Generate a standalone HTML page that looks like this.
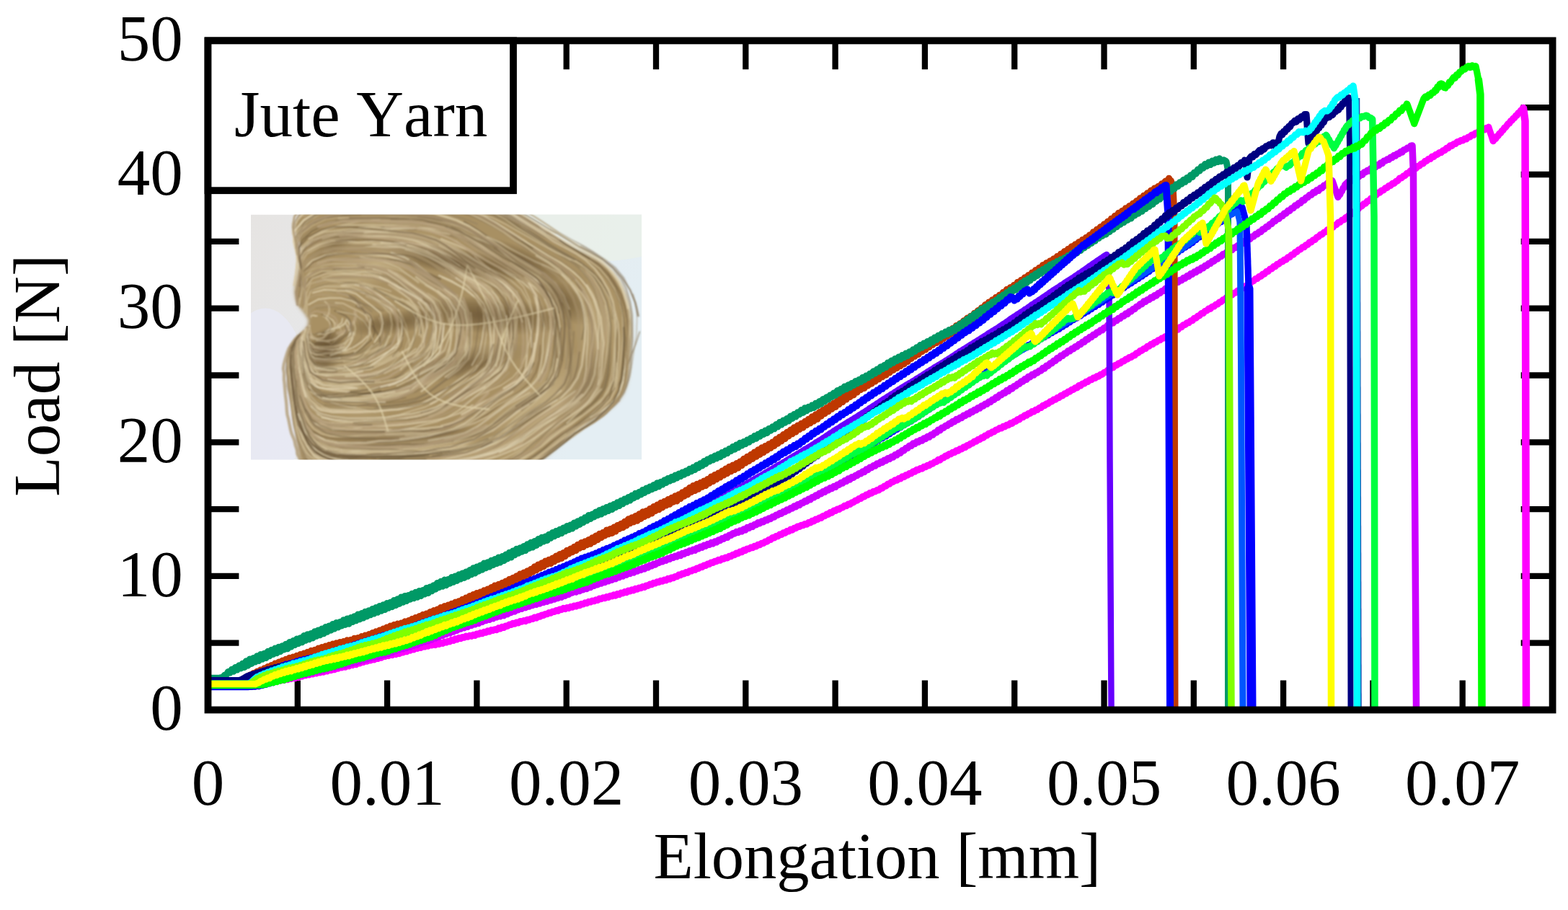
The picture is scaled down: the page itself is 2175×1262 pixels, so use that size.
<!DOCTYPE html>
<html lang="en"><head><meta charset="utf-8"><title>Jute Yarn - Load vs Elongation</title>
<style>html,body{margin:0;padding:0;background:#fff}body{width:2175px;height:1262px;overflow:hidden}svg{display:block}text{font-family:"Liberation Serif","DejaVu Serif",serif;font-size:91px;fill:#000;font-kerning:none}</style></head><body>
<svg width="2175" height="1262" viewBox="0 0 2175 1262">
<rect width="2175" height="1262" fill="#fff"/>
<defs><clipPath id="pc"><rect width="542" height="340"/></clipPath><linearGradient id="pbg" x1="0" y1="0" x2="1" y2="0.25"><stop offset="0" stop-color="#e6e4e2"/><stop offset="0.45" stop-color="#e7e9ec"/><stop offset="1" stop-color="#e4eef3"/></linearGradient><radialGradient id="psh" cx="0.5" cy="0.5" r="0.5"><stop offset="0" stop-color="#5a4528" stop-opacity="0.8"/><stop offset="0.6" stop-color="#5a4528" stop-opacity="0.35"/><stop offset="1" stop-color="#5a4528" stop-opacity="0"/></radialGradient><radialGradient id="phl" cx="0.5" cy="0.5" r="0.5"><stop offset="0" stop-color="#dccaa0" stop-opacity="0.6"/><stop offset="1" stop-color="#dccaa0" stop-opacity="0"/></radialGradient><filter id="pbf" x="-5%" y="-5%" width="110%" height="110%"><feGaussianBlur stdDeviation="0.9"/></filter><filter id="pbe" x="-5%" y="-5%" width="110%" height="110%"><feGaussianBlur stdDeviation="2"/></filter></defs>
<g transform="translate(348 297.5)" clip-path="url(#pc)">
<rect width="542" height="340" fill="url(#pbg)"/>
<ellipse cx="480" cy="10" rx="130" ry="55" fill="#eaf0e8" opacity="0.8"/>
<ellipse cx="20" cy="250" rx="60" ry="120" fill="#e8eaf5" opacity="0.8"/>
<g filter="url(#pbf)">
<path d="M60 13.5 L64.2 4 L71.1 -4.6 L78.7 -12.3 L86.9 -19.1 L95.5 -25 L104.6 -29.9 L114 -34.1 L123.8 -37.4 L134 -40 L144.4 -41.9 L155.2 -43.2 L166.2 -43.8 L177.3 -43.8 L188.7 -43.3 L200.2 -42.2 L211.8 -40.7 L223.4 -38.7 L235.1 -36.4 L246.9 -33.7 L258.5 -30.8 L270.2 -27.5 L281.7 -24 L293.1 -20.3 L304.4 -16.5 L315.5 -12.6 L326.3 -8.6 L336.9 -4.6 L347.2 -0.6 L357.2 3.4 L367 7.4 L376.6 11.6 L386 15.9 L395.4 20.5 L404.8 25.3 L414.2 30.1 L423.6 35 L433.1 39.8 L442.7 44.4 L452.5 48.9 L462.4 53.3 L472 57.9 L481.4 63 L490.1 68.7 L498.1 75.4 L505.2 83.2 L511.4 91.9 L516.6 101.4 L520.8 111.3 L524.1 121.6 L526.4 132 L527.9 142.5 L528.6 153.1 L528.7 163.6 L528.3 174.1 L527.5 184.6 L526.6 195.2 L525.7 205.9 L524.8 216.8 L523.4 227.5 L521 237.8 L517.2 247.4 L511.6 256 L504.4 263.8 L496.1 270.8 L487.3 277.3 L478.3 283.3 L469.3 289.1 L460.4 294.8 L451.8 300.7 L443.4 306.8 L435.4 313.3 L427.6 320 L419.7 327 L411.6 333.9 L403 340.8 L393.8 347.5 L383.9 353.9 L373.4 360 L362.5 365.8 L351 371.3 L339.1 376.5 L326.8 381.4 L314.3 385.9 L301.4 389.9 L288.4 393.6 L275.3 396.9 L262 399.8 L248.8 402.2 L235.6 404.1 L222.4 405.5 L209.4 406.4 L196.7 406.8 L184.1 406.7 L171.9 406 L160.1 404.7 L148.7 402.9 L137.7 400.4 L127.4 397.3 L117.6 393.5 L108.5 389.1 L100 384 L92.4 378.2 L85.6 371.7 L79.7 364.4 L74.7 356.4 L70.7 347.7 L67.8 338.1 L65.7 327.9 L64.3 317.2 L63.1 306.5 L61.8 295.9 L60.3 285.4 L58.7 275 L57.1 264.6 L55.3 254.2 L53.6 243.6 L52.1 233 L51 222.3 L50.8 211.8 L51.9 201.5 L54.4 191.5 L58.5 181.9 L64.3 172.5 L71.7 163.5 L78.7 154.7 L79.9 146 L74.5 137.3 L67.1 128.1 L62.2 118.1 L60.6 107.6 L61.4 96.8 L63.7 86 L66.5 75.3 L68.9 64.9 L69.9 54.5 L68.5 44.1 L64.6 33.7 L60.8 23.4 L60 13.5Z" fill="#a89064" filter="url(#pbe)"/>
<ellipse cx="290" cy="66" rx="110" ry="20" transform="rotate(10 290 66)" fill="url(#psh)" opacity="0.9"/>
<ellipse cx="104" cy="188" rx="26" ry="34" transform="rotate(25 104 188)" fill="url(#psh)" opacity="1.0"/>
<ellipse cx="330" cy="140" rx="120" ry="26" transform="rotate(4 330 140)" fill="url(#psh)" opacity="0.7"/>
<ellipse cx="300" cy="205" rx="90" ry="22" transform="rotate(-12 300 205)" fill="url(#psh)" opacity="0.5"/>
<ellipse cx="435" cy="118" rx="50" ry="22" transform="rotate(42 435 118)" fill="url(#psh)" opacity="0.5"/>
<ellipse cx="470" cy="235" rx="36" ry="60" transform="rotate(30 470 235)" fill="url(#psh)" opacity="0.35"/>
<ellipse cx="220" cy="310" rx="140" ry="16" transform="rotate(-4 220 310)" fill="url(#psh)" opacity="0.4"/>
<ellipse cx="120" cy="40" rx="50" ry="14" transform="rotate(-30 120 40)" fill="url(#psh)" opacity="0.4"/>
<ellipse cx="380" cy="62" rx="70" ry="14" transform="rotate(25 380 62)" fill="url(#psh)" opacity="0.5"/>
<ellipse cx="200" cy="150" rx="70" ry="16" transform="rotate(-8 200 150)" fill="url(#psh)" opacity="0.6"/>
<ellipse cx="170" cy="70" rx="110" ry="30" transform="rotate(-25 170 70)" fill="url(#phl)" opacity="0.8"/>
<ellipse cx="410" cy="255" rx="110" ry="40" transform="rotate(-35 410 255)" fill="url(#phl)" opacity="0.8"/>
<ellipse cx="260" cy="325" rx="160" ry="22" transform="rotate(0 260 325)" fill="url(#phl)" opacity="0.7"/>
<ellipse cx="140" cy="250" rx="60" ry="45" transform="rotate(40 140 250)" fill="url(#phl)" opacity="0.6"/>
<ellipse cx="480" cy="150" rx="35" ry="70" transform="rotate(0 480 150)" fill="url(#phl)" opacity="0.6"/>
<ellipse cx="330" cy="190" rx="60" ry="20" transform="rotate(0 330 190)" fill="url(#phl)" opacity="0.5"/>
<g fill="none" stroke-linecap="round" stroke-linejoin="round"><path d="M169 154.7 L174.5 163.3 L178.9 171.5 L179.5 179.8 L177.2 187.2 L172.8 196.2" stroke="#6c5a3e" stroke-width="2.5" opacity="0.6"/>
<path d="M530.1 110.2 L535.7 130.3 L535.5 148.8 L534.9 167.1 L531.8 185.6 L529.2 203.7 L526.2 222.8 L520.7 239.8 L511.2 255.5 L498.3 267.6 L482 278.2 L464.6 288.1 L448.8 296.9 L434 307.2 L416.7 319.6 L401.9 328.7 L386.4 338.1 L368.4 345.5 L350.7 351.7 L332.4 355.8 L314.5 358.2 L296.8 360.2 L279.2 361.3 L262.4 362.6 L244.8 363.6 L228.2 364.9" stroke="#988462" stroke-width="1.4" opacity="0.5"/>
<path d="M144.4 239.8 L122.5 238.1 L101.7 235.9 L85.6 228.8 L75.9 211.5 L73.2 193.2 L71.9 174.9 L77.5 157.8" stroke="#dacaa6" stroke-width="2.3" opacity="1"/>
<path d="M295.8 10.3 L310 18.6 L327.2 30 L341.4 39.1 L356.5 50.8 L374.5 60.7 L388.5 69.9 L404.4 79.9 L417.1 90.5 L429.8 105.6 L437.9 120.6 L442.7 138 L442.8 157.8" stroke="#6c5a3e" stroke-width="2.6" opacity="0.7"/>
<path d="M139.5 165.8 L137.4 170.6 L134 176.5 L130.6 182.1 L123.5 186.4 L117.3 190.3" stroke="#c9b890" stroke-width="2" opacity="0.7"/>
<path d="M329.1 247.2 L317.7 258.6 L306.1 270.6 L292.4 281.7 L279.5 289.9 L263.5 297.3 L247.4 302.7 L230.6 306.7 L213.2 309.7 L195.3 312.4 L177.1 314.8 L159.1 317.2 L138 318.3 L117.3 317.8" stroke="#baa480" stroke-width="4" opacity="0.8"/>
<path d="M265.3 328.6 L248.3 331 L232.6 334 L215.4 336.4 L196.8 338.7 L179.4 341 L161.1 342.8 L141.9 344.4 L119.8 344.1 L102.2 339.6 L87.7 332.7 L75.8 317" stroke="#756042" stroke-width="1.5" opacity="0.5"/>
<path d="M383.5 37.1 L396.5 46.1 L414.1 55.7 L429.1 63.6 L443.6 74 L456.1 84.3 L467.8 99.7 L474.6 113.3 L479.8 131.3 L481.6 148 L483.1 166.5 L482.6 183.2 L481.4 202.9 L479.2 219.8 L474.9 238 L463.2 253.4 L451.5 264.4 L435.5 276.4 L421.1 285.6 L405.6 295.4 L393.6 305.4 L377.5 317.2" stroke="#988462" stroke-width="1.9" opacity="0.5"/>
<path d="M159.9 113.3 L173.5 119.6 L187.4 126.2 L199.3 134.1 L208.1 146.3 L210.8 160.9" stroke="#d6c6a2" stroke-width="1.5" opacity="0.6"/>
<path d="M261 84.6 L278.2 92.2 L297.6 104 L313.6 116.7 L325.3 134.1 L330.1 151.1 L332.6 171.2 L334.4 191.5 L330.2 213 L318.1 226.2 L302.9 238.7 L288.4 252" stroke="#e4d8b8" stroke-width="2" opacity="0.8"/>
<path d="M278.3 17.1 L293.6 24.3 L311.3 33.5 L326.1 41.8 L340.9 51.2 L357.9 60.8 L373.9 69.1 L391.3 77.9 L405.6 86.5 L416.5 98.6 L428.4 114.4 L436.1 130.4 L440.6 147.6 L441.8 164.8 L442.9 182.9 L443.1 201.8 L439.9 219.3 L434.3 235.5 L421.8 250.4 L407.6 261.5 L391.7 272.8 L378.6 282.7 L365.7 293.4 L350.8 305.9 L336.2 314.8 L319.6 323" stroke="#7a6648" stroke-width="2.4" opacity="0.6"/>
<path d="M176.4 178.7 L166.1 185.7 L155 194.1 L141.9 199.2 L127.1 202.8 L112.9 204.3 L97.3 204.2 L84.6 198.9 L78.1 185.3" stroke="#c5b28a" stroke-width="2.1" opacity="0.9"/>
<path d="M178.2 143.3 L182.5 156.8 L184.4 170.9 L177.5 182.3 L167.2 191.4 L156.4 199.9 L143.2 205.9 L128.3 209.7 L115.2 210.8 L100.1 211.8 L84.7 207 L76.9 193.5 L74.8 176.9" stroke="#b6a07c" stroke-width="2.1" opacity="0.8"/>
<path d="M169 41.5 L187.8 42.8 L206.4 44.8 L225.3 50.3 L242.6 57.5 L257.7 65 L273.3 74.8 L290.5 85.7 L306.6 95.3 L318.4 105.8 L330.8 120 L337.4 138.3 L337.6 157.6 L337 174.6 L334.4 194 L326.2 211 L312.8 222.9 L297.5 232.8 L281.9 242.1 L265.9 253.2 L248.8 262.9" stroke="#dfd0ac" stroke-width="1.6" opacity="1"/>
<path d="M377.4 315.6 L367.2 323.2 L356.1 329.3 L346 333.5 L333.8 338.7 L320.5 343.3 L308 346.8 L298.3 348.9 L285 351.5 L271.8 354 L257.8 356.6 L246.8 357.7 L232.6 359.2 L220.2 360.8 L207.2 360.5 L195.7 360.8 L180.9 362.1 L166.4 362.7 L151.8 362.4 L139.3 361.7 L125.1 360.7 L111.9 358.8 L98.5 353.6 L89.8 347.2 L80.2 338.3 L73.6 327.3 L68 313.8 L65.2 302.4 L62.1 289.4 L59.5 275.1 L57.6 261.6 L56.6 250.6 L55.2 235.4 L53.1 221.2 L52.1 206 L52.5 194.1 L56.8 179.8 L65.6 168.5" stroke="#cdbb94" stroke-width="1.8" opacity="0.6"/>
<path d="M179.2 82.5 L195.3 92.7 L212.2 104.4 L227.7 114.2 L241.5 126.4 L247.4 144.1 L243.6 163.4 L240.1 182.6 L225.9 197 L208.7 207.1 L192.7 216.9 L174.3 223.7" stroke="#c9b890" stroke-width="1.8" opacity="0.7"/>
<path d="M180.9 17.9 L198.9 18.9 L217.6 20 L234.3 20.3 L250.5 21.9 L267.8 25.5 L284.3 31.2 L301.6 38.7 L317.5 47.9 L334.2 56.3 L350.3 65.4 L367.4 74.7 L383.7 84.2 L398.4 96.1 L410.4 110.4 L419 127.6 L425.5 145.5 L427.7 165.1 L426.6 180.3 L425.5 199.3 L425.4 218.6 L419.1 235.3 L404.8 247.5 L391.2 259.4 L375.6 271.2" stroke="#7a6648" stroke-width="2.3" opacity="0.7"/>
<path d="M149.5 98.2 L166 100.5 L181.6 106.6 L196.7 113.2 L213.9 120.6 L229.3 132.8" stroke="#cdbb94" stroke-width="2.4" opacity="0.8"/>
<path d="M292.5 286 L278 292.5 L259.7 297.7 L240.8 301.5 L224.7 303.1 L206.3 306 L190.1 306.5 L172.8 306.8 L152.5 307.4 L133.9 306.9 L114.3 305.1 L96 299.4 L83 290.8 L72.6 274.4 L68.3 257.6 L65.6 240 L63 220.7 L61 204.6 L61.2 186.2" stroke="#b6a07c" stroke-width="4.1" opacity="0.5"/>
<path d="M245.1 80.8 L262.5 94 L279.9 106.3 L292.4 123.1 L297.3 144 L295.2 165.4" stroke="#988462" stroke-width="1.1" opacity="0.7"/>
<path d="M70.6 97.5 L70.4 77.8 L65.9 61.3 L71.9 47.3 L88.7 36 L106.3 29 L123 26.4 L141.9 25.4 L161.1 25.3 L178.8 26.3 L197.1 27.6 L214.5 28.4 L230.7 30.3 L248.7 34.7 L264.9 41.5 L278.8 52.3 L293 61.2 L308.5 71.7 L322.7 79.9 L337.1 89.8 L350.4 100.1 L360.8 114.9 L366.2 131 L367.8 149.8 L368.6 169.6 L366.8 187.5" stroke="#a6906e" stroke-width="2.9" opacity="0.9"/>
<path d="M148.2 127.1 L158.5 133.9 L166.3 142.8 L165 154.7 L163.8 167.1 L154.5 176.1 L144.2 183 L132.9 188.4 L120.9 189.9" stroke="#dfd0ac" stroke-width="2.1" opacity="0.8"/>
<path d="M250.8 124.2 L262.9 142.2 L265.7 164.5 L265.8 187 L254.2 204.8 L235.8 218.7 L218.2 231.5" stroke="#b29c76" stroke-width="2.8" opacity="0.9"/>
<path d="M110 219.6 L97.3 221.3 L86.4 219 L79.3 209.3 L75.4 196.7 L72.9 183.3" stroke="#756042" stroke-width="1.5" opacity="0.5"/>
<path d="M135.3 147.6 L137 151.8 L137.7 156.5 L138.1 160.6 L137.7 166 L135.7 169.6" stroke="#e4d8b8" stroke-width="2.4" opacity="0.8"/>
<path d="M263.7 33.7 L282.5 41.1 L302 50.1 L319.5 59.9 L334.8 68.8 L353.5 78.5 L372.9 87.5 L391.4 99 L406.1 114.1 L415.4 130.4" stroke="#dfd0ac" stroke-width="1.8" opacity="0.8"/>
<path d="M124.2 -13.5 L142.1 -15.8 L159.9 -15.5 L179 -14.6 L197 -14.2 L215.5 -14.9 L234.7 -14.1 L252.8 -11.8 L271.4 -8.8 L289.9 -4.5 L306.2 0.9 L323.4 7.9 L339.4 17.2 L356 27.9 L371.9 37.7 L388 47.9 L403.6 58.3 L420 67" stroke="#92805e" stroke-width="2.2" opacity="0.4"/>
<path d="M392.9 275.3 L378.5 285.9 L366.1 295.1 L350.8 305.2 L337.5 313 L323.9 318.1 L306 322.7 L291.8 326.4 L274.7 327.9 L258.1 329.1 L240.9 330.1 L226.7 330.7 L209.1 330.6 L194.6 330.8 L177.2 332.4 L161.8 332.4 L142.9 331.9 L127.9 331.2 L113.2 328.8 L98 321.6 L85 314.8 L76.1 301.1 L69.1 286.3 L65.5 267.3 L62.9 253.5 L61 237.5 L59.5 224.9 L57.1 207.2 L57.4 194 L61.1 178.7 L69 165.5" stroke="#dacaa6" stroke-width="2.2" opacity="0.9"/>
<path d="M161.4 23.7 L178.6 24.7 L196.7 25.8 L214.4 27.3 L232 30.5 L248.5 34.9 L264.4 42.1 L279.3 52.7 L293.2 63.3 L307 73 L321.2 82.3 L335.1 90.2 L348.9 100 L358 114.4 L363.7 130.9 L365.7 148.8 L364.6 167.8 L361.2 184.8 L357.6 201.3 L350 217.2 L336.2 228.3 L321.7 238 L306.7 248.4 L292.5 257.7" stroke="#c9b890" stroke-width="2.5" opacity="0.7"/>
<path d="M350.4 201 L342.2 216.3 L328.1 228.9 L312.5 238.9 L296.7 250.3 L281.3 260.7 L265.2 270.1 L247.4 276.4 L230 280.5 L211.3 282.6 L191.9 284.5 L174.8 285.2 L155.8 286.4 L137.3 286.8 L118.2 285.5 L98.5 281.5" stroke="#dfd0ac" stroke-width="1.8" opacity="0.9"/>
<path d="M400.8 181.6 L400.2 201.6 L395.6 218.8 L387.1 232.5 L372.8 245.5 L358.4 255 L344.2 264.6 L328.7 276.5 L313.5 286.4 L295.6 295.4 L279.9 301.4 L263 305.8 L244.9 308.3 L228.6 309.2 L211.4 310.6 L191.8 311.6 L174.9 311.3 L156.9 311.3 L134.5 311.2 L115.6 310.7 L98.3 307.3 L82.9 298 L73.8 283.6 L67.6 264.8 L65.1 248.5 L62.6 230.3" stroke="#756042" stroke-width="2.1" opacity="0.5"/>
<path d="M430.3 244 L415 256 L400.3 265.4 L385.5 274.2 L368.7 285.7 L353.9 298 L339.2 307.1 L321 315.1 L302.8 320.6 L286.1 323.7 L266.4 326.3 L249.4 328.6 L232.9 330.4 L213.2 332.2 L195.9 333.1 L179.1 333.2 L157.7 334 L138.6 333.4 L119.7 332.7 L100.7 326.6 L87.4 320.1 L78 307.2 L69.6 289.5 L65.5 272.5 L61.9 256.2 L60 236.2" stroke="#dfd0ac" stroke-width="2" opacity="0.7"/>
<path d="M71.9 102.2 L70.9 84.4 L69.2 67.9 L77.7 54.4 L95.6 45.2 L113.6 40.7 L131 39.7 L148.6 40.1 L166.7 40.4 L183.3 40.6 L201.4 42 L218.4 45.2 L235.4 50.8 L250.3 58.5 L264.8 67.1 L278.1 76.8 L291.8 87.6 L306.4 96.3 L319.7 107.7 L329.5 120.8 L335.1 136.7 L336.9 154.3 L334.8 171.1 L333.8 187.7 L329.6 203.4" stroke="#d3c29c" stroke-width="1.8" opacity="0.6"/>
<path d="M227.3 -35.2 L245.7 -35.8 L264.5 -34.7 L283 -32.3 L300.4 -29.8 L314.1 -28.1 L330.9 -23.1 L346.4 -16 L362.3 -7.5 L377.2 0.4 L392.9 10.6 L407.8 20.1 L422.5 29.8 L437.3 37.9 L450.8 44.5 L466.2 53.5 L481.2 62.4 L495.4 74.8 L506.9 89.9 L514.9 103.8 L520.8 122 L524.6 139.4 L525.4 157.6 L523.4 175 L521.8 191.1 L519.7 210.4 L517.1 227.4 L512.9 243.5 L502.9 259.1 L489 270.7 L475 281.5 L459.2 290.7 L444.2 301.4 L429.5 312.6 L418.8 322.8 L405.2 334.3 L388.9 344.7 L372.9 352.4" stroke="#dacaa6" stroke-width="2" opacity="0.7"/>
<path d="M161.8 79.5 L178.9 85 L195.2 94.5 L209.5 105.9 L224.6 116.5 L237.5 127.7 L243.4 143.4 L243.6 162.4 L239.2 180.9 L228.1 195.8 L211.7 204.5 L197.8 213.9 L180.8 220.3 L162.8 223.1 L145.2 224.6" stroke="#a6906e" stroke-width="3.2" opacity="0.9"/>
<path d="M406.4 330.4 L387.8 341.7 L369.6 348.5 L351.3 354.7 L330.3 356.8 L312.6 358.5 L294.6 359.5 L273.7 361 L255.9 360.5 L239.2 360.5 L218.7 360.6 L200.4 361.1 L179.5 360.5 L161.2 358.9 L141.8 357.5 L121.5 355.1 L105.6 348.9 L92 341 L79.9 327" stroke="#b29c76" stroke-width="4.1" opacity="0.8"/>
<path d="M183.3 181.7 L171.5 187.1 L158.4 193 L146.6 197.4 L133.4 199.1 L121.2 199.4 L110.9 198.5 L99 196 L87.6 192 L81.2 183.7 L79.7 173.1 L78.4 163.6 L80.9 154.8" stroke="#cdbb94" stroke-width="1.6" opacity="0.8"/>
<path d="M111.3 154.1 L110.4 157.6 L106.6 160.3 L102.9 162.3 L99.7 164 L96.2 164.9 L92.3 164.6 L87.5 166.5 L83.8 165.4" stroke="#827050" stroke-width="1.6" opacity="0.6"/>
<path d="M128.3 210.3 L117.8 210.7 L106.5 211.8 L93.7 211.3 L84.3 207.5 L78.8 199.3 L75.9 187.8 L74.3 178.1 L73.9 166.5 L78.6 156.9" stroke="#c9b890" stroke-width="2.5" opacity="0.7"/>
<path d="M71.7 77.1 L85 63.6 L102.4 56.6 L118 54.5 L135.6 54.4 L154.9 54.8 L171.8 55.9 L190.1 57.5 L206 62.3 L223.2 69.6 L238.1 79.5 L251.2 89 L265.8 100 L280.3 110.3 L292.9 120.3 L301.1 137.4 L304.9 154 L303.9 169.6 L301.3 187.2 L296.4 203.8 L284 214.8 L269.5 225.2" stroke="#dfd0ac" stroke-width="2" opacity="0.8"/>
<path d="M106.1 210 L94.5 210.3 L84.9 204.9 L80.1 194.7 L77.6 183 L74.7 169.9" stroke="#827050" stroke-width="2.2" opacity="0.7"/>
<path d="M457.7 43.9 L474.1 52.6 L488.9 63.3 L501.5 74.1 L513.2 88.4 L520.4 101.9 L526 121.1 L528.7 138.8 L528.8 156.7 L529.2 174.8 L527.8 192.5 L526.9 210.9 L523.3 229.7 L517.5 247.1 L507.4 262.1 L493.8 274 L477.7 285.5 L462.3 295.6 L446.8 303.9 L431.1 315.2 L416 325.7 L400.1 335.6 L384.4 344.6 L368 351.6 L350.5 357.4 L333.1 361.7 L316.5 365.2 L298.8 367.2 L281.9 368.3" stroke="#756042" stroke-width="2.3" opacity="0.4"/>
<path d="M264.7 330.5 L250.1 331.7 L238.9 334.2 L225.7 335.3 L214.1 336.6 L200.5 339 L188.3 340.6 L172.9 341.7 L156.5 341.8 L143.4 341.5 L128.1 340.5 L115.5 338.7 L101.4 334.4 L92.1 330.6 L81.4 320.3 L74.9 308.7 L69.3 293.3 L65.2 279 L61.5 266.6 L59.7 250.8 L58.4 238.4 L56.2 223.7 L54.1 211.1 L54.6 194.9 L57.8 182 L67.2 167.1" stroke="#827050" stroke-width="2.5" opacity="0.7"/>
<path d="M310.7 58.4 L323.9 69.8 L339.6 81.5 L352.9 94 L362.9 108.4 L367.7 127.5 L369.6 146.3 L366.3 166.2 L362.5 183.4 L356.2 202.2 L343.1 217.9 L325.8 229.7" stroke="#d3c29c" stroke-width="1.6" opacity="1"/>
<path d="M72.7 87.4 L69.1 68 L72.1 55.6 L88.1 42.1 L104.6 35.4 L123.2 31.7 L141.2 31.8 L160.4 31.6 L177.5 32.2 L197.5 33 L215.6 34.9 L233.7 36.5 L249.1 40.9 L266.1 49.9" stroke="#aa946c" stroke-width="3.7" opacity="0.9"/>
<path d="M68.8 127.5 L72 108 L71.7 88.3 L72.1 70.1 L87.1 55.2 L105.9 47.3 L125.9 45.2 L146.5 43.7 L169.3 44.8" stroke="#aa946c" stroke-width="4.3" opacity="0.6"/>
<path d="M80.9 115.9 L89.2 111.6 L99.2 111.1 L108.4 112.7 L116.7 114.7 L124.7 115.8" stroke="#b29c76" stroke-width="2.1" opacity="0.6"/>
<path d="M254.5 186.3 L246.1 200.1 L233.8 210.6 L220.4 221.8 L206.2 232.3 L189.9 238 L171.7 242 L154.2 244.4 L137.2 246.6 L116.7 248.2 L97.7 246.1 L82.1 234.7 L74.8 217 L70.3 198.3" stroke="#7a6648" stroke-width="1.8" opacity="0.5"/>
<path d="M110.6 155.2 L109.1 158.5 L106.6 162.1 L104.4 164.6 L102 168.6 L99.5 171.7 L96.1 172.9 L91 172.5 L85.7 172.2 L82.3 166.2 L80.5 160.3" stroke="#b6a07c" stroke-width="2.9" opacity="0.7"/>
<path d="M313.5 209.1 L299.8 221 L285.1 231.6 L269.1 243.4 L255.7 253.1 L238.8 261.5 L222.5 266.8 L203.5 269.9 L186.2 271.3 L168.8 272.5 L150.7 274 L132.2 273.8 L111.4 271.7 L94.7 268.6 L82.3 257.1 L74.6 240.4 L69.9 221.2 L67.1 202.9 L65.3 184.6" stroke="#d6c6a2" stroke-width="2" opacity="0.9"/>
<path d="M124.2 98.4 L135.8 96.6 L150.2 96.5 L164.4 97.5 L179.5 101.1 L194.4 106.6" stroke="#dacaa6" stroke-width="1.5" opacity="0.7"/>
<path d="M374.5 15.8 L388.1 26 L403.4 37.1 L417.7 46.7 L433.7 55.9 L449.1 64.4 L461.3 73.4 L474.9 88 L484 103 L491.7 121.5 L495.9 137.7 L497.4 157 L496.2 174.1 L493.6 193.5 L491 210.3 L487.7 227.8 L480.6 245.5 L471 256.3 L454.6 267 L440.4 276.7 L424.4 287.2 L409.9 297.6 L394.4 308.9 L379.9 318.7 L365.4 326.9" stroke="#dacaa6" stroke-width="1.9" opacity="0.6"/>
<path d="M247.2 20.7 L264 27.1 L279.6 34.8 L296.9 45.9 L310.8 57.7 L324.7 70.5 L337.7 80.3 L351.4 91.5 L362.9 102.6" stroke="#baa480" stroke-width="2.4" opacity="0.8"/>
<path d="M113.7 187.5 L104.6 186.7 L94.4 187.6 L86.4 186.2 L81.2 180.1 L79.4 170.9 L79.1 162.6 L81.3 154.4" stroke="#a6906e" stroke-width="4" opacity="0.8"/>
<path d="M132.7 27.7 L151.3 29.4 L169.3 30.5 L188.4 30.3 L207.5 32.5 L223.8 34.8 L241.5 40.9 L257.9 50.3 L273.8 60.8 L289.6 70.9" stroke="#dacaa6" stroke-width="1.3" opacity="0.8"/>
<path d="M290.5 360.6 L276.8 362 L262.3 363.5 L247.7 364.4 L231.9 365.5 L217.2 366.3 L202.8 365.5 L189.5 366.1 L177.4 365.2 L162.2 365.8 L146.2 366 L131.6 364.9 L116.2 363.6 L102.8 359.3 L92.4 352.9 L82.2 343.8 L75.3 334.8 L68.7 321.2 L63.4 307.3 L59.9 293.3 L57.7 279.4 L55.9 265 L53.8 251.7 L50.4 237.7 L51.1 224.9 L51.3 209.3 L52.7 196.3 L58 182.1 L65.5 168.6" stroke="#92805e" stroke-width="2.2" opacity="0.5"/>
<path d="M369.4 239.5 L353 251.7 L337.9 262.2 L325 272.3 L310.7 283.8 L296.3 293.3 L279 301.7 L263.1 306 L245 310.4 L226.1 312.8 L211.1 313.7 L192.1 315.1 L174.6 314.2 L153.7 315.1" stroke="#7a6648" stroke-width="1.1" opacity="0.4"/>
<path d="M265.6 87.4 L281.7 95.2 L298.6 103.7 L312.1 115.6 L320.9 130.3 L325.6 148.9 L326.6 166.6 L324.1 183.1 L321.3 200.6 L310.8 215.8 L297.4 228.7 L285.1 237.8 L271.1 248.4 L256.8 259.6 L241.5 267 L223.4 272.2 L205.9 278 L189.9 281.1 L171.5 282.5 L154 283.4 L134 284.3 L115.5 284.3 L96.8 279.7" stroke="#dfd0ac" stroke-width="1.9" opacity="0.6"/>
<path d="M207 147.4 L213.7 159.3 L219.7 174.5 L219.5 187.4 L213.6 198.1 L206 210.6" stroke="#c9b890" stroke-width="1.4" opacity="1"/>
<path d="M128.7 -1 L148.8 -1.9 L167.9 -2 L186.9 -0.5 L203.4 -0.6 L222.3 1.8 L241.5 3.5 L260.2 7.1 L278.3 11 L295.7 18.2 L310.7 25.4 L327.4 35.5 L341.8 47.2 L357 58 L372.7 68.8 L387.5 78.3 L403 88.2 L414.1 102.3 L422.3 119.4 L427.4 136.6" stroke="#685538" stroke-width="2.1" opacity="0.6"/>
<path d="M293.6 -21.7 L311.1 -18 L325.9 -13.9 L342 -7.7 L359 0.2 L374.4 8.2 L388.7 16.9 L403.2 26 L418.5 35.2 L434.6 43.1 L453 53.3 L469.5 62.3 L483.9 72.4 L496.3 85.7 L505.5 100.4 L512.6 117.2 L516.1 134.9 L517.9 153.8 L519.2 171 L518 190.2 L517.1 211.5 L514.7 229.2 L510.1 246.1 L499.7 261.3" stroke="#6c5a3e" stroke-width="1.8" opacity="0.5"/>
<path d="M450.1 244.7 L435.5 255.3 L419.5 266.3 L403.8 276.8 L387.4 287.9 L371.2 299.2 L355.2 308.9 L339 317.5 L320 324.4 L302 328.5 L282 332 L264.7 334.6" stroke="#e4d8b8" stroke-width="1.7" opacity="0.7"/>
<path d="M72.8 99.8 L69.9 80.3 L75.4 64.3 L95.1 52.5 L112.7 47.9 L132.5 48.3 L151.4 49.4 L169.6 51.9 L187.6 54.4 L205.5 59 L220.7 67.3 L233.5 77.8 L245.8 88.2" stroke="#a6906e" stroke-width="2.7" opacity="0.8"/>
<path d="M100.2 141.4 L104.1 143.2 L110.2 145.1 L115.7 149.1 L120.2 153.5 L124.1 157.9 L125.5 162.8 L122.4 166.4 L119.5 171.8 L115.3 177.1 L110.4 180" stroke="#cdbb94" stroke-width="1.6" opacity="0.6"/>
<path d="M468.7 129.3 L471.9 147.3 L473.4 166.3 L471.4 184.3 L470.4 202.5 L468.6 221.1 L462.8 237.9 L451.4 252.4 L435.9 263.5 L420 275 L405 285.3 L390.3 295.7 L375.1 307.5 L359.7 319 L343.6 327.7 L326.1 334.2 L308.1 340.2 L294 342.5 L275.7 345.7 L256.9 347.2" stroke="#92805e" stroke-width="1.7" opacity="0.5"/>
<path d="M273.4 353 L259.6 354.7 L248.8 355.5 L234.8 355.8 L221.7 357 L208.4 357 L194.8 355.6 L181.3 355.9 L167 357 L151.9 357.8 L136.9 357.6 L122.4 356.2 L110.2 352.4 L97.9 346.9 L87.9 340.9 L79.3 329 L72.3 315.5 L67 302.1 L62.7 287.9 L58.8 274.4 L56.4 261.7 L55.5 247.6 L53.6 234 L52.6 219.1 L51.9 206.7 L53.2 193.3 L57.5 179.5 L66.4 167.8" stroke="#7a6648" stroke-width="2.5" opacity="0.4"/>
<path d="M231.4 324 L216.2 325.3 L199.9 326.2 L183.5 326.9 L162.4 326.9 L144.6 327.9 L127.7 327 L112 324.9 L97.1 319.3 L84.3 310.9 L74.8 297.3 L69.1 282.5 L63.7 265.8 L60.9 250.7 L60.1 231.8 L58.2 215.7 L58.1 198.7 L61.5 181.8 L68.6 165.9" stroke="#e4d8b8" stroke-width="1.5" opacity="0.9"/>
<path d="M64.3 73.8 L63.6 56.3 L59.2 37.8 L60 24 L73.2 7.9 L89.1 -1.9 L106.6 -6.7 L124.2 -9.6 L143.9 -9.7 L161.4 -9.2 L180 -6.5 L197.1 -5.9 L217.7 -5 L236.6 -3.3 L253.7 -1.5 L269.5 3.1 L285 7.9 L303.3 16.4 L316.7 24.8 L329.5 35.4 L341.4 45.3 L355.1 57.2 L367.2 67.1 L380.1 75.5 L392.5 85.3 L403.7 98.2 L413.8 111.3 L418.9 125.2 L420.9 140.5 L420.5 156.3 L416.8 174.9 L412.9 189.6 L408.9 204.4 L403.2 218.8" stroke="#dfd0ac" stroke-width="2.3" opacity="1"/>
<path d="M171.6 82.1 L190.3 91.7 L205 105 L219.6 117 L230.7 131.6 L232.3 151.3 L227.1 170.3 L217.6 186.5 L199.2 195.9 L181.5 205.9 L163.6 211.5" stroke="#cdbb94" stroke-width="1.9" opacity="0.9"/>
<path d="M157.4 192.8 L147.8 199.6 L135.9 203.2 L125.2 205.1 L113.3 205.5 L100.6 205.1 L87.5 202.1 L81.1 193 L78.3 179.9 L76.5 167.8 L79.3 156.2" stroke="#827050" stroke-width="1.7" opacity="0.6"/>
<path d="M182.8 -14.4 L198.9 -15.2 L217 -15.7 L235.8 -14.1 L251.7 -13.5 L269.7 -10.9 L286.1 -6.6 L304 -2.7 L319.4 2.6 L335.8 12.4 L350.6 21.1 L365.6 30.6 L379 39 L394.6 48.6 L410.8 57.5 L425 65.9 L439.3 78.4 L451 92.7 L460.2 109.3 L466.2 125.1 L470.8 143 L473.8 161.9 L472.4 179.5 L472.9 196.8 L471.1 216.3 L467.3 234.2 L458.6 247.4 L445.7 260.5 L429.8 272.1 L413.4 281.9 L401.5 291.2 L387.1 302.7 L373.1 313.9 L356.2 324.1 L339.9 329.5" stroke="#685538" stroke-width="1.9" opacity="0.6"/>
<path d="M105.7 64.5 L124.5 62.2 L144.5 60.9 L164.5 60 L184.1 61.4 L204.1 63.7 L223.6 69.7 L243.1 80 L262.8 89.6" stroke="#685538" stroke-width="2.3" opacity="0.6"/>
<path d="M505 133.8 L509.5 151.3 L511 168.9 L510.8 186.6 L509 205.3 L507.9 223.6 L505.5 240.9 L500.4 254 L488.9 267.3 L476.9 278.3 L462.6 290.4 L449.7 301.5 L436.1 312.1 L423.3 323.7 L409.8 333.9 L395.3 343.4 L381.5 352.1 L365.4 359.7 L348.7 366 L331 369.6 L314.7 372.8 L296.9 375.2 L282 377.4 L265.1 378.6 L247.8 379.7 L230.8 380.1 L212.6 381.7 L192.5 382.3 L172.8 382 L152.6 382.4" stroke="#e4d8b8" stroke-width="1.4" opacity="0.7"/>
<path d="M317 -4.7 L331.2 0.1 L346.6 6.1 L361.1 15.1 L374.4 23.3 L388.6 32.6 L404.3 42.9 L419.7 51.2 L434.9 60.3 L449.7 69.2 L462.8 80.1 L473.9 93.3 L484.2 111.2 L489.7 127.2 L493.5 144 L495.8 161 L496.6 179 L496.3 197.9 L494.4 215.6 L491.7 232.6 L485.4 248.7 L475.9 260.9 L463.5 271.9 L446.8 283.9 L433.2 293.8 L421.7 304.7 L409.4 315 L395.4 326.5 L381.4 336.2 L363.8 345.6 L349.8 351.8 L333.3 357 L316.8 360.1 L298.7 362.8 L278.9 365 L261.5 366.2" stroke="#92805e" stroke-width="2.6" opacity="0.5"/>
<path d="M272.9 239.6 L262 247.7 L249 256.4 L235.8 262.9 L221.1 266.6 L204.9 270.3 L190.2 271.4 L175.4 273.1 L160.1 273.8 L145 274.3 L129.2 274.3 L113 274.3 L96.8 271.2 L84.2 263.7 L75.5 252.5 L70.9 236.7 L69.2 222 L67.1 206.6 L65.5 191.6 L66.4 175.7 L73.4 161.6" stroke="#dacaa6" stroke-width="2.4" opacity="0.9"/>
<path d="M77.6 138.5 L77.9 119.9 L83.5 105 L102.7 99.6 L121.5 99.9 L139.4 100.9 L156.1 106.5 L170.9 116.8 L185.7 126.9 L198.1 137.7" stroke="#d3c29c" stroke-width="1.7" opacity="0.7"/>
<path d="M182.1 62.4 L200.5 66.2 L215.7 74.5 L230.9 85.3 L246.2 96.3 L261.2 104.6 L275 116.1 L283.9 131.3 L286.3 149.4 L285.9 167.3 L282.9 185.1 L275.6 200.8 L260.2 212 L244.3 219.9" stroke="#887454" stroke-width="1.3" opacity="0.6"/>
<path d="M205 97.9 L221 107.4 L237.3 115.9 L253.6 128.5 L260.6 145.9 L261.9 163.7 L261.1 181.6 L252.5 197.3 L238.1 208.6 L223.2 219.9 L208.3 230.1 L190.4 237.2 L171.8 241.5 L152.4 244.2 L133.4 245.9" stroke="#6c5a3e" stroke-width="1.7" opacity="0.5"/>
<path d="M79.7 -13.2 L97.6 -24.3 L114.5 -29.2 L135.1 -32.3 L152.4 -33.4 L173.8 -33.1 L191.9 -32.6 L212.2 -32.8 L229.3 -32.3 L247.1 -32.2 L268.2 -31.3 L286.6 -28.1" stroke="#d6c6a2" stroke-width="1.4" opacity="0.9"/>
<path d="M214.8 46.2 L233.3 52.3 L252.3 62.4 L267.3 73.2 L282 84.5 L298.2 95.9 L311.5 107.1 L321.8 123.4 L324.5 142.8 L323.4 160.2 L318.1 178.6 L313.7 198.9 L301.9 212.1 L285.4 223.3" stroke="#887454" stroke-width="1.9" opacity="0.5"/>
<path d="M134.1 154.6 L136.7 161.2 L136.6 168 L133.5 173 L129.9 179.3 L123.4 183.8" stroke="#dacaa6" stroke-width="1.8" opacity="1"/>
<path d="M229.7 142.4 L227.8 163.5 L222 184 L203.7 196.2 L185.3 206.2 L165.4 214.9 L145.3 216.9" stroke="#dfd0ac" stroke-width="1.7" opacity="0.7"/>
<path d="M199 65.5 L213.9 71.3 L229.6 79.7 L245.1 89.3 L261.1 98.4 L277.3 107.6 L290.2 118.8 L298.9 134.5 L303.7 151.2 L304.1 170.1 L303.2 187.9 L296 205 L283.4 218.1 L270.5 228.5 L256.6 239.1 L242.2 250 L226.5 258.3 L208.4 263 L191.3 265.3 L173.9 268.4" stroke="#92805e" stroke-width="2.5" opacity="0.8"/>
<path d="M243.9 50.6 L259.4 59.3 L274.7 69 L291.7 80.5 L306.2 88.1 L320.2 99 L334.2 112.8 L342.6 129.2 L345.5 147.4 L344.4 165.5 L343.2 184 L339.9 203 L331.5 218.1 L317.4 230 L300.6 240.5 L285.7 250.2 L271.5 260.9 L255.1 269.2 L239 275.1" stroke="#d3c29c" stroke-width="2.6" opacity="0.7"/>
<path d="M176.3 47.4 L193.2 48 L212.3 50.8 L228.7 55.9 L245.6 65.2 L260 74.9 L275.8 83.2 L293 93.1 L309.1 100.9 L323.3 110.8 L334.5 127.6 L340.2 142.7 L341.2 159.2 L341.5 177.9 L339.3 196.6 L332.7 214.3 L319.8 227.7 L305.9 236.6 L289.9 247.4 L276.2 259.1 L261.1 268.4 L244.8 275.9" stroke="#baa480" stroke-width="4.3" opacity="0.7"/>
<path d="M392.4 48.3 L407.4 57 L423.3 66.5 L438 76.4 L449.9 89 L458.8 102.5 L465.4 119.9 L470.3 138.2 L472.6 156.9 L472.5 174.9 L471.5 189.9 L469.4 208.3 L463.8 225.3 L455.4 241.3 L442.7 254.5 L425.3 265.6 L411.5 273.8 L395.8 283.3 L380.2 295.1 L365.6 305.5 L349.7 315.9 L333.3 323.8 L317.5 328.6 L298.7 331.8 L281.1 334.9 L262.6 336.5 L245.2 339.6 L227.8 341.4 L211.6 342.1 L193.7 343.6 L175.1 343.2 L155.9 343 L137.4 343.1 L118.9 341.2 L104.7 336.8" stroke="#baa480" stroke-width="3.2" opacity="0.6"/>
<path d="M508 206.1 L506.5 223.7 L501.4 243.4 L492.8 258.5 L478.3 272.1 L465.3 283.9 L449.7 295.6 L436.5 304.7 L420.6 318.4 L407.6 329.1 L394.3 339.5 L377.3 348.8 L361 356.2" stroke="#cdbb94" stroke-width="2.4" opacity="0.9"/>
<path d="M69.9 86.8 L68.8 68.4 L65.9 49.8 L70.6 36 L84.8 23.3 L101.2 15 L118.3 9.3 L134.8 7.2 L153.1 7.7 L173.2 8.1 L190.9 8.4 L209.8 8.9 L227.3 9.9 L245.3 11.1 L262.1 15.7 L277.6 21.7 L293.9 30.6 L310.3 39.3 L326.9 48.7 L344.1 59.6 L360.2 69.5 L376.8 78.1 L393.1 88.9 L406.9 103" stroke="#685538" stroke-width="1.4" opacity="0.8"/>
<path d="M80.3 33.5 L99.4 22.7 L118 17 L136.7 14.8 L155.9 14.5 L176.9 15.5 L196.2 15.4 L216.6 16.6 L235.8 19.2 L254.1 22.5 L275.9 27.6" stroke="#cdbb94" stroke-width="1.7" opacity="1"/>
<path d="M539.4 162.5 L533.4 180.7 L525.3 201.2 L517.8 221.7 L507.2 239.3 L492.1 255.7 L476.1 267.1 L456.2 278 L435.1 287.6 L414 296.9" stroke="#887454" stroke-width="1.3" opacity="0.8"/>
<path d="M174.5 206.5 L160.5 213.1 L146.1 215.3 L132.4 217.2 L118.3 219 L101.6 219.5 L86.4 215.1 L77.7 202.9 L75.3 187 L73.7 171.5 L78 157.4" stroke="#ae9874" stroke-width="3.3" opacity="0.7"/>
<path d="M266 294.2 L242.9 296.3 L221.8 298 L200.4 298.4 L180.1 298.6 L159.1 298.6 L137.8 298.4 L117.4 295.5 L98.3 290.3 L84.3 278 L74.6 261.2 L69.6 241" stroke="#d3c29c" stroke-width="2.3" opacity="1"/>
<path d="M73.7 2.4 L92.3 -9.6 L107.3 -16.2 L126.7 -21 L143.3 -23.8 L163 -23.9 L180.4 -24.4 L199.9 -24.1 L217.5 -24.2 L238.8 -23.8 L256.5 -23.4 L277 -21.6 L294.9 -19.6 L314.1 -15 L331.4 -10.9 L350.4 -3.4 L364.7 4.5 L383.3 14.3 L398.1 24 L415.2 33.9 L430.6 43" stroke="#baa480" stroke-width="2.4" opacity="0.7"/>
<path d="M109 177.2 L100.2 174.9 L92.2 172.7 L85.3 169.6 L82.4 163 L81.9 157.8" stroke="#d6c6a2" stroke-width="2.3" opacity="0.6"/>
<path d="M176 10.3 L193.1 11.6 L213.2 10.8 L232.7 11.4 L249.9 13.9 L266 16.8 L282.9 21.8 L300.1 28.6 L316.8 38.1 L331.3 47 L347.8 56.2 L363.9 66.1 L382 75.6 L398.5 86 L410.4 96.4 L422.1 112 L430.1 129.7 L433.7 148.2" stroke="#c9b890" stroke-width="2.2" opacity="0.8"/>
<path d="M359.6 67 L375.4 77.1 L390.2 86.3 L405 98.9 L415.2 112.4 L424.1 129.1 L427.5 147.5 L429.7 164.1 L429.1 183.3 L428.4 198.7 L425.5 216.2 L419.7 230.8 L407.8 246.4 L394.7 256.8 L379.3 265.5 L365.8 274.6 L351.4 285.8 L337.6 296.3 L321.7 305.6 L306.3 312.2 L288.9 319 L271.8 323.6 L253.2 327 L237.7 328.4" stroke="#dfd0ac" stroke-width="1.5" opacity="0.9"/>
<path d="M153.9 295.1 L141 297.5 L127.1 298.4 L112.6 298 L98.5 293.9 L87.6 288.6 L79.8 279.5 L74 267.1 L70.3 251.8 L67.8 237.8 L64.5 224.9 L62 210 L61.2 192.6 L62.4 177.7 L70.1 164.4" stroke="#dacaa6" stroke-width="2.3" opacity="1"/>
<path d="M83.4 142.3 L83.1 140.4 L85.8 140 L87.5 139.7 L89.5 140.7 L91.8 140.5" stroke="#dfd0ac" stroke-width="1.6" opacity="1"/>
<path d="M124.5 108.7 L135.6 111.5 L144.6 115.8 L153.3 122.5 L160.3 128.8 L167.7 134.7" stroke="#92805e" stroke-width="1.7" opacity="0.8"/>
<path d="M342.4 57.1 L357.7 65.5 L375.4 74.9 L392.5 84.8 L407.2 97 L418.4 109.6 L427.6 127.2 L432.9 146.6 L435.2 164.2 L436.7 183.2 L438 202.2 L437.7 219.8 L432.3 236.6 L419.6 250.9 L407.3 262.2" stroke="#b29c76" stroke-width="3.3" opacity="0.7"/>
<path d="M124 -16.9 L141.8 -18.1 L157.2 -18 L175.6 -18 L191.7 -16.2 L210.5 -15 L227 -14 L246.3 -12.2 L264.2 -10 L280.2 -7.5 L298.3 -3.4 L313.6 1.8 L330.1 10.8 L347 20.2 L360.1 29.8 L373.7 41.3 L387.8 49.4 L404.5 59.7 L418.6 66.4 L434 76.5 L447.9 88.3 L457.7 98.8 L466.3 115.1 L471.1 130.2 L473.7 149 L475.1 167.2 L475.1 183 L472.6 200.7 L471.1 216 L466.5 234 L457.3 246.6 L443.6 259.6 L428.7 270.6 L414.9 279.7 L398.7 290.7 L385.9 299.5 L370.3 310.4" stroke="#a6906e" stroke-width="3.4" opacity="0.7"/>
<path d="M450.6 90.3 L461.9 103.4 L470 120.9 L475 135.8 L477.8 154.1 L480.1 169.4 L479.9 189 L480.8 204.8 L480.7 224.7 L475.1 240.9 L463.4 256.3 L451 266 L436.9 277.6 L424.4 287.1 L409.8 298.3 L396.9 309.2 L382.3 321 L368.7 330 L350.9 338.4 L335.1 345.3 L318.7 349.7 L299.9 354.5 L284.1 357.4 L266.7 359.9 L250.9 363.6 L231.2 365.9 L215 366.1 L194.5 367.7" stroke="#c5b28a" stroke-width="2.4" opacity="0.6"/>
<path d="M242.2 192.4 L229.4 203.2 L217.8 212.4 L205.3 223.3 L190 230.2 L174.4 233.3 L157.8 236.4 L142.5 237 L126 237.8 L108.2 237.5 L91.9 234.8 L81 224.2 L75.4 206.7 L72.7 191.3 L70.8 173.7 L76.6 158.7" stroke="#887454" stroke-width="1.7" opacity="0.7"/>
<path d="M393.2 178.4 L391.8 198 L388.4 217.3 L376.9 235 L361.3 247.1 L344 257.8 L329.5 268.9 L316.3 280.1 L300.4 290.2 L282.9 298 L263.6 303.1 L244 307.2 L225.9 309 L207.1 311.3" stroke="#d3c29c" stroke-width="2.5" opacity="0.8"/>
<path d="M180.9 220.1 L169 224.9 L158.3 226.9 L147.1 228.8 L134.1 230.5 L121.8 231.4 L106.1 231.7 L93.3 229.9 L83 223.4 L78.3 212.4 L75.2 199.4 L73.7 186.8 L72.8 171.1 L76.7 158.5" stroke="#a6906e" stroke-width="2" opacity="0.7"/>
<path d="M338.2 106.6 L344.8 122 L347.5 141.6 L346.4 160.9 L342.6 178.6 L337.9 198.8 L327.2 215.5 L311.9 226 L293.7 235.8 L277.1 246.5 L263 254.6 L245 261 L225.6 264.3 L208.6 266.7 L188.9 267.8 L171.1 268.9" stroke="#988462" stroke-width="2" opacity="0.7"/>
<path d="M249.3 -32.1 L267 -30.3 L284.7 -27.6 L301.4 -24.1 L317.5 -21 L333.4 -15.2 L349 -8.8 L365.5 -0.9 L380.7 8.7 L395.5 18.7 L410.9 28.3 L426.7 37.5 L441.3 46.8 L456.3 56.1 L471.5 65.3 L483.7 74.8 L494 87.5 L504 102.9 L510.8 118.7 L515.4 136.5 L516 153.2 L515.9 169.1 L514.5 187.3 L512.5 205.4 L510.1 223.7 L506.4 241.8 L497.9 257.6 L485.8 270.1 L472.8 280.9 L458.4 292.6 L444.6 301.9 L433.1 310.1 L419.1 319.9 L405.2 329.6 L390.9 339.8 L376 349.6 L358.5 355.4 L340.8 360.2 L324.1 364.1 L306.2 366.4 L288.4 368.4" stroke="#c5b28a" stroke-width="2.4" opacity="0.8"/>
<path d="M314.7 128.3 L316.5 145.6 L314.5 163.6 L311.9 183.1 L306.4 202 L293.1 214.7 L277.3 225 L261.4 236.1 L245.8 247.5 L228.8 254.9 L210 259.3 L190.3 261.6 L172.1 262.2 L154.2 260.9 L136.6 260 L118.8 259 L100.9 255.5 L85.9 247.6 L77.2 234.2" stroke="#7a6648" stroke-width="1.9" opacity="0.5"/>
<path d="M136.4 245.7 L114.2 243.6 L93.7 239.8 L80.4 226.7 L74.2 206.2 L71.7 184.9 L72.8 164.6" stroke="#dacaa6" stroke-width="2.3" opacity="0.9"/>
<path d="M457.7 74.9 L470 89.5 L478.3 103.6 L485.1 122 L488.9 140.6 L489.2 161 L487.2 178.4 L484.2 196.9 L480.1 215.4 L474.6 230.7 L465.8 246.9 L451.2 259.5 L434.4 269.6 L419.2 279.4 L403 288.5 L387.6 300 L373.6 309 L356.7 317.7 L340.7 328 L322.3 332.7 L307.4 337 L289 341.1 L270.1 343.2 L252.4 344.2 L237.2 344.4 L219.6 344.7 L200.1 344.7 L183.3 343.7 L163.3 343.8 L143.8 342.8 L125.7 341.5 L110.4 336.5 L95.3 329.2 L82.6 318.2 L74.3 304.8 L68.4 287.7" stroke="#b29c76" stroke-width="3.1" opacity="0.8"/>
<path d="M59.5 98.5 L62.4 80.2 L64.3 62.1 L63.5 44.2 L58 26.4 L57.9 13.1 L61.6 -0.4 L75.2 -13.5 L91.7 -23.7 L108.8 -31.3 L126.8 -36.2 L144.2 -37.1 L162.5 -37.6 L177.3 -37.7 L194.8 -37.2 L213.7 -37 L232 -36.2 L250.2 -35.6 L268.5 -34.3 L286.2 -32.6 L301.9 -29.1 L319.3 -25.2 L332.8 -20.3 L348.1 -12.7 L364 -3.5 L379.7 4.5 L394.9 14 L410.3 24.6 L425.6 34.2 L442.5 43.5 L457.1 53.2" stroke="#d6c6a2" stroke-width="2" opacity="1"/>
<path d="M202.3 198.4 L187 210.4 L168.7 219.6 L150.4 223.8 L129.9 224.8 L110 225.2 L88.8 221.5 L78.4 205.7 L74.8 185.6 L73.4 165.1" stroke="#b29c76" stroke-width="2" opacity="0.8"/>
<path d="M62 90.7 L64 74.1 L65 54.8 L61.8 37.9 L59.2 19.2 L64.9 7.6 L79.9 -7 L96 -16.4 L114.4 -22.7 L133.5 -25 L150.5 -25.4 L169.5 -24.9 L185.8 -22.8 L205.4 -22.3 L221.3 -20.6 L239.7 -19.1 L258.6 -16.5 L273.6 -13.8" stroke="#d3c29c" stroke-width="1.3" opacity="0.9"/>
<path d="M111.7 163 L109.5 166.6 L107.2 171.1 L102.7 174.7 L97.3 176.6 L89.4 179" stroke="#7a6648" stroke-width="2" opacity="0.8"/>
<path d="M386.7 247.2 L367.3 257.6 L349.1 267.4 L329.7 279.9 L310.7 288.8 L290.6 296 L269.4 301.1 L249.6 304 L228.2 303.6 L207.1 305 L187.5 304.9" stroke="#d3c29c" stroke-width="2.5" opacity="0.7"/>
<path d="M379.8 86.9 L394.1 98.9 L405.3 113.2 L414.6 129.2 L421.1 143.8 L424.3 161.7 L426.2 177.9 L426.9 196.8 L425.8 212.2 L423.6 228.2 L412.8 243.2 L401.9 253.5 L389.1 264.7 L376.3 275.5 L362.3 287.1 L350.5 298.4 L336 309 L320.7 317.5 L302.5 323.1 L285.8 328.4 L266.3 333.4" stroke="#c9b890" stroke-width="1.9" opacity="0.8"/>
<path d="M266.4 -28.2 L286.3 -25.7 L302.2 -22.3 L317.9 -17.4 L335.9 -9.6 L350.4 -0.8 L367.8 11 L382 20.1 L398.7 30.9 L412.1 40.3 L426.5 49 L443.5 58.5 L457.9 66.9 L474.1 79.7 L485.4 92.1 L495 109.8 L500.8 126.8 L502.3 144.6" stroke="#827050" stroke-width="2.4" opacity="0.8"/>
<path d="M114.4 76.9 L132.6 78.5 L151 79.2 L169.9 82 L188.9 86.4 L204.7 96.6 L219.8 107.9 L236 116.5 L250 132 L254.9 150.2 L253.9 168.3 L251.3 187.1 L239.8 201.5 L225 211.7" stroke="#988462" stroke-width="2.5" opacity="0.8"/>
<path d="M199.6 39.1 L220.7 39.4 L238.9 42.8 L255.6 48.3 L273.4 55.8 L291.2 66 L310.2 75.3 L329.8 85 L347.1 93.8 L364.1 109.1 L377 125.9 L384.6 145.3 L389 164.4 L389.7 183.9" stroke="#d6c6a2" stroke-width="2.5" opacity="1"/>
<path d="M194 77.6 L210.9 87.2 L226.4 100.4 L241.2 111.9 L254.6 123.3 L259.6 140.7 L256.7 159.3 L252.5 177.8 L242.6 194 L224.4 205.4" stroke="#d3c29c" stroke-width="1.8" opacity="0.8"/>
<path d="M337.4 47 L351.5 57.4 L366.7 67.9 L385.2 79.9 L399.1 90.6 L409.2 105 L416.9 121.2 L420.6 141 L418.6 159 L416.6 176.6 L412.9 194.5 L408.6 215.5 L400 230.9" stroke="#756042" stroke-width="2" opacity="0.7"/>
<path d="M212.7 350.7 L202.3 350.1 L189.3 350.9 L177.4 351.2 L161.8 351.5 L151.3 351.6 L138 351.7 L126.4 349.9 L113.7 348.2 L102.8 344.9 L92.6 338.5 L85.4 330.6 L77 320.5 L70.1 307.2 L65.4 296.4 L60.7 282.8 L59 273.2 L56.8 260.9 L55.9 250 L54.7 237.5 L54.4 227.1 L53.1 213.8 L53.2 202.8 L55.2 190.4 L58.2 179.8 L66 168.2" stroke="#6c5a3e" stroke-width="1.4" opacity="0.6"/>
<path d="M144.6 193.5 L136.5 197.3 L126.9 199.3 L117.2 200.8 L108.1 202.3 L98.7 202.3 L88.1 201.8 L81.8 196.7 L78.5 187 L76.7 177.9 L76 167.5 L79.3 156.2" stroke="#ae9874" stroke-width="3.8" opacity="0.9"/>
<path d="M475.7 215.8 L470.1 233.4 L460.4 248.4 L445.7 260.1 L430.4 271.7 L413.8 280.6 L398.1 291.2 L383.5 303.7 L368.1 314.4 L351.6 323.6 L333.2 330.2" stroke="#ae9874" stroke-width="3.2" opacity="0.5"/>
<path d="M129.9 194.9 L116.8 194.6 L102.4 193.5 L89.2 191.2 L81.3 182.7 L79.3 170.6" stroke="#6c5a3e" stroke-width="1.3" opacity="0.6"/>
<path d="M185.7 374.9 L178.9 374.8 L172 374.7 L161.8 375.3 L155.5 375.1 L148.4 377.2 L141.7 377.9 L131.3 376.6 L125.8 375 L118.9 373.9 L109.6 371.5 L104.1 370.3 L98.8 368.2 L92.2 365.1 L87.2 360.4 L82.2 357.4 L76.1 350.3 L72.2 346.5 L69.1 341.1 L64.4 332 L63.9 326.2 L61.7 320 L60.4 313.3 L56.5 303.9 L55.3 299.5 L53.9 292.9 L52.1 283.5 L50.5 277.7 L49.8 271.3 L49.3 262.4 L48.6 256.2 L47.9 250.5 L47.1 241 L46.6 234.6 L45.9 229.1 L46 219.8 L44.9 213.9 L45.7 207.7 L47.7 200.4 L50.1 192.5 L52.4 186.2 L55.5 181.4 L61 173.3 L64.9 169.1" stroke="#b29c76" stroke-width="4.3" opacity="0.8"/>
<path d="M360.6 124.9 L363.3 145.8 L359.3 166 L354.7 185.3 L347.5 205.6 L332.9 220.6 L314.5 232.9 L295.7 241.4 L276.5 251.3" stroke="#a6906e" stroke-width="3.8" opacity="0.8"/>
<path d="M163.8 62.5 L187.6 63.7 L208.2 67.2 L227.2 76.7 L246.7 88.1 L266.5 100.1 L286.8 112.4" stroke="#baa480" stroke-width="2.1" opacity="0.6"/>
<path d="M305 136.1 L307 156.3 L305.8 178.2 L302 200 L288.4 215.3 L273 226.5" stroke="#dacaa6" stroke-width="1.7" opacity="0.6"/>
<path d="M431.2 83.4 L443.9 96.9 L454.4 112.1 L462.1 127.5 L466.3 144.9 L467.4 162.7 L466.9 179.8 L465.7 194.8 L465.2 213.7 L462.2 232.9 L453.3 249.4 L442.2 260.8 L426.7 271.8 L412.6 282.2 L397.4 292.5 L384.4 301.5 L368.8 313.3 L354.2 323.2 L336.7 331.1 L323.2 335.5 L304.8 340 L287 342.6 L268.7 344.6" stroke="#dfd0ac" stroke-width="1.7" opacity="0.8"/>
<path d="M144.9 97 L161.8 101.8 L178.7 112 L191.9 121.6 L204.9 132.6 L210.3 148.5 L208.8 166 L203.2 182.9 L187.9 191.5 L173.1 200.3 L157 208.2" stroke="#e4d8b8" stroke-width="1.6" opacity="0.9"/>
<path d="M385.3 263.3 L373.5 271 L360.9 280.7 L349.1 289.3 L335.5 299.6 L320.3 306.1 L309.1 312.1 L293.1 318.7 L275.8 321.7 L261.3 324.3 L244.6 326.8 L230.5 328.9 L214.6 328.8 L198.1 328.6 L183.7 329 L168.1 329.2 L151.7 329.4 L133 330.3 L116.3 329.3 L102.6 324.5 L89.6 315.1 L80.2 303.9 L72.6 287.4 L66.1 271.7 L63 257.4 L61.2 241.3 L58.8 224.4 L58.3 211 L58.5 195.6 L60 181.8 L68.8 165.6" stroke="#dacaa6" stroke-width="2.6" opacity="0.7"/>
<path d="M425.3 200 L422.6 218.4 L415.5 234.3 L401.6 247.6 L385.8 257.9 L370.8 266.2 L354.1 278.1 L339.4 289.4 L323.7 299.3 L308.1 305.8 L289.4 312.2 L271.2 316.2 L252.8 318.6 L233.5 321.5 L215.7 322.3" stroke="#dfd0ac" stroke-width="2.2" opacity="0.7"/>
<path d="M124.5 181.3 L119.2 183.4 L114 182.5 L107 183.3 L100.6 184 L94.5 184.9 L88.2 183.9 L83.9 181.5 L80.2 175.6 L81.1 170.1 L80.2 163.7 L79.1 158.5 L81.4 154.4" stroke="#baa480" stroke-width="3.9" opacity="0.7"/>
<path d="M491.3 125.9 L494.1 143.5 L495.2 160.7 L494.9 177.4 L492.3 197.9 L490.5 213.5 L487.1 229.3 L481.6 245.1 L470.2 261.6 L456.3 271 L441.6 280.8 L425.5 289.4 L410 299.7 L396.4 309 L384.1 320.3 L369.2 328.7 L351.8 337.9 L336.2 344.1 L320.5 349.4 L305.2 352.9 L285.3 355.8 L270.4 358.3 L254.5 360.6 L239 363.3 L219.1 364.2 L202.8 365.2 L185.3 364.3 L167.4 364 L146.1 364.6 L128.9 362.3 L111.8 359 L97.8 352.5 L84 339.3 L74.6 324.6 L68.1 308.2 L62.7 290.5 L59.3 270.6" stroke="#c5b28a" stroke-width="1.7" opacity="0.9"/>
<path d="M134.8 -30 L150.8 -31.8 L168.8 -33.4 L190.9 -33.5 L208.2 -32.2 L226.2 -31.3 L242.5 -29.8 L261 -29.3 L282.5 -28.6 L301.2 -26 L319.2 -22.9 L335.7 -17.5 L353.3 -10.6 L369.8 -2.8 L389.2 8.9 L405.2 17.8 L423.1 26.1" stroke="#dfd0ac" stroke-width="1.9" opacity="0.8"/>
<path d="M316.3 -20.8 L333.7 -14.7 L347 -7.1 L362.8 3.4 L375.3 14.3 L387 24.7 L402.6 37.1 L416.5 45.5 L432.4 56.4 L446 65.8 L459.5 78.7 L469 90.7 L476.4 104.6 L481.5 122.8 L485 139.2 L484.6 157.9 L482.6 173 L479.5 191.9 L476.2 208.3 L471.6 224.4 L462.9 241 L450.8 253.2" stroke="#988462" stroke-width="2.6" opacity="0.5"/>
<path d="M128.3 153.4 L127.8 159.4 L123.8 163.4 L119.1 166.8 L115 171.7 L109.7 174.1 L103.8 175 L97.1 173.4 L90.7 173.8 L84.6 172.3 L82 167.7 L80.8 161.4 L80.8 155.9" stroke="#aa946c" stroke-width="2.9" opacity="0.5"/>
<path d="M273.5 17.8 L290.5 24.9 L305 34.3 L320.7 44.4 L335.7 54.3 L350 64.4 L364.6 73.7 L379.1 83.4 L393.3 95 L404.8 109.9 L411.9 126.2 L415 141.1 L416.2 158.4 L413.9 175.9 L410.5 194.3 L406.7 212.2 L399.3 226.7 L385.9 240.1 L371.4 251 L355.5 261.5 L341.2 273.5 L328 284.3 L313.8 294.5 L296.7 302.9 L280.2 307.1 L263.3 310.6 L246.4 313.6" stroke="#e4d8b8" stroke-width="2.3" opacity="0.7"/>
<path d="M152.2 284.3 L143.5 284.8 L136.5 285.4 L127.7 284.9 L119.7 283.4 L111.3 281.6 L103.9 279 L96.1 275.7 L90.7 271 L85.5 263.1 L81.8 257.7 L79.1 251.9 L76.4 243.6 L74.9 236.2 L73.7 228.3 L71.5 220.8 L69.1 211.7 L67.6 204.6 L66.5 196.8 L66.9 189.5 L66.7 181.6 L67.4 174.8 L69.2 167.6 L73.6 161.3" stroke="#827050" stroke-width="2.7" opacity="0.4"/>
<path d="M98.1 52.9 L119.5 51.5 L138.9 54.6 L157.7 57 L174.5 60.1 L192.1 64.9" stroke="#baa480" stroke-width="2.5" opacity="0.5"/>
<path d="M378.8 211.7 L371.1 228.6 L360.4 238.8 L346.9 248.1 L333.3 259.4 L322 270.4 L307.4 281.8 L293.3 291.2 L277.6 298.1 L260.1 304.5 L243.5 308.4 L224.6 312.1 L208.3 313.9 L191.4 315.1 L172 315.9 L155.4 316.2 L134.9 317.6 L116 315.3 L99.8 310.3 L84.2 300.2 L75.1 285.8" stroke="#6c5a3e" stroke-width="1.5" opacity="0.4"/>
<path d="M465.4 80 L477.2 96.4 L484.4 111.6 L489.3 127.1 L492.3 145.1 L492.9 160.6 L490.9 179.9 L488.1 196 L486 217.2 L482.2 233.3 L473.3 246.9 L459.9 261.4 L446.7 272.1 L430.9 282.1 L416 290.1 L399.9 300.9 L386.2 309.6 L372.4 319.3 L355.4 326.5 L339.9 332.3 L321.8 337.6 L305.7 340.7 L289.4 343.8 L270.1 346.1 L254.1 347.7 L235.3 348.9 L217.9 349.1 L199.6 349.8 L182.3 349.2" stroke="#baa480" stroke-width="2.1" opacity="0.6"/>
<path d="M149.6 17.7 L167.3 17.5 L183.9 18.7 L203.5 18.1 L220.7 18.9 L237.7 21.1 L253.6 24.4 L270.1 30.3 L285.8 37.2 L299.6 47 L313.7 55.9 L328.6 65.4 L343.9 73.7 L359.5 83.8 L376.1 93.5 L389 104.9 L398.4 120.6 L403.9 138.7 L407 156.6 L405.3 173.6 L405 190.9 L402.3 208.4 L398.2 225.4 L388 239.2 L375.4 248.4 L358.5 261 L345.3 271.6 L331.4 281.4 L316.9 291.8 L300.8 301.2 L285 307.4 L268.3 312" stroke="#e4d8b8" stroke-width="1.4" opacity="0.8"/>
<path d="M266.7 200.9 L252.8 210.6 L239.3 218.8 L225.4 229.5 L210.6 237.8 L194.2 243.2 L177 247.5 L160.4 249.5 L143.5 249.8 L128.7 249.6 L111.3 250.3 L95 249.1 L82.7 240 L75.3 223.8 L72.3 208.5 L71.1 191.7 L69.9 175.4 L75.8 159.4" stroke="#7a6648" stroke-width="2.5" opacity="0.5"/>
<path d="M243 287.4 L223.2 290 L203.4 292.2 L185.4 293.6 L166.3 293.8 L146.8 294.9 L125.6 294.3 L105.3 290.7 L88.8 283.8 L76.2 270 L69.4 251.7 L66.5 232.2 L65.1 213.1" stroke="#cdbb94" stroke-width="1.9" opacity="0.8"/>
<path d="M354.6 140.3 L355.5 158.2 L353.4 176.3 L350 194.6 L345.1 211.7 L332.3 224.8 L317.5 235.9 L303.3 245.3 L287.8 255.7 L271.8 265.8 L255.1 272.7 L237.5 278.4 L220 281.1 L202.3 283.2 L185.3 284 L166.8 284.8 L147.9 284.7 L128.8 285.4 L109.9 283.8 L93.7 277.7 L82.6 265.3 L75.7 248.8 L70.6 230.1 L66.3 213 L64.6 195.2" stroke="#e4d8b8" stroke-width="1.3" opacity="1"/>
<path d="M104.2 104.9 L116 107.8 L126.8 109.5 L134.8 111.3 L141.9 116.7 L147 121.7" stroke="#92805e" stroke-width="1.4" opacity="0.5"/>
<path d="M247.7 296.9 L235.4 299 L222.7 300.9 L210.3 302 L199 303.2 L187.2 304.4 L173.6 306.1 L160.4 305.6 L147.8 306.7 L135.5 307.7 L123.4 307.9 L110.1 307.3 L97.6 303.6 L87.7 297.7 L80.2 288.8 L75.2 277.2 L71.1 264.8 L68.8 252 L66.8 235.4 L64.6 224.3 L62.9 211.8 L62.1 200.9 L61.3 188.3 L63.8 176.5 L70.4 164.2" stroke="#cdbb94" stroke-width="2.5" opacity="0.7"/>
<path d="M307.5 -36.9 L324.5 -32.8 L341.3 -26.7 L359.1 -19.5 L371.7 -10.7 L387.7 -0.8 L403.1 9.3 L418.1 19.6 L432 29 L447 38.8 L462.5 48.3 L476.6 57 L488.1 65.6 L500.9 78.9 L511.2 93 L518.1 110.3 L523.3 127.3 L525.2 145 L525.2 163.6 L523.5 177.8 L521.1 195.8 L519.1 214.2 L516.3 232.2 L510 248.9 L499.4 263 L484.3 274.3 L471.3 281.4" stroke="#e4d8b8" stroke-width="2.4" opacity="0.8"/>
<path d="M294.8 336.4 L282.7 339.7 L270.9 342.7 L260.8 344.1 L248.1 346.1 L235.6 346.6 L224 347.1 L211.2 347.8 L197.9 349.3 L184.3 349.2 L170.4 349.4 L155.4 350.9 L142 350.4 L129.2 351.4 L117.5 350.7 L104.7 348.3 L91.4 343.6 L81.6 336.2 L74.6 324.2 L68.5 312.2 L64.3 300 L61.5 286.2 L59.6 272.5 L58.4 259.2 L56.7 246.1 L54.3 235.2 L51.9 222.2 L52.2 207.5 L52 194.1 L55.9 180.4 L66.1 168.1" stroke="#ae9874" stroke-width="3.9" opacity="0.7"/>
<path d="M61.3 105.5 L65.5 87.7 L67.4 67.1 L64.4 50 L62.6 34 L70.6 20.5 L88 8.6 L104.6 3 L124.8 -0.4 L143.5 -1.2 L158.3 -0.7 L177.8 0.1 L194.7 1.7 L215 3.1 L230.2 3.1" stroke="#d3c29c" stroke-width="1.5" opacity="0.8"/>
<path d="M253.3 165.5 L249 181.1 L240.6 193.4 L227.5 202.2 L213.9 206.8 L199.7 213.8" stroke="#d6c6a2" stroke-width="1.8" opacity="0.7"/>
<path d="M157.8 25.3 L177.8 22.5 L199.1 19.6 L221.5 19.1 L244 18.7 L267 21.5 L293.1 26.1 L315.6 33.8 L338.5 43.1" stroke="#dacaa6" stroke-width="2.6" opacity="0.8"/>
<path d="M210.7 169.8 L200.7 187.7 L183.7 198.8 L166.7 210 L147.6 215 L128.2 215.9 L107.3 216.5 L88 212.7" stroke="#dfd0ac" stroke-width="1.5" opacity="0.8"/>
<path d="M126.2 99.1 L145.6 97.9 L164.6 100.6 L182.1 109.1 L202.1 119.8 L222 131.3 L232.5 149.6 L236 170" stroke="#d6c6a2" stroke-width="1.3" opacity="0.9"/>
<path d="M283.8 52.9 L297.3 64.2 L313.3 75.1 L328.9 85.8 L342.4 96.2 L355.4 108.4 L363.2 122.9 L366.9 141.9 L366.4 162 L363.6 178.7 L361.1 198.3 L353.8 215.9 L340.6 228.2 L323.2 240.2 L307.2 248.3 L291.9 257.6 L275.3 266.2 L260.1 272.3 L242.3 277.8" stroke="#e4d8b8" stroke-width="2.4" opacity="0.7"/>
<path d="M415 230.6 L403.7 241.1 L390.9 251 L376.6 261.7 L364 270.7 L350.2 281.8 L336.5 290.3 L323.4 298.9 L305.5 306.4 L289.7 312.3 L269.9 316.6 L254.2 320 L236.3 323.9 L219.6 325.2 L204.2 327.6 L185.4 328.4 L167.5 329.7 L147.3 329.7 L128.7 329.1 L109.2 326.7 L94.5 322.5 L82 313.9 L72.1 299 L65.4 283 L62.1 264.1 L59.2 247.6 L58.6 230.5" stroke="#c5b28a" stroke-width="2" opacity="0.6"/>
<path d="M84.3 70.5 L105.4 62.8 L124.9 63.8 L145.6 66.8 L166.4 70.5 L183.9 75.4 L199.1 83.4 L213.1 95.5 L226.5 107.2" stroke="#b6a07c" stroke-width="2.9" opacity="0.6"/>
<path d="M91.5 93.5 L108.8 88.9 L127.6 86.7 L149 86.1 L169.5 87 L189.6 94.2 L209.1 105 L229 114.7 L249.4 127.2 L262.6 148.8" stroke="#a6906e" stroke-width="4" opacity="0.7"/>
<path d="M167.2 222.7 L150.1 226.2 L132.3 227.9 L113.8 227.4 L92.7 226.1 L79.2 213.3 L74.7 195.2 L71.9 176.1 L77.4 157.9" stroke="#a6906e" stroke-width="4" opacity="0.6"/>
<path d="M130 184.3 L121.9 186.1 L113.2 187.5 L104.3 186.6 L95.4 185.7 L87.9 183.4 L82 176.7 L78.9 169.8 L78.2 162.1 L81.1 154.6" stroke="#dfd0ac" stroke-width="2.4" opacity="0.8"/>
<path d="M248.4 360 L225.8 359.6 L204.7 359.6 L184.6 359.5 L164 357.9 L143.7 355.4 L122.6 352.4 L102.6 346.3 L87.9 335.6 L77.1 320 L69.1 301.9" stroke="#d3c29c" stroke-width="1.9" opacity="0.9"/>
<path d="M170.6 102.5 L186.2 111.1 L204.6 120 L221.8 130 L232.5 147.3 L235.9 164.7" stroke="#6c5a3e" stroke-width="2.2" opacity="0.5"/>
<path d="M78.9 50.5 L95.7 42.1 L112.8 37.1 L130.4 36.3 L148.2 38.2 L167.3 37.1 L187.7 38.3 L204.9 40 L222.5 43.1 L239.1 49.2 L254.5 57.5 L268.7 67.7 L283 78.3 L299.5 88.9 L314.4 98.3 L327.7 109.7 L336.9 123.6" stroke="#dacaa6" stroke-width="1.4" opacity="0.9"/>
<path d="M132.6 151.5 L133.1 157.9 L130.1 163.6 L125 166.9 L118.9 171.2 L113.2 174.2 L105.8 175.1 L98.8 175.3 L90.8 174.7" stroke="#dacaa6" stroke-width="1.6" opacity="0.9"/>
<path d="M250.3 61.1 L266.9 69.9 L281.2 80.3 L297.2 89.8 L313.6 99.9 L328 111 L338.5 126.5 L344.9 145.4 L346.5 162.1 L345.4 180.2 L344.5 200 L338.3 215.7 L324.5 228.2 L308.8 238.6 L293.8 248.9 L279.3 260.1" stroke="#baa480" stroke-width="2.1" opacity="0.8"/>
<path d="M121.7 5.6 L140.8 4.3 L158.5 4.3 L178.4 5.2 L197.9 4 L213.7 5.4 L233.5 6.8 L252.5 8.6 L271.2 11.5 L289.3 16.5 L304.6 24.1 L321.9 32.9 L340.1 43.8 L357.1 52.5 L375.4 63.1 L390.7 72.2 L407.5 82.3 L422.3 95.3 L434 112.5 L441.6 131.1" stroke="#d3c29c" stroke-width="2.3" opacity="0.6"/>
<path d="M461.2 106.4 L470 123.2 L475 142 L478.9 158.4 L480.2 177.5 L480.2 197.6 L482 215.6 L480 234.8 L474 249.2 L461.1 263.7 L446.9 276.2 L432.4 287.5 L419.7 298.6 L407.7 308.9 L393.3 323.1" stroke="#b6a07c" stroke-width="2.2" opacity="0.8"/>
<path d="M252.8 160.4 L253.1 179.6 L245.4 196.1 L231.8 208.8 L218 220.5 L201.2 231.8 L183.6 237.5 L163.5 243.3" stroke="#d6c6a2" stroke-width="1.5" opacity="0.9"/>
<path d="M128.2 -15.1 L147.1 -18.1 L163.7 -19.4 L183.3 -20.8 L198.9 -20.4 L219 -21 L241.1 -20.6 L258.9 -20.9 L279.4 -19.3 L299.2 -15.6 L316.8 -11.5 L335.5 -5.5 L355.2 3.2 L370.9 11.5 L389.4 21.5 L405.3 30.8 L424.4 40.4" stroke="#ae9874" stroke-width="3.2" opacity="0.6"/>
<path d="M179.1 123.4 L190.4 133.1 L193.9 148.3 L190 164.3 L182 176.7 L166.6 185.3 L152.4 191.3 L138.3 195.5 L123 196" stroke="#92805e" stroke-width="2.1" opacity="0.6"/>
<path d="M118.4 76.6 L139.3 78.5 L158.7 80 L176.6 85.1 L192.1 93.4 L206.3 103.7" stroke="#c9b890" stroke-width="1.9" opacity="0.9"/>
<path d="M286.3 -15.7 L303.2 -10.3 L316.6 -3.9 L331.2 5.2 L347.9 16.1 L363.2 26.7 L377.3 38.4 L389.1 47.9 L402.8 58.3 L417.6 66.6 L431.2 77.6 L443.3 90.5 L451.8 103.4 L457.4 120.9 L461.6 138.3 L462.5 156.2 L459.3 173.3" stroke="#827050" stroke-width="1.8" opacity="0.8"/>
<path d="M157.9 20.8 L176.6 21.7 L194.4 22.3 L213.3 23.5 L231.1 26.9 L251.1 31 L267.2 37 L281.2 43.4 L297.4 53.3 L313 64.4 L329.1 73.8 L346.1 82.6 L360.3 91 L374.6 103.6 L384.5 119.9 L390.9 138.2" stroke="#d6c6a2" stroke-width="1.9" opacity="0.6"/>
<path d="M194.5 52.8 L213.4 59.4 L230.2 69.3 L244.3 80.5 L258.4 93.6 L271.9 104.3 L285.1 115.7 L291.9 130.3 L293.8 147.8 L290.6 166.2 L284.8 184.3 L273.7 199.6 L256.6 210.3 L238.7 219.4 L223.2 227.7" stroke="#e4d8b8" stroke-width="2.2" opacity="0.8"/>
<path d="M459.8 249.5 L448.1 260.1 L431.2 270.8 L415.4 279.7 L402.1 288.8 L387.3 300.1 L373.5 308.6 L357.5 318.3 L341.6 326.2 L326.5 331.6 L306.9 336.9 L287.8 339.3 L272.1 342.3 L253.6 344 L237.5 344.8 L219.9 345.8 L201.7 346.7 L183.3 347.1 L164.2 347.6 L145.9 347 L126.6 346.2 L108.4 341.7 L94.6 336.7 L81.4 326.1 L72.3 310.9 L66 294.9 L60.9 277.2 L59.2 260.9 L56.1 242.8 L54.7 224.6 L53.8 209.2 L55.4 190.9" stroke="#d6c6a2" stroke-width="2.5" opacity="0.8"/>
<path d="M71.1 90.7 L70 72.1 L66.3 53.7 L76.1 39.3 L92.7 29 L111.3 24.6 L129.7 22.4 L148.9 23 L167.1 23.8" stroke="#887454" stroke-width="1.4" opacity="0.4"/>
<path d="M155.5 29.1 L175.9 29.6 L192.7 30.5 L210.7 33.2 L228.5 37.1 L245.6 43.1 L261 51 L275.6 60.4 L289.8 71.3 L304.4 81.9 L317.4 91.1 L331.7 101 L342.6 115.3 L348.7 133" stroke="#dfd0ac" stroke-width="1.7" opacity="0.6"/>
<path d="M232.1 121.3 L242.8 136.2 L244.2 155.8 L239.6 174.6 L229.6 190.1 L212.1 199.9 L195.6 210.7 L177.6 217.8 L157.8 222.1 L139.2 222.4 L120.2 222.2 L101.1 221.5 L85 216.4 L77.9 201.8" stroke="#d6c6a2" stroke-width="1.7" opacity="1"/>
<path d="M306.5 62.7 L321.7 75.4 L335.4 86.5 L347.7 96.2 L359.4 109.7 L364.1 126.9 L366.1 146.7 L364.7 163.1 L361.3 182.1 L356.8 199.7 L348.1 216.3 L332.1 229.2 L316.4 236.6 L299.7 245.2 L285.7 254.5 L269.9 263.6 L254.7 270 L236.1 274.6" stroke="#756042" stroke-width="2.3" opacity="0.7"/>
<path d="M192 168.9 L185.7 182.8 L172.6 193.4 L158.7 204.1 L142.5 209.4 L128.1 212.6 L109.7 214.4 L90.2 213.1 L79 201 L75.5 182.9" stroke="#e4d8b8" stroke-width="2.2" opacity="0.8"/>
<path d="M189.3 75.7 L208 85.1 L222 96.9 L238.2 107.6 L252.7 119.1 L261.9 136.2 L263.8 153.8 L260.3 173.2 L255.3 191.4" stroke="#d6c6a2" stroke-width="1.8" opacity="0.9"/>
<path d="M358.7 202.8 L349.4 218.8 L334.5 230.2 L317.4 240 L298.9 250.6 L284.1 261.3 L266.8 268.9 L249.3 275.7 L230.1 278.4 L211.5 280.6 L191.9 283.2 L174 282.9 L154.8 283.4 L136.3 283.6 L117.1 282.5 L100.5 278.6 L86.2 269.8 L76.3 255.5" stroke="#b29c76" stroke-width="4.1" opacity="0.8"/>
<path d="M66.4 85.5 L67.3 67.7 L64.5 49.8 L62.3 31.2 L69.2 19 L86.2 3.3 L105.2 -7.4 L121.7 -13 L141.5 -15.8 L161.4 -16.8 L180.5 -17 L202.6 -18.8 L222.8 -20.5 L242.5 -21.6" stroke="#c5b28a" stroke-width="2" opacity="1"/>
<path d="M147.7 240.8 L133.8 241.5 L120.1 241.2 L104.6 241.6 L90.2 238.9 L79.9 230.2 L75.4 216.5 L72.3 202.5 L70.1 188.8 L70 172.9 L76.2 159" stroke="#e4d8b8" stroke-width="1.6" opacity="0.9"/>
<path d="M125.3 255.8 L99.3 248.9 L81.2 234.2 L73.3 210.6 L72.1 189.2 L72.4 168.5" stroke="#92805e" stroke-width="2.7" opacity="0.7"/>
<path d="M245.3 109.9 L261.5 120.3 L271.8 137.6 L276.5 155.9 L277.1 175.3 L274.2 193.7 L262.6 207.6 L248 220.3 L234.6 232.8 L219.5 244.4 L201.6 251.5 L182.9 255.1" stroke="#c9b890" stroke-width="2.5" opacity="0.7"/>
<path d="M486.1 242.1 L472.4 257.8 L458.4 268.4 L442 279.7 L424 288.9 L410.7 297.6 L394.2 309.2 L378 319.4 L361.2 327.7 L341.7 335.1 L324 340.3 L307.5 343 L289.9 345.7 L270.6 347.6 L253.6 349.5 L234.4 349.6 L215 349.8 L198.5 349.9 L178.3 349.5 L159.6 349.1 L143.1 348.2 L123.6 345.6 L104.2 340.2 L91.5 333.7 L80.1 320.3" stroke="#d6c6a2" stroke-width="2.3" opacity="0.7"/>
<path d="M127 144.2 L126 150 L121.4 153.7 L116.1 158.1 L108 160.9 L103.1 163.3" stroke="#e4d8b8" stroke-width="1.7" opacity="0.7"/>
<path d="M146 266.3 L136.1 268.2 L126.7 269.9 L113.3 270.1 L102.6 270.5 L92 266.9 L84.1 260.7 L78.8 251.7 L74.7 241.3 L72.1 231.4 L69.5 219.3 L66.9 208.1 L65.5 197.1 L65.2 185.5 L65.9 173.6 L72.8 162" stroke="#c5b28a" stroke-width="2" opacity="0.6"/>
<path d="M182.6 141.3 L183.2 156.2 L181.6 169.5 L171.6 179.5 L158.5 186.6 L145.9 193 L131.6 197.1 L116.3 196.9 L103.2 198.4" stroke="#92805e" stroke-width="2.5" opacity="0.4"/>
<path d="M361.7 299 L351.9 306.4 L339.3 315 L325.7 322 L312.7 328.3 L299.4 332.5 L283.7 336.3 L269.2 339.4 L254.3 342.1 L239 344.6 L225.6 346.3 L210.7 348.1 L195.8 349.7 L180.2 350.5 L164.9 350.6 L148.9 350.7 L132.5 349.7 L115.6 346.7 L100.6 342.9 L88.1 334 L78 322.1 L71.9 310.6 L66 294.2 L62.2 279.1 L60.2 262.8 L57.8 247.3 L55.2 230.3 L53.6 213.9 L54 198.3 L57.5 181.7 L66.3 167.9" stroke="#e4d8b8" stroke-width="1.7" opacity="0.7"/>
<path d="M80.1 131.7 L82.9 123.2 L92.9 118.9 L103.4 120.9 L114.4 121.2 L123.3 124.8 L131 131.5" stroke="#aa946c" stroke-width="2.9" opacity="0.7"/>
<path d="M260.3 113.1 L272.5 128.3 L277.3 146.8 L274.4 168.8 L270 187.7 L258.4 202.5 L240.7 212.7 L223.2 222.5 L205.8 230.7 L186.3 236.4 L167.1 238.6" stroke="#a6906e" stroke-width="3.1" opacity="0.6"/>
<path d="M144.6 121.3 L149.4 124.7 L155.2 130.1 L161.6 134.2 L165.6 138.7 L169.2 145.3" stroke="#aa946c" stroke-width="3.8" opacity="0.8"/>
<path d="M285 112.4 L297.1 128.6 L300.5 147.5 L299 166.9 L296.1 186.8 L287.1 204.6 L272.1 216.6 L254.6 227.5 L237.1 239.7" stroke="#c9b890" stroke-width="2.5" opacity="0.7"/>
<path d="M103.1 20.6 L120.5 15.7 L137.9 14.8 L155.7 13.8 L172.4 13.7 L191.2 14.1 L210.2 13.9 L228.1 14.1 L246.2 15.8 L262.9 19.1 L280 25.4 L296.7 34.7 L313 42.9 L329.2 51.6 L342.2 60.1 L357.8 69.1 L373.9 77.7 L388.2 88.4 L402.2 101.1 L412.9 117.4 L419.9 135.8 L421.8 154.4 L422 173 L421.1 192.8 L420.9 211.5 L416 228.9 L404.9 243.7 L390 254.4 L375.9 265.1" stroke="#c9b890" stroke-width="1.8" opacity="0.7"/>
<path d="M133.8 144.8 L130.1 151.5 L122.7 156.3 L114.4 158.1 L108.1 160 L104.6 162.3" stroke="#e4d8b8" stroke-width="2.4" opacity="0.7"/>
<path d="M397.8 240.6 L384.8 252.2 L371.7 262.4 L357.4 272.8 L343.2 284.7 L328.3 294.2 L314.6 301.8 L296.9 309.1 L280.5 313.7 L262.4 316.6 L245.2 319 L227.7 321.5 L209.7 324 L191.5 324.8 L171.7 325.6 L154.4 326.2 L133.8 326.2 L113.5 323.7 L95.3 319.5 L83.5 311.4 L73.1 295.9 L66.7 277.4 L63.2 258.9 L61.2 242.3" stroke="#b29c76" stroke-width="2.7" opacity="0.6"/>
<path d="M169.7 211.3 L158.3 213.6 L145.3 215 L134.3 214.7 L122.2 214.8 L110.8 213.9 L98 212.1 L87.9 208.3 L82.7 198.5 L79.5 186.7 L77.5 175.9 L75.9 165 L79 156.5" stroke="#827050" stroke-width="2.2" opacity="0.7"/>
<path d="M70.7 80.7 L66.8 63 L70.5 48.7 L85.4 35.5 L103.9 28.6 L122.8 24.9 L141.7 23.2 L159.8 23 L178.2 24.1 L196.6 24.1 L214.3 24.8 L231.6 27.8 L249.4 32.6 L267.5 39.6 L284.2 48.5 L299.8 57 L315.6 66.6 L330.8 76" stroke="#d6c6a2" stroke-width="2.5" opacity="0.8"/>
<path d="M220.2 295.4 L209.6 297.7 L197.7 299.2 L186.9 301.9 L173.8 303 L161.4 303.3 L148.7 303.4 L136 304 L122.7 303.2 L110 301.6 L98.6 297.8 L88.9 292.1 L82 283.1 L77.1 274.3 L72.4 263.7 L69.9 250.6 L66.9 237 L65.3 225.4 L63.7 214 L62 200.6 L61.5 188 L63.5 175.7 L70.4 164.2" stroke="#a6906e" stroke-width="3.4" opacity="0.9"/>
<path d="M85.5 30.8 L102.9 24.2 L121.8 22 L140 20.1 L159 21 L178 22 L197.3 23.5 L215.1 27 L232.1 28.6 L248.9 33.8 L265.1 40.8 L280 49.5 L293.9 60.1 L309.1 71.8 L323 81.5 L337 91.6 L349.8 101.9 L359.4 116.6 L365.3 132 L366.4 148.4 L366 165.6 L363.7 183.2" stroke="#c5b28a" stroke-width="2.4" opacity="1"/>
<path d="M336 180.3 L329.4 200.1 L314.1 215.7 L295 228.1 L276.4 238.3 L255.4 249.3 L236.1 258.4 L217.1 263 L197.2 265 L177.8 265.7 L159.4 265 L138.7 264.9 L119.2 262.8 L102.3 259.6 L87.3 250.4" stroke="#756042" stroke-width="1.7" opacity="0.7"/>
<path d="M82.4 105.5 L94.8 98.9 L108 95.5 L123.4 94.6 L139.1 93.6 L154.4 93.4" stroke="#887454" stroke-width="1.3" opacity="0.5"/>
<path d="M444.5 174.4 L444.5 192.6 L444.7 210.5 L443 228.1 L436.4 243.5 L425.2 256.3 L411.3 266.8 L396.6 276.7 L381.5 288.1 L368.3 300.1 L354.8 311 L341.9 320.7 L327 328.5 L311 335.1 L293.9 340.1 L276.3 343.2 L259.6 345.4 L240.6 347.3 L224.1 348.2 L206.7 349.2 L187.3 350 L166.5 351.7" stroke="#887454" stroke-width="2.6" opacity="0.4"/>
<path d="M90.4 130 L97.8 129.2 L106.1 128.1 L116.1 128.8 L125 132 L134.7 136.5 L145.4 141.2 L150.9 149.8 L152.9 160.9 L153.3 170.9 L147.7 177 L139.5 184.3" stroke="#92805e" stroke-width="1.4" opacity="0.6"/>
<path d="M112 195.3 L100.6 194.6 L90.7 191.6 L82.8 184.4 L79.6 174.5 L79.2 164.9" stroke="#6c5a3e" stroke-width="1.6" opacity="0.6"/>
<path d="M256.8 216.2 L238.4 227.9 L219.5 238.8 L198.4 243.6 L176.1 246.2 L155.1 247.7 L135.3 246.9" stroke="#685538" stroke-width="1.9" opacity="0.7"/>
<path d="M177.2 345.4 L168.9 345.5 L161.2 346 L149.2 346.5 L140.2 346.5 L132.6 345.1 L124 344.8 L116.6 342.1 L110 339.9 L100.1 336.5 L93.5 333 L88.1 330.2 L83.9 325 L79.8 319.1 L76.5 311.9 L73.7 304.2 L69.9 294 L68.7 286.8 L65.1 279.9 L63.8 272.4 L63.9 264.3 L62.3 255.4 L60.8 248.4 L59.2 237.5 L58.7 229.2 L57.5 220.9 L57.2 212.7 L56.7 204.9 L55.9 197.1 L56.3 186.3 L58.5 179.1 L62.2 172.8 L67.6 166.7" stroke="#756042" stroke-width="1.6" opacity="0.7"/>
<path d="M207 323 L186.6 322.2 L165.5 322.4 L145.9 321.2 L123.6 318.6 L104.7 314.5 L87.6 305.4 L76.8 291.7 L68.6 272.5 L66 253.6" stroke="#d3c29c" stroke-width="2.4" opacity="0.6"/>
<path d="M194.4 6.6 L213.1 8.9 L231.7 10.6 L249.6 15.1 L266.3 20.6 L282.1 26.2 L297.2 35.2 L311.9 44.7 L325.8 54.4 L339.3 64.1 L352.1 74.2 L367 83.7 L381.2 93.8 L392.3 105.2 L400.2 120.7 L404.7 138.4 L405.3 155" stroke="#7a6648" stroke-width="1.8" opacity="0.6"/>
<path d="M175.7 272.7 L156.4 272.5 L136 271.6 L113.9 271.2 L94.8 267.1 L81.8 256.8 L73.6 239.2 L69.2 219.5 L68.1 200.3 L66.1 181.6" stroke="#cdbb94" stroke-width="2.1" opacity="0.7"/>
<path d="M269.4 76.3 L284.8 88 L301.1 99.9 L314 112.9 L322.6 131.9 L323.7 151.8 L320.9 171.9 L316.9 190.7 L306.6 209.1" stroke="#d6c6a2" stroke-width="1.7" opacity="1"/>
<path d="M308.2 -2.2 L325 4 L339.8 11 L355.9 20.5 L371.4 30.2 L383.7 38.7 L400.3 49.8 L414.6 58.3 L430.8 68.8 L448 79.8 L459.5 91.1 L471.5 106 L479.1 120.3 L483.2 139 L485.3 155.8 L486.1 173.8 L484.9 193.3 L483.9 210.6" stroke="#d3c29c" stroke-width="1.3" opacity="0.8"/>
<path d="M356.1 74 L371.4 85.1 L382.9 96.3 L393 110.6 L396.8 126.4 L399.6 146 L398.3 163.3 L395.3 181.6 L392.1 200.4 L385.3 218.4 L372.5 232.2 L357.9 241 L339.8 251.5 L325.1 258.8 L307.8 268.6 L292.3 277.3" stroke="#dfd0ac" stroke-width="2.4" opacity="0.8"/>
<path d="M64.9 19.9 L79 6.4 L97.6 -3.5 L115.5 -7 L136.4 -9.3 L154.4 -8.5 L170.9 -6.6 L190.7 -5.4 L207.2 -5 L227 -2.7 L243.4 -0.5 L261.5 3.9 L277.1 7.6 L294.1 15.5 L307.6 23.6 L320.5 33.6" stroke="#887454" stroke-width="1.3" opacity="0.4"/>
<path d="M105.7 145.6 L108.2 147.7 L110.2 152.7 L111.1 155.7 L110.3 159.2 L107.1 161.6 L106.3 164.4 L104.1 167.7 L101.1 170.6 L98.2 171.3 L91.8 172.7 L86.1 172.3 L82.1 169.4" stroke="#d6c6a2" stroke-width="1.8" opacity="0.7"/>
<path d="M73.3 78.6 L86.7 65.9 L104.8 57.3 L122 54.6 L141 53.9 L161.4 54.6 L182.6 54.4 L201.4 55.2 L222 57.4 L240.4 64.5 L258.5 75.3 L276.1 85" stroke="#7a6648" stroke-width="2.1" opacity="0.6"/>
<path d="M306.3 -15 L321.3 -10.2 L338.6 -2 L352.8 5.4 L367.9 14 L383.3 23.3 L396.8 32.4 L410.7 42.3 L426.8 51.6 L443.6 60.4 L459.6 70 L473.9 81 L487.5 97.1 L495.7 110.9 L501.5 128 L505 144.1 L506 161.4 L506 179.1 L504.8 196.7 L503.1 214.4 L503.2 231.5 L498 248 L487.8 261.4 L472.4 275.2 L457.7 286.3 L443.8 295.8 L429.8 305.4 L414.7 316.6 L400.6 327.7 L386.6 337.5 L372.2 347.2 L356.4 353.7 L340.4 357.4 L320 361.5 L302.6 363.6 L286.1 365.7 L269.3 367.5 L252.1 368.4 L236.1 369.9 L219.9 370.5 L202.5 371.2 L184.1 371.5" stroke="#887454" stroke-width="2" opacity="0.4"/>
<path d="M64.7 98.9 L68.1 80.8 L69.4 62.2 L63.9 43.2 L64.2 28.6 L73 12 L88.5 -0.4 L104.2 -7.5 L121.8 -11.1 L142.1 -12.9 L159.6 -12.7 L177.6 -11.9 L196.2 -12.3 L214.7 -11.9 L232.6 -11.3 L251.5 -9.1 L269.6 -8.3 L287.7 -3.2 L304.6 1.7 L321.3 9.4 L337.9 17.9 L356.9 29.7 L371.6 40.3 L387 50.5" stroke="#7a6648" stroke-width="1" opacity="0.7"/>
<path d="M60.5 96.8 L62.4 79.8 L64.4 60.4 L62.3 43.4 L58.4 22.6 L63.2 8.6 L75.2 -4.7 L94 -16.3 L111.3 -22.9 L129.7 -27.6 L145.7 -28.5 L165 -28.2 L184.2 -26.4 L200.9 -25.4 L221.5 -24.4" stroke="#dacaa6" stroke-width="1.9" opacity="0.9"/>
<path d="M177.2 -25.2 L197.2 -24.9 L214.5 -25.3 L231.4 -24.5 L247.6 -23.6 L268.1 -22.2 L285.7 -21.3 L303.4 -17.7 L323.5 -13.6 L339.9 -7.3 L354.1 0.3 L369.7 8.4 L387.7 19.5 L402.7 28.5 L418.7 36.8 L437.4 48 L453.6 56.8 L469.3 66.8 L482.6 76.7 L495.9 92.1 L506.1 108.7 L513.2 126.4 L517 143.4 L517.9 164.9 L518.6 182.5" stroke="#827050" stroke-width="1.6" opacity="0.5"/>
<path d="M290.9 53.9 L308.2 64.7 L322.2 73.3 L336.7 81.3 L351.6 90 L364 100.8 L374.9 113.8 L383.5 129.6 L388.1 146.4 L389.8 163.1 L390.4 179.9 L389.5 197.7 L386.1 213.3 L378.6 228 L364.7 241.2 L349.8 250.9 L335.8 260.9 L322.1 273.3 L309.5 284.2 L296.6 292.3 L280.2 299.1 L263 304 L246.8 307.4 L227.6 310.2 L211 313.5 L194.5 314.8 L174.8 315.9" stroke="#887454" stroke-width="1.7" opacity="0.7"/>
<path d="M326.3 81.7 L340.9 89.2 L354.2 98.3 L368 112.2 L375.2 127.5 L381 143.8 L382.8 161.5 L383.8 178.8 L383 195.6 L381.2 213.7 L374.6 227.4 L364.4 237.8 L350.3 248.5 L337.6 257.3 L323.2 268.7 L309.4 280.6 L295.8 289.8 L280.8 296.8 L266 301.5 L247.1 306.8 L230.4 309.6 L214 312 L195.9 313.7 L178.4 314.1 L160.9 316.2 L138.8 316.8 L120.5 316 L103.4 312.7 L87.6 305" stroke="#dfd0ac" stroke-width="2.1" opacity="0.8"/>
<path d="M404.6 70.4 L421.6 82.1 L435.3 96 L446.6 115 L453.5 135.7 L455.4 156.9 L455.3 176.2 L454.1 196.8 L451.8 216.3" stroke="#aa946c" stroke-width="3.9" opacity="0.8"/>
<path d="M275.1 327.8 L255.1 327.8 L234.8 328.8 L214.7 327.4 L193.5 325.9 L174.2 325.8 L153.9 325 L134 323.6 L114 320.3 L96.4 313" stroke="#887454" stroke-width="2.3" opacity="0.7"/>
<path d="M143.5 168.4 L138.4 176 L133.4 183.4 L125.2 188.8 L115.1 191.3 L104.4 193.5 L91.1 195.3 L82.4 189.3 L78.4 175.3 L76.9 161.1" stroke="#b29c76" stroke-width="2.7" opacity="0.5"/>
<path d="M101.3 90.2 L121.1 93.5 L138.7 97.3 L155.2 101.7 L167.3 110.3 L178.8 120.3" stroke="#c5b28a" stroke-width="2.1" opacity="0.8"/>
<path d="M99.6 34.1 L117 28.4 L133.1 27.3 L151.1 27.7 L170.3 28.4 L187.9 28.5 L205.6 29.8 L222.6 32.7 L241.1 37.9 L255.9 44.9 L269.6 52 L285.2 62.8 L299.5 72.5 L314.4 80.4 L328.5 89.1 L342.5 100.9 L352.8 114.9 L359 132.4 L361.4 151.2 L361.5 169.3 L359 185.6 L357.2 203.4 L348.9 219.4 L336.2 229.8 L321.1 240.3 L304.6 250.6" stroke="#dacaa6" stroke-width="2.4" opacity="0.6"/>
<path d="M266.3 153.7 L263.2 177.3 L253.1 196.1 L234 209 L214.9 220.5 L194.4 229.7" stroke="#685538" stroke-width="1.2" opacity="0.6"/>
<path d="M76.1 79.4 L93.1 70.2 L112.2 67.9 L132.3 68.6 L150.4 68.4 L167.5 69.7 L186.4 75.1 L202.3 81.1 L216.8 91.2 L231.1 101.7 L245.7 111.1 L258.4 122.5 L265.6 140.2 L266.7 157.6 L264.4 174.6" stroke="#b6a07c" stroke-width="2" opacity="0.8"/>
<path d="M215.2 253.9 L193 259.4 L171.3 262.3 L149.3 264.7 L125 265.6 L102 263.7" stroke="#7a6648" stroke-width="1.1" opacity="0.7"/>
<path d="M186.3 260.1 L164.9 260 L145.1 258.8 L124.9 257.7 L103.8 255.1 L87.2 246.8" stroke="#e4d8b8" stroke-width="1.6" opacity="0.7"/>
<path d="M148.9 213.7 L140.5 216.8 L129.7 216.9 L120.1 218 L108.8 219.4 L97.7 219.1 L88.5 216.5 L81.5 209.2 L76.7 198.4 L75.1 188.3 L73.5 177.6 L73.4 167.1 L77.9 157.5" stroke="#c9b890" stroke-width="1.7" opacity="0.9"/>
<path d="M130 -12.6 L147.8 -14.2 L167.1 -13.8 L189.3 -13.1 L208.5 -13.4 L226.8 -12.7 L248.2 -11.9 L266 -10.1 L285.4 -7.4 L306.6 -2.2 L324.1 4.2 L339.2 12.8 L358.3 24.1 L375.7 34.5" stroke="#a6906e" stroke-width="3.5" opacity="0.8"/>
<path d="M170.9 117.4 L182.9 126.7 L193.1 137.3 L195.8 151.9 L193.6 168.1 L184.5 181.2 L172.2 189.3 L158.7 197.5 L143.9 202.6 L128.7 204.2" stroke="#c5b28a" stroke-width="2" opacity="0.9"/>
<path d="M365.7 87 L378.1 100 L386.5 117.6 L391.2 137 L390.8 156.3 L386.8 174.8 L382.1 192.2 L375.9 210.5 L363.4 225.7 L347.6 236.6 L328.8 244.9 L310.7 253.4" stroke="#dfd0ac" stroke-width="1.2" opacity="0.7"/>
<path d="M241.8 97.8 L258.1 107.3 L271.7 119.9 L280.2 138.6 L280.2 158.2 L277.1 178.1 L270.7 197.2 L254.3 209.3 L236.6 219.2 L219.6 229.4 L202.1 237.8" stroke="#d3c29c" stroke-width="1.5" opacity="0.9"/>
<path d="M73.5 133 L77.1 114.3 L74 95.6 L80.2 83 L98.6 74.4 L116.6 72.8 L134.1 73.4 L152.4 73 L169.8 74.4 L184.8 78 L202 86.3 L217.5 96 L232.4 105.3 L247.9 115.9 L258.9 131.4 L262.2 147.6 L261.6 165.5 L259 185" stroke="#d3c29c" stroke-width="1.6" opacity="0.7"/>
<path d="M196.2 -34.6 L215.2 -35.1 L233.4 -34.8 L252.1 -34.1 L267.6 -32.2 L284.8 -30.5 L302.7 -28.2 L320.3 -25.5 L336.4 -20.3 L348.9 -13.1 L366.1 -4 L382.3 5.9 L397.4 15.4 L411.2 25.8 L423.8 32.5 L438.6 42.3 L453.3 51 L467.6 59.9 L482.4 68.5 L495.1 81 L504.1 94 L513.5 110.8 L518.6 127.3 L522.1 145.4 L522.8 163.2 L521.9 177.7 L521.1 196.6 L520.1 215.5 L517.8 234 L512.9 250.1 L503.5 265 L493.3 275.7 L478.4 286.5 L463.7 294.8 L448.5 304.4 L433.9 314.3 L421.4 323.4 L406.7 335.1 L391.7 344.8 L376.4 352.8 L359.6 360.1 L345.8 364.3 L327.3 367.9 L309.8 369.9" stroke="#756042" stroke-width="1.7" opacity="0.8"/>
<path d="M385.8 259.6 L370.1 269.7 L354.6 281.4 L342.1 289.9 L326.3 300.4 L309.2 308.6 L291.6 313.7 L273.8 317.8 L258.1 320.3 L239.4 323 L221.3 325.2 L203.3 327.3 L184 327.5 L166.6 326.8 L146.8 325.7 L126.7 325.5 L108.3 321.4 L92.2 314 L82.5 302.2 L73.9 285.5 L68.2 267 L65.1 249.4 L62.3 231 L60.4 214.2 L59.1 195.6 L61.6 177.2" stroke="#c5b28a" stroke-width="1.3" opacity="0.8"/>
<path d="M127 215.7 L116 218.4 L102 220.2 L90.5 219.4 L81.7 211.3 L76.2 199.1 L73.7 185.5 L72.8 171.2 L77.3 158" stroke="#aa946c" stroke-width="2.4" opacity="0.9"/>
<path d="M131.8 104.4 L148.9 105.8 L163.4 112 L178.4 121.4 L193.8 130.5 L202.9 144.4 L205.3 160.9 L204 178 L191.6 189.7 L178.6 200.8 L164.1 210.2" stroke="#e4d8b8" stroke-width="1.3" opacity="1"/>
<path d="M328.9 311.3 L314.3 317 L297.7 323 L278.9 327.1 L261.9 330.1 L247.2 331.8 L230.4 333.5 L215.1 334.3 L195.2 334.8 L177.3 335.4 L159.2 335.7 L141 335.6 L119.5 333.2 L104 327.9 L90 319.3 L80 305.7 L72.9 288.9 L67.7 268 L64.7 251.8 L62 234.8 L58.9 218.2 L57.1 197.7 L60.1 181.3 L68.5 165.9" stroke="#827050" stroke-width="2.6" opacity="0.6"/>
<path d="M73.3 102.5 L83.1 88.6 L99.4 80.9 L117.5 76.3 L137 75.1 L157.4 73.1" stroke="#756042" stroke-width="1.1" opacity="0.8"/>
<path d="M75 105.8 L73.1 89.7 L84 77.2 L100.5 70.9 L117 68.4 L136 68.9 L154.9 69.7 L173.3 69.9 L191 72.6 L207.2 77.9 L222.6 86.8 L240.2 96.4 L257.9 105.6 L274.4 116.2 L287.3 130.1 L293.7 147.1 L296 165.8 L296.4 186.1" stroke="#c9b890" stroke-width="1.3" opacity="0.7"/>
<path d="M112.8 191.4 L106.5 192.6 L99.1 193.8 L89 194.4 L82.7 191 L77.7 183.7 L76.4 174.3 L76.9 165.6 L79.7 155.9" stroke="#dacaa6" stroke-width="2.5" opacity="0.7"/>
<path d="M289.2 78.5 L303.8 88 L321.2 98.4 L333.3 111.4 L342.7 127 L347.7 144.4 L349.2 163.9 L346.7 181.3 L344 199.3 L335.7 214.5 L319.6 227.2 L305.5 236.7 L290 246.1 L275 256.4 L257.5 266.7 L240.1 272.4 L223.5 276.1 L206.8 278.2 L188.3 281.1 L170.4 282 L152 282.2 L133.2 282.2 L111.9 279.8 L95.5 275.5 L83.4 265.8" stroke="#e4d8b8" stroke-width="1.6" opacity="0.7"/>
<path d="M295.1 228.8 L277.6 239.2 L262.4 250.5 L245.6 259.4 L225 266.2 L204.1 268.2 L184.2 269.5 L165.3 269.6 L145.5 268.9 L124.7 268.9 L104.8 266 L87.9 258 L76.6 243.1 L71.7 223.9 L68.9 205.8 L67.4 186 L69.6 168.2" stroke="#92805e" stroke-width="1.2" opacity="0.7"/>
<path d="M228.7 86.5 L243.9 97.1 L259.5 106.7 L274.4 117.4 L285.1 133 L289.3 150.3 L288.8 166.9 L287.3 185.2 L280 201.5 L266 213.5 L250.3 223.2 L236.3 234.3 L223.1 242.2 L205.3 247.7 L187.9 251.8 L169.5 253.3 L151.8 255.2 L134.5 255.1 L117.1 255 L99.3 254.5" stroke="#e4d8b8" stroke-width="1.7" opacity="0.7"/>
<path d="M291 21.1 L306.6 30.7 L321.4 41.4 L335.8 51.9 L348.9 62.9 L364.3 72.4 L377.1 80 L390.4 90.8 L401.9 104.7 L410.5 121.4 L414.8 139.1 L415.2 157.8 L413.1 172.6 L410.6 189.2 L407.1 205.8 L400.1 224.5 L386.9 238.5 L371.3 248.3 L354.6 257.8 L340.7 265.6 L327 274.4 L310.6 283.9 L296 291.9 L280.3 298.4 L263.2 301.6 L245.8 304.8 L231 305.9 L214.3 306.6" stroke="#c9b890" stroke-width="1.7" opacity="0.8"/>
<path d="M191.1 77.6 L208.1 88.1 L223.3 99.1 L237.7 109.7 L249.2 121.7 L254.7 139.2 L252.8 158.6 L247.8 177 L237.1 193.3 L219.7 203.1 L202.7 211.4 L185.4 220.2" stroke="#d6c6a2" stroke-width="1.9" opacity="0.7"/>
<path d="M400.8 271.8 L382.3 282.2 L367.2 290.8 L349 304.3 L333.3 311.3 L316.1 317.7 L296.6 322.9 L277.9 325.9 L258.5 327.8 L240.2 328.1 L221.4 329.4 L202.2 329.5 L185.1 330.1 L165 328.7 L147.8 326.5 L127 326.2 L111 323.2 L95.7 317.4 L81.4 306.2 L73.5 292.6 L67.9 274.6 L63.9 257.9 L63.1 241.4" stroke="#c5b28a" stroke-width="1.3" opacity="0.7"/>
<path d="M178.5 273.3 L166.4 273.4 L154.6 272.9 L144.4 270.7 L132.1 270.8 L121.2 270.8 L109 270.2 L100.8 267 L91.6 260.9 L84.2 253.5 L78.2 243.8 L75 232.6 L72.8 223.3 L71.3 212 L69 200.9 L67.6 190.4 L67.5 180.8 L69.1 169.8 L74.4 160.6" stroke="#d6c6a2" stroke-width="1.3" opacity="0.7"/>
<path d="M285.9 361.8 L266.4 364.8 L249.3 366.9 L232.2 368.2 L215.3 367.3 L198.6 368.4 L180.9 369.2 L162.1 370.6 L140.3 370.8 L121.2 370.1 L104.9 365.6 L90.1 356.8 L79.1 342.3 L71.4 326.5 L64.6 309.5 L61.6 292.3 L59 271.4 L56.4 255 L53.2 235.8 L50.9 218.1 L50.9 201.3 L55.4 184.2" stroke="#756042" stroke-width="2.6" opacity="0.8"/>
<path d="M205 190.5 L189.5 198.6 L172.8 208.2 L154.5 212.9 L138.9 214.5 L120.4 214.6" stroke="#c9b890" stroke-width="1.9" opacity="0.8"/>
<path d="M466.1 98 L474.3 111.5 L480.5 127.6 L485.2 142.6 L487.3 162 L489.3 178.2 L487.8 193.6 L486.9 210.9 L485.2 227.5 L479.5 242.8 L468 259.7 L455.7 270.1 L442.3 279.8 L427.7 289.2 L414.8 299.1 L401.3 309.4 L388.7 320.5 L373.2 330.9 L359.3 340.1 L343.9 344.9 L328.6 350.9 L312.3 354.9 L296.6 358.8 L280.1 361.3 L261.1 364.4 L244.8 365.2 L227.8 366.6 L211.2 367.3 L194.4 367.8 L177.2 369.8 L156.1 370.5 L138.1 368.6 L121.5 365.7 L104.7 360.4 L90.3 351.7 L79.2 338.8 L71.8 323.4 L64.6 303.1 L60.1 286.5 L56.6 269" stroke="#d3c29c" stroke-width="2.4" opacity="1"/>
<path d="M124.4 1.6 L143.3 0.1 L160 -0.6 L178.9 0.4 L195.4 1.2 L215.9 2.1 L232.8 3.7 L251.1 5.6 L266.5 8.3 L283.5 12.5 L300.7 19.9 L315 27.9 L331.1 38.5 L344.8 48 L360.7 58.1 L375 68 L390.7 77.7 L404.8 87.8 L417.1 101 L425.6 116.4 L432.1 134.7 L434.1 151.2 L434.2 166.9 L431.9 185.8 L431.7 202.9" stroke="#887454" stroke-width="2.3" opacity="0.5"/>
<path d="M256.9 214.9 L244.8 223.4 L233.3 232.3 L221.5 239.6 L208.1 244.8 L193 247.9 L178.4 250.1 L163.1 250.8 L148.4 250.8 L133.4 252.1 L116.6 252.9 L100.2 252.3 L87.3 246.6 L77.7 235.9 L72.7 220.7 L70.7 203.9 L68.5 188.6 L67.7 174.3 L75.2 159.9" stroke="#dacaa6" stroke-width="1.6" opacity="0.9"/>
<path d="M397.8 142.9 L396.8 161.8 L394.3 182.5 L391.7 201.5 L384.8 221.1 L371.1 234.4 L352.9 247 L335.1 257.1 L318.1 269.5 L302.3 279.6 L282.6 288.1 L264 292.8" stroke="#d6c6a2" stroke-width="1.9" opacity="0.8"/>
<path d="M131.7 -16 L147.9 -17.5 L167.6 -18.4 L183.2 -17.2 L203.5 -17.6 L219.6 -17.5 L239.6 -15.3 L255.9 -13.4 L274.1 -11.7 L290 -8.9 L308.2 -4 L323.8 2 L340.4 11.3 L354.4 20.6 L369.9 30.3 L383.9 39.5 L399.3 49 L412.7 57.3 L428.9 66.2 L441.9 75.4 L456.7 88.7 L466.2 100.8 L475.2 117.5 L480.5 133.7 L482.8 152.3 L482 167.3 L481.4 187.4 L478.9 202.6 L476.4 222.1 L470.6 237.4 L461.1 251.2 L448.3 262.7 L433.7 273.3 L421 282.8 L404.7 293.4 L391.6 303 L376.7 313.6 L362.1 321.6 L344.5 330" stroke="#dfd0ac" stroke-width="1.5" opacity="0.9"/>
<path d="M309 365.6 L300.8 366.9 L289.8 368.7 L281.1 368.5 L269.3 369 L261.2 369.9 L249.8 370.5 L239 369.8 L230.6 369.9 L218 369.8 L208.9 370.3 L197.4 370.1 L187.5 371 L175.6 370.5 L165.4 370.9 L152.4 371.2 L142.3 370.3 L132 369.7 L124.2 368.3 L112.5 365.8 L105.8 362.3 L96.3 356.6 L90.1 349.8 L83.6 341.2 L76.6 331.9 L72.2 322.7 L67.6 311 L65.1 301 L62.6 289.6 L60.6 279.3 L58.1 267.2 L57.5 258.3 L56.3 248.6 L55 239.8 L54.1 228.9 L54.2 220.1 L53.1 207.2 L53.3 198.3 L55.1 186 L58.4 177.6 L65.3 168.8" stroke="#dacaa6" stroke-width="1.4" opacity="0.9"/>
<path d="M161.6 339.5 L150.6 339.6 L142.6 338.8 L133.9 337.4 L122.6 335.9 L115.4 334.5 L106 332.3 L99.7 329.5 L91.1 324 L85.7 319.6 L81.1 313.6 L75.9 305.9 L72.4 298.1 L69.1 288 L68.1 281.1 L66.2 270.8 L65.1 264.2 L64.5 257.1 L61.9 246.4 L61.2 239.4 L60.7 229.6 L58.9 222.2 L57.7 213.2 L56.6 203 L57 196.2 L58.4 186.5 L60.2 179.5 L63.8 171.1 L68.9 165.6" stroke="#988462" stroke-width="2.4" opacity="0.6"/>
<path d="M172.9 274.4 L148.5 268.9 L123.3 263.9 L99.8 257.7 L84 243.4 L77.1 224.3 L72.8 203.8" stroke="#dacaa6" stroke-width="1.2" opacity="0.7"/>
<path d="M415.3 265.5 L396.8 277.4 L381 287.6 L365.5 297.6 L350.7 307.2 L335.5 315.3 L319.8 322.6 L298.8 329.6 L281.1 332.3 L263.4 334.7 L246.3 336.8 L229.7 336.8 L212.5 336.9 L193.8 336.5 L172.5 336.7 L153.7 336.8 L134.7 336.3 L116.7 333.8 L99.8 329 L85.1 319.8 L73.1 305.2 L67 288.8 L62.2 270.5 L59 254.1 L58.2 237.4 L57.2 221.4 L57 204.7 L58.1 185.5" stroke="#6c5a3e" stroke-width="1.9" opacity="0.6"/>
<path d="M144.2 135 L145.6 141.1 L142.8 149.2 L136.6 156.4 L129.8 162.4 L120 164.5" stroke="#baa480" stroke-width="4.3" opacity="0.8"/>
<path d="M142.1 163.5 L140.4 172.7 L136.4 180.4 L131.1 186.7 L121.3 191.5 L110.3 195.1" stroke="#e4d8b8" stroke-width="2.2" opacity="0.8"/>
<path d="M136 39 L153.6 38.9 L172 39.9 L189.1 41 L208.3 42.8 L225.8 46.8 L243.4 52.7 L256.8 59.5 L272.7 68.5 L288.8 79.8 L304.6 89.2 L319.7 98.4 L332.9 108.7 L345 123.1 L350.3 140.4 L351.6 157 L351.9 174.5 L349.8 193 L345.7 210.2 L335.8 222.6 L320.8 234.4 L306.7 243.5 L291.3 254.6 L279.2 264.6 L264.3 273.9 L247.2 279.7" stroke="#c9b890" stroke-width="2.1" opacity="0.7"/>
<path d="M119.5 108.2 L132.8 111.7 L144.5 119.7 L152.2 129 L158.4 137.3 L160.6 147.5" stroke="#b6a07c" stroke-width="2.3" opacity="0.7"/>
<path d="M511.3 258 L495 270.6 L476.5 280.6 L456.3 290.6 L438.9 298.2 L423.3 308.2 L403.3 318.9 L386.4 328.1 L369.7 336.3 L349.9 342.1 L331.6 345.9 L313.5 348.4 L293.8 349.6 L274.6 350.7" stroke="#a6906e" stroke-width="2.3" opacity="0.7"/>
<path d="M101.3 138.7 L106 140.8 L109.6 144.1 L113.7 146.2 L116.5 152 L116.3 156 L115.6 161.1 L111.1 162.8 L106.4 164.7 L101.6 166 L96.8 165.3 L93 166.1" stroke="#d3c29c" stroke-width="1.8" opacity="0.9"/>
<path d="M220.5 64.7 L236.3 76.2 L251 87.4 L266.6 98.3 L282 110.7 L291.6 124.8 L294.8 143.7 L292.3 161 L287 179.9 L280.8 195.9" stroke="#a6906e" stroke-width="4.5" opacity="0.9"/>
<path d="M257 167.8 L251.2 186.7 L234.1 199.6 L214.2 211.2 L194.5 222.3 L177 228.4 L156.5 231 L137.7 229.8" stroke="#92805e" stroke-width="1.2" opacity="0.7"/>
<path d="M98.9 179.4 L92.5 179.5 L87.3 178.8 L82.3 176.4 L80.5 172.4 L80.1 166.2" stroke="#685538" stroke-width="1.3" opacity="0.6"/>
<path d="M97.5 138.2 L101.2 139.9 L105.6 141.7 L106.7 143 L110.1 146.5 L111.9 150.7 L111 154 L110.8 158.2 L108.5 161.3 L105.1 162.3 L102.6 164.4 L98.1 165" stroke="#685538" stroke-width="1.2" opacity="0.5"/>
<path d="M333.2 60 L349.2 68.6 L368.9 78.2 L385.1 88.6 L398.2 100.3 L409.8 116.6 L415.7 134 L420.2 151.5 L421.4 169.9 L421 188 L418.4 206.1 L413.1 226 L403.6 242.2 L390.8 254.3 L375.7 265" stroke="#887454" stroke-width="2.1" opacity="0.6"/>
<path d="M428.4 118.6 L433.4 136.3 L435.5 152.7 L434.9 172 L433 190.1 L430.9 205.9 L425.7 223.6 L415.2 238.1 L401.7 248.7 L384.2 259 L368.1 268.5 L354.4 278.2 L339.2 289.5 L323.8 299.9 L308.4 306.7 L290.2 311.8 L271.2 314.7 L255 317.6 L236.2 318.9 L217.4 319 L200.7 319.6 L181 320.9 L164.9 320.9 L144.9 321.4 L125.1 321.6 L108.9 318.9 L92.4 312.5 L80.6 300.4 L74.3 285.3 L67.4 265.8 L63.6 247.5 L61.4 232.3 L60 213.9" stroke="#756042" stroke-width="2.6" opacity="0.6"/>
<path d="M121.8 136.9 L130.7 141.3 L137.6 148.1 L140.9 157 L139.9 166.9 L133.3 172.7 L127.4 180.7" stroke="#988462" stroke-width="2.1" opacity="0.6"/>
<path d="M68.8 26.7 L81.1 14.7 L100.1 5.9 L116.1 2.5 L135.1 0.5 L151.9 -0.3 L171.5 -0.3 L188 -1.1 L207.8 -0.1 L224.9 0.4 L244.1 2.8 L260.3 5.5 L278.9 10.2 L294.6 16.7 L311.3 26.9 L325.3 35.7 L341.6 46.1" stroke="#827050" stroke-width="2.5" opacity="0.6"/>
<path d="M68 119.7 L70.7 103.7 L69.8 85 L67.5 67.3 L73.8 53.2 L90.1 42.9 L108.9 35.8 L126.1 33.8 L145.2 32.2 L163.7 31.6 L182.7 31.4 L201.4 31 L221.1 34 L238.7 37 L256.7 42.2 L273.8 49.2 L291.1 60.2 L306.2 69.5" stroke="#cdbb94" stroke-width="1.7" opacity="0.7"/>
<path d="M296 99.4 L309.5 108.7 L322.8 123.6 L329.5 139.1 L332.7 156.3 L332.7 174.2 L331.5 192 L328.3 209.9 L318.1 223.1 L304.3 233.8 L290.9 245.5 L278 256 L262.3 267.6 L246.6 274.9 L228.4 280 L210.8 283.5 L193.4 285.5 L175.3 287.6 L156.2 287.9 L136 288.2 L117.1 288.9 L99.8 286.8 L83.4 275.6" stroke="#d3c29c" stroke-width="2.3" opacity="0.8"/>
<path d="M178.6 229.1 L164.1 230.1 L149.4 230.5 L135.2 230.4 L121 230.7 L106.7 228.4" stroke="#e4d8b8" stroke-width="1.4" opacity="0.8"/>
<path d="M292.9 -14.4 L311.5 -10.3 L328.6 -5.2 L343.3 3.3 L358.7 9.9 L375.8 21 L389.5 30 L403.4 38.4 L419.2 47.7 L436.2 56.6 L451.5 65.5 L465.1 75.7 L476.2 87.4 L485.4 102.4 L493.4 120.1 L497.1 137.3 L499.3 153.8 L499.3 171.1 L498.2 190.6 L496.7 206.2 L495.2 223.2 L490.9 241.2 L479.3 257.3 L466.4 268.3 L452.4 278.2 L438.7 288.9 L423.1 299.8 L410.6 309.7 L397.9 320.4 L383.8 330.5 L369.9 339.3 L350.4 345.7 L334 350.7 L316.4 355.2 L299.9 359.1 L280.5 363 L263.4 364.5 L247.2 366.2 L229.4 366.7" stroke="#827050" stroke-width="1.7" opacity="0.8"/>
<path d="M180.4 39.1 L200.7 40.5 L223.2 44.2 L241 49.5 L258 58.3 L274.9 69.9 L290.6 81.7 L307.6 91.4 L325.9 103.3" stroke="#dacaa6" stroke-width="1.2" opacity="1"/>
<path d="M64.8 124.8 L63.1 107.9 L67.5 88.1 L69.5 71.6 L65.8 54.4 L64.4 38 L72.4 22.5 L87.3 9.9 L107.4 1.5 L124.6 -2.9 L141.2 -5.2 L160 -5 L176.7 -4.4 L193.7 -2.7 L214 -0.6 L230.8 0.1 L247.7 2.5 L263.1 5.8 L281 11 L296.5 16.9 L310.6 24.6 L327.5 33.8 L341.3 43.2 L354.8 52.9 L370.8 63.4 L385.8 72 L401.1 79.8 L416.4 91.8 L425.4 104.5 L432.1 119.9" stroke="#a6906e" stroke-width="4.2" opacity="0.8"/>
<path d="M116.3 133.5 L123.8 137 L131.8 140.5 L136.7 145.7 L138.4 151.9 L138.3 161 L134 166.3 L127.2 171.6 L120.5 176.7 L112.7 179.5 L104.4 181.5 L95.5 184.3" stroke="#685538" stroke-width="2.2" opacity="0.5"/>
<path d="M192.3 22.9 L210.9 24.6 L228.3 27.5 L245.5 31.5 L263.2 38.6 L276.8 47.7 L290.1 59.4 L303.9 69.8 L319.8 79.4 L335.2 88.3 L349.2 99.5 L360.3 110.8 L366.8 128.3 L368.1 145.5 L368.1 163.7 L365 180 L361.9 199.8 L354.3 214.6 L342.2 228 L327.8 238.2" stroke="#b29c76" stroke-width="4.3" opacity="0.5"/>
<path d="M147.8 70.4 L169.6 73.1 L190.3 80.1 L206.1 90.2 L221.6 103.1 L238.3 114.7" stroke="#ae9874" stroke-width="2.6" opacity="0.9"/>
<path d="M259.6 371.4 L247.5 371.1 L236.2 371.6 L221.2 372.4 L207.5 371.5 L196.1 370.6 L181.2 370.7 L168.6 370.3 L154.9 368.7 L141 368.1 L125.7 366.3 L113.3 363.4 L103.4 358.8 L91.2 351.4 L84.6 344.4 L79.2 336.8 L73.5 326.4 L66.4 312.3 L62.7 300.5 L60.3 287.3 L58.6 275.5 L55.9 260.8 L55.1 249 L54.8 238 L53.1 223 L51.6 212.4 L51.8 201.3 L53.7 190.9 L59.2 177.6 L66.4 167.8" stroke="#dacaa6" stroke-width="2" opacity="0.7"/>
<path d="M279.1 112.9 L290.1 130.3 L292.7 150.7 L289.6 171.7 L284.3 192.6 L268.6 209.2 L249.7 219.9 L231 231.4 L212.9 240.1" stroke="#685538" stroke-width="2.4" opacity="0.5"/>
<path d="M123.5 199.3 L115.6 199.8 L108.5 200.2 L103.1 200.7 L94.9 199.9 L88.1 199.2 L83 195.2 L80.8 187.5 L79 180.2 L77.5 173.7 L77.1 167.5 L77.3 160.5 L80.2 155.4" stroke="#e4d8b8" stroke-width="2.3" opacity="0.7"/>
<path d="M123.4 11.7 L141 10.9 L159 10.2 L176.5 10.8 L194.3 11.1 L211.6 11.8 L229.4 12.1 L249.2 16.2 L264.5 19.6 L281.2 26.1 L298.1 34.9 L313.2 44 L327.4 52.7 L341.8 62.5 L358.3 70.3 L373.7 78.2 L390.4 88.8 L404.2 101.1 L414.4 116 L420.7 131.3 L423.1 148.9 L422.1 166 L420.6 184.6 L419.6 200.9 L416.1 218.3 L408 234.3 L393.7 246.8 L381.1 255.5 L365.6 265.9 L351.1 277.5 L336.5 289.3" stroke="#6c5a3e" stroke-width="1.8" opacity="0.5"/>
<path d="M199.8 137.5 L202 154 L199.7 169.6 L190.3 183.1 L175.1 191.2 L159.9 199.6 L145.5 204.1 L129.9 205.2 L115.4 205.6 L99.8 203.9 L85.3 199.6 L78.8 186.1 L77.4 172.5" stroke="#988462" stroke-width="1.5" opacity="0.5"/>
<path d="M261.3 42.9 L278.7 52.4 L298.7 63.2 L317 73.1 L334.5 82.5 L352.9 93.6 L368.8 107.2 L379.1 128.8" stroke="#d3c29c" stroke-width="1.9" opacity="0.8"/>
<path d="M135.3 116.6 L150 121.8 L164 127.7 L178.7 136 L186.6 150.7 L189.3 167 L184.8 181.3 L175.2 192.1 L162.6 203.3 L147 210.2 L131.6 213.6" stroke="#92805e" stroke-width="1.7" opacity="0.5"/>
<path d="M396 57.1 L413.4 67.2 L427.8 78.2 L441.2 89.4 L451.6 105.1 L458.8 121.7 L462.3 138 L463.9 156.3 L463.3 175 L461.1 192.4 L459 209.5 L453.2 226.5 L443.7 240.9 L430.3 253.8 L412.7 264.2 L396.2 272.9 L381.2 282.5 L367 294.3 L351.6 305.1 L336.1 313.8" stroke="#dfd0ac" stroke-width="2.4" opacity="0.8"/>
<path d="M239.5 198.5 L236.5 208.9 L233.3 219.9 L228.3 232.6 L219.9 245.1 L206.8 255.5" stroke="#988462" stroke-width="1.9" opacity="0.7"/>
<path d="M58.8 23.9 L61.5 9.9 L70.9 -4.7 L85.4 -15.8 L102.3 -24.9 L119.2 -30.2 L136.8 -32.8 L152.4 -34.6 L169.5 -35.4 L187.6 -35.6 L206.1 -36.2 L224.4 -35.8 L242.2 -35 L261.8 -36.5 L279.5 -35.4 L298.1 -34 L313.1 -30.4 L330.8 -26.3 L347.4 -20.1 L364.3 -12.2 L380.5 -4.8 L395.9 4.5 L411.8 14.6 L427.1 24.8 L444.2 34.7 L461.2 43.5 L474.5 51.4 L490.8 62.1 L505.2 73 L517 87.2 L525.5 104.3 L532.3 121.7 L536.3 140.9" stroke="#756042" stroke-width="1.5" opacity="0.5"/>
<path d="M131.3 154.2 L133 161.5 L129.6 167.5 L123.7 173.5 L119 178.7 L112.4 182.2 L103.2 182.6 L94.4 183.4 L85.3 182.1 L80.5 174.6" stroke="#887454" stroke-width="2.2" opacity="0.8"/>
<path d="M270.6 16.8 L286.6 23.2 L304.7 32.4 L322.4 42.1 L337.3 51 L351.4 59.3 L369.5 69.4 L388 77.4 L402.6 86.2 L418.4 99.2 L429.8 114.3 L438.7 131.8 L442.8 148.6 L445 167.6" stroke="#827050" stroke-width="2.6" opacity="0.5"/>
<path d="M152.1 240.1 L136 238.4 L119.9 235.7 L103.6 233.3 L91.1 229.1 L82.9 218.7 L77.9 205.9 L75.9 192.4 L74.5 180.1 L73.8 167.9 L77.9 157.5" stroke="#c5b28a" stroke-width="1.9" opacity="0.6"/>
<path d="M208.5 214.3 L190.7 225.3 L169.6 231.5 L146.9 232 L127.4 233 L107.3 231.6 L87.6 224.6 L77.2 207.5 L74 188.4" stroke="#baa480" stroke-width="3" opacity="0.8"/>
<path d="M151.8 58.9 L170.8 61.6 L187.8 66.8 L205 73.8 L219.7 84.6 L232.5 94.5" stroke="#d6c6a2" stroke-width="1.7" opacity="0.7"/>
<path d="M246.2 333.6 L230.1 334.1 L209.1 335.6 L193.1 335.8 L175.7 336.1 L155.1 335.9 L136.5 335.3 L118.4 333.5 L99.1 328.6 L86 319.4 L75.7 304.3 L67.9 285.3 L61.9 269 L60.3 252.1 L58.3 234.1 L56.6 215.2 L56.9 194.7" stroke="#685538" stroke-width="2.5" opacity="0.6"/>
<path d="M498.6 260.6 L484.8 272.6 L470.1 283.8 L455 292.9 L440.5 302.6 L426.5 312.1 L412.5 323 L397.2 333.4 L381.8 343.1 L366.7 350.3 L351.7 354.8 L333.6 358.6 L316.8 362.2 L298.8 363.8 L281.4 366.5 L264.4 367.9 L247.2 369.7 L230.3 370.3 L211.1 371.1 L193 371.2 L175.2 370.6 L156.3 370.5 L139.4 369.5 L121.3 367.6 L105 362.3 L91.2 352.1 L79.5 338.7 L71.2 324.1 L65.5 307.2 L61.7 290.5 L58 273.3 L55.1 255.4 L53.4 238.4 L51.2 221.4" stroke="#988462" stroke-width="1.9" opacity="0.6"/>
<path d="M279.8 59.8 L295.5 69.2 L310.4 78.3 L326.2 86.2 L342.4 95 L356.8 107 L367.5 122.3 L374.4 139.1 L376.8 157.5 L378 176 L376.9 193.6 L375 212.2 L367 228.3 L353.4 240.9 L338 250.9 L323.3 262 L309.2 273.6 L295.6 284 L280.4 291.9 L264.3 297.3" stroke="#b6a07c" stroke-width="3.3" opacity="0.7"/>
<path d="M129.2 117 L139.1 117.2 L150.2 122 L159.6 125 L171.3 128.6 L183.7 133.7" stroke="#887454" stroke-width="2.2" opacity="0.5"/>
<path d="M135.6 43.2 L153.2 43.4 L172.4 42.8 L191.6 42.2 L211.8 43.6 L229.5 48 L246.5 54.2 L264.5 62.9 L280.1 71.5 L297.9 82.1 L315.6 89.9 L331.9 98.9 L346.2 112.5 L356.2 129.7 L361.7 150.3 L364.4 169.9 L364.2 189.1" stroke="#988462" stroke-width="1" opacity="0.8"/>
<path d="M67.6 75.7 L66.8 57.3 L61.9 39.8 L64.1 25.1 L77.9 9.9 L94.2 0.4 L112 -5.7 L130.6 -9 L147.5 -8.8 L167.6 -8.5 L184.8 -7 L202.1 -6.3 L218.6 -6.2 L235.8 -5.6 L255 -2.2 L271.6 2.2 L286.9 7.8 L301.9 15.3 L315.8 24 L332.7 34.9 L346.6 44.5 L358.5 53.5 L371.7 63.4 L385.8 71.5 L401.9 82.5" stroke="#c9b890" stroke-width="2.3" opacity="0.7"/>
<path d="M455.5 259.6 L439.1 270.7 L421.3 281.1 L404.7 290.2 L389.4 300.7 L374.5 312.4 L357.7 322.4 L339.2 329.9 L321.9 333.7 L302.9 338.2 L284.4 341.7 L266.2 343.1 L247.5 343.6 L229.2 342.9 L210.3 343.9 L191.9 343.2 L176.1 343 L156.8 342.2 L136.6 341.2 L117.9 338.6 L102.1 333.1 L88.3 324.5 L78.3 309 L71.6 293.8 L65.8 276.7" stroke="#e4d8b8" stroke-width="2.5" opacity="0.7"/>
<path d="M358.1 219 L343.8 233.1 L327.4 243 L312.8 251.9 L296.1 262 L279.5 272.2 L263.1 279.4 L243.8 284.3 L225.2 286.5 L208 289.1 L190.4 289.6 L170.3 290 L150.7 290.9 L131 290.9 L112.4 289.5 L94.1 283.2 L80.9 272.4 L73.9 255.9 L68.3 237.4" stroke="#ae9874" stroke-width="2.1" opacity="0.8"/>
<path d="M73.8 123.6 L74.1 103.1 L78.1 87.6 L97.3 78.8 L115.7 78.3 L134.3 81.3 L152.2 83.7" stroke="#c9b890" stroke-width="1.9" opacity="0.8"/>
<path d="M208.9 116.8 L226.3 127.8 L236.7 146.1 L238.3 166.3 L236.5 186.6 L221.7 201.8 L207.6 213.6" stroke="#cdbb94" stroke-width="1.6" opacity="0.9"/>
<path d="M322.1 -9.3 L338.6 -2.9 L354.4 5 L371 17 L386.3 26.7 L400.7 36.1 L415 46.5 L429.7 55.3 L445.6 63.8 L461.2 73.2 L474.9 83.8 L486.9 99.6 L496.3 115 L502.8 130.6 L506.5 146.9 L507.7 163.3 L507.4 181.2 L506.8 197.9 L505 216.2 L502.1 237.1 L497.4 253.7 L486.3 265.8 L474.4 276.6 L459.5 286.6 L445.1 296.7 L430.7 306 L415.3 317.7 L403.5 327.6 L389.4 338.4 L374.3 345.9 L358.3 353.6 L341.1 358 L323.9 360.8 L306.9 364.7 L286.8 366.8" stroke="#685538" stroke-width="1.9" opacity="0.5"/>
<path d="M118 36.2 L136.3 35.7 L155 35.8 L171.5 36 L190.6 36.5 L209.4 37.9 L227.3 42.3 L242.2 47.4 L260.2 54.3 L275.5 64.4 L293.6 75.2 L309.9 84.5 L325 91.9 L340.4 103.5 L352.5 118.6 L360.9 135.7 L363.9 154.6 L363.6 171.6" stroke="#756042" stroke-width="1.2" opacity="0.7"/>
<path d="M455.9 190.8 L453.1 211 L448.4 227 L437.3 243.4 L422.1 255.8 L406.8 266.2 L390 277 L376.2 287.2 L360.1 299.4 L345.1 308.7 L326.3 317.3 L309.7 322.8 L289 328.1 L268.9 331.8 L251.5 335.1" stroke="#7a6648" stroke-width="1.7" opacity="0.7"/>
<path d="M204.4 25.9 L220.2 28.1 L237.6 31.2 L255.1 34.7 L270.1 42.4 L284.8 52.3 L300.4 61.9 L316.3 70.4 L331.9 80.4 L348.5 90.4 L363.3 102.6 L373.4 118.1 L381.5 139.1 L383.6 157.7 L383.2 174.8 L381.2 193.4" stroke="#b6a07c" stroke-width="4.1" opacity="0.6"/>
<path d="M165.7 -35.9 L182.3 -36.1 L200.1 -36 L218.4 -36.1 L237.1 -35.1 L255.2 -34.8 L272.3 -33.1 L292.6 -28.6 L310.4 -24.1 L326.5 -19.3 L342.5 -14.5 L358.4 -6.9 L373.5 2.4 L389.3 12.4 L405.3 21.6 L420.7 30.7 L435.6 40.8 L451.4 49.9 L469.5 61.1" stroke="#685538" stroke-width="2.6" opacity="0.5"/>
<path d="M326.5 293 L310.4 300.9 L292.4 307.7 L276.4 312.5 L258.3 316.1 L240.1 320.2 L225.2 322 L207.8 321.5 L189.2 322.9 L171.6 322.8 L153.4 322.1 L134 321.8 L115.7 319.8 L98.8 314.8 L86.4 305.9 L75.7 290.9 L68.9 273.9 L64.8 255.2 L61.7 239 L59.8 221 L58.7 202.7 L59.3 185.6" stroke="#b6a07c" stroke-width="4.1" opacity="0.9"/>
<path d="M74.4 103.1 L85.4 88.5 L106 81.5 L127.9 82.6 L149.2 84.1 L170.7 85.5 L189.9 92.3 L207.9 103.1" stroke="#d3c29c" stroke-width="2.5" opacity="0.6"/>
<path d="M436.3 292.7 L422.6 301.6 L406.2 313.7 L392.3 324.5 L375.3 335.1 L360.7 341.2 L345.1 347.6 L325.5 353.3 L307.9 355.8 L290.1 359.3 L270.1 361.6 L252.4 363.4 L235 363.7 L213.7 363.4 L197.4 362.7 L181.1 364.3 L159.9 363.5 L141.6 363 L122.7 360.4 L104.3 355.2" stroke="#b6a07c" stroke-width="3" opacity="0.8"/>
<path d="M98.4 87.9 L113.1 84 L130 82.4 L146 80.9 L163.3 78.9 L180.6 81.5" stroke="#d6c6a2" stroke-width="1.6" opacity="0.6"/>
<path d="M307.6 264.4 L289.8 275.2 L270.5 282 L251.5 286.1 L233.9 288.3 L215.3 291 L195.1 292.4 L176.2 293 L156.5 293.6" stroke="#d6c6a2" stroke-width="2.2" opacity="0.8"/>
<path d="M216.6 119.7 L234.7 135.8 L239.7 159.7 L239.9 183.8 L225.6 200.8 L207.4 215.7" stroke="#dacaa6" stroke-width="1.7" opacity="0.6"/>
<path d="M328 31 L345.7 38.9 L359.8 47.2 L376 55.8 L393.4 64.8 L412.1 72.7 L430 82.2 L445.5 94.4 L459 109.3 L469.2 125.7 L474.4 140.4 L478.9 159.2 L481.3 177.1 L482 196.4 L483.4 216.7 L481.5 235.5 L473.1 252.1 L464.4 264.6 L450.5 277.7 L438.4 289.3" stroke="#dfd0ac" stroke-width="2.4" opacity="0.6"/>
<path d="M249.2 128.1 L254.1 144.2 L251.8 162 L246.2 180 L235.9 195.2 L219.2 203.5" stroke="#988462" stroke-width="2.4" opacity="0.7"/>
<path d="M145.8 -13.4 L163.2 -13.7 L182.3 -12.5 L201.1 -11.5 L217.9 -11.2 L235.8 -10.3 L254.1 -9.3 L272.2 -6.5 L288 -3.9 L305.9 1.4 L321.3 9.5 L337.5 18.5 L352 28.9 L364.3 36.7 L379.4 47.3 L394.8 56.9 L409.9 66.8 L422.9 75.5 L439 86.8 L450 99.6 L458 114.9 L463.5 133.3 L465.7 148.5 L466.4 166 L465 184.7 L464.1 202.7 L461.7 218" stroke="#988462" stroke-width="1" opacity="0.4"/>
<path d="M196.3 177.5 L181.4 186.6 L166.6 194.1 L150.8 201 L133.5 201.1 L117.4 199.9 L102.7 198.6 L87.9 195.7 L80.5 185.1" stroke="#827050" stroke-width="1.9" opacity="0.5"/>
<path d="M338.7 131.5 L343.7 148.7 L344.3 166.7 L342.6 184.6 L338.9 204.3 L328.9 218.6 L314.4 231.1 L300.3 242.4 L285.1 254.4 L270.9 265.6 L254.6 275.1 L237.9 281 L217.9 284.4 L201 284.9 L180.8 286.8 L163.1 287.3 L142.5 288.9" stroke="#887454" stroke-width="2.1" opacity="0.6"/>
<path d="M62.9 47.4 L61.7 32.6 L73.6 14.3 L88.9 1.9 L109.4 -5.9 L126.4 -9.8 L146.9 -11.1 L164.6 -10.6 L182.6 -9 L202.4 -9.1 L220.8 -8.3 L240.8 -6.4 L259.1 -3.5 L278.5 0.8 L295.1 5.7 L314 13.1" stroke="#988462" stroke-width="2.3" opacity="0.7"/>
<path d="M133.7 136.3 L147 140.6 L157.1 148.1 L162.5 159.2 L163.4 172.5 L157.5 183.2 L151.7 192.7" stroke="#92805e" stroke-width="1.2" opacity="0.6"/>
<path d="M265.9 352.2 L249.8 354.2 L230.7 355.7 L213.8 356.7 L194.3 357.6 L179.1 358.6 L158.4 359.2 L140.4 359 L120.1 357 L101.6 352.6 L88.6 345.9 L76.5 332 L70.2 315.8 L63.8 296.7 L60.5 279.5" stroke="#92805e" stroke-width="1.2" opacity="0.5"/>
<path d="M239.6 -34.5 L257.3 -33.6 L275.2 -33.8 L293.4 -30.7 L310 -28 L327.9 -23.3 L345.6 -17.4 L360.4 -11 L376.6 -2 L392.4 7.3 L407.8 16.5 L423.1 25.3 L439.5 35.1 L454.5 44.1 L471.1 52.6 L487.5 62.1 L502.2 73.2 L514.8 87.5 L526.4 104.8 L533.6 122.4 L537.9 140.9" stroke="#7a6648" stroke-width="1.8" opacity="0.7"/>
<path d="M221.5 200.5 L199.3 211.3 L176 220.1 L151.5 221.6 L130.2 221.6 L108.1 220.1 L88.4 214.4 L77.8 196.7 L75.5 177.2" stroke="#baa480" stroke-width="2.6" opacity="0.7"/>
<path d="M145.7 127 L155.7 132.5 L165.8 140 L170 151.5 L171.6 164.7 L166.9 174.4 L157.4 182.3 L147.9 190.4 L135.3 194.1 L123.1 196.8 L111.4 198" stroke="#685538" stroke-width="1.5" opacity="0.7"/>
<path d="M172.9 369.9 L153.4 367.8 L132.3 366.1 L111.5 361.4 L94.2 352.6 L82.1 341.7 L71.2 324 L65 303.6 L60.3 286.1 L57.7 265.6 L55 245.4 L53.6 226.5" stroke="#b29c76" stroke-width="3" opacity="0.7"/>
<path d="M167.5 291.7 L148.4 292.2 L127.7 293.3 L107.8 291.6 L90.2 284.5 L76.8 272 L71.2 253.7 L67.2 234 L64.5 215" stroke="#756042" stroke-width="2.6" opacity="0.6"/>
<path d="M257.6 380 L248.7 380.5 L236 380.6 L223.2 379.7 L211.3 380.8 L198.4 381.8 L186.6 381.1 L173.1 380.5 L160.5 380.9 L146.9 378.9 L134.2 378.2 L122.2 375.6 L109.6 372.1 L101.4 368.2 L92.1 361.1 L83.3 352.6 L76.9 343.7 L71.2 331.6 L68 320.3 L64 307.7 L61.4 296.5 L59.3 285.4 L57.9 272.9 L56.6 259.8 L54.8 248.2 L53.1 238.9 L50.9 226.9 L49.1 214.7 L50.2 202.4 L53 191.1 L58 179.6 L65.4 168.7" stroke="#92805e" stroke-width="1.7" opacity="0.7"/>
<path d="M65.1 60.8 L62.9 40.2 L70.7 26.6 L85.8 15.2 L103.9 6.6 L122.7 3.9 L144.5 4.2 L162.8 5.9 L181.2 7.5 L200.8 8.6 L217 9.9 L235.7 11.9 L253.5 16 L268.9 21.4" stroke="#c5b28a" stroke-width="1.3" opacity="0.8"/>
<path d="M67.2 123.7 L70.2 103.7 L69.8 82.6 L66 63.3 L71.1 44.5 L88.5 28.9 L107.6 19.8 L130 13.6 L153.1 9.3 L178 6.8" stroke="#cdbb94" stroke-width="2.4" opacity="0.7"/>
<path d="M154.2 1.4 L173.8 1 L193.1 1.1 L211.4 2.4 L229.8 4.1 L248.4 7 L266.1 11.6 L282.5 16.9 L297.9 25 L312.5 34.8 L327.1 46 L340.9 57 L356 68.4 L370.4 78.1 L384.2 87.8 L396.4 100.8 L406.1 115.8" stroke="#aa946c" stroke-width="2.6" opacity="0.7"/>
<path d="M119.9 104.2 L136.8 103.8 L153.8 106.8 L170.5 113.2 L186.5 121.3 L202 129.8 L210.3 146.7 L211.4 165.1 L208.5 183 L196.8 196.5" stroke="#7a6648" stroke-width="1.8" opacity="0.5"/>
<path d="M190.2 296.2 L171.8 296.7 L150.8 297.8 L129.8 297.7 L108.1 294.5 L92.1 287.4 L79.6 274 L72.1 256.1 L68 237.2 L65.2 219.9 L62.5 201.1 L62.9 182.1" stroke="#b6a07c" stroke-width="3.4" opacity="0.7"/>
<path d="M482.6 188.4 L481.1 209.3 L480.2 226.6 L476.8 241.9 L468.2 254.5 L456.7 265.9 L440.5 277.6 L426.8 286.8 L415.7 297.5 L402.2 307.9 L387.6 321.1 L376 330.9 L361.6 339.5 L347.1 345 L328.9 350.9 L314 355.4 L297.8 359.3 L281.4 362 L262.6 363 L246.9 365.3 L230.9 367.3 L213.3 368.4 L192.9 369.2 L174.1 369.3 L155.4 369 L136.7 367.8 L119.3 366.9 L101 360.5 L86.8 350.5" stroke="#aa946c" stroke-width="3" opacity="0.8"/>
<path d="M392.2 205.8 L385 222.5 L369.8 236.1 L352.6 246.9 L338.3 256.6 L322.7 266.9 L307.2 276.8 L292.6 285.7 L275.4 293.1 L256.7 298.2 L240 300.1 L220.4 300.2 L201.6 300.8 L185.7 300.6 L166.7 300.8 L148.3 300.9 L131.4 300.1 L112.8 298.5 L96.8 292.9 L84.3 284.3 L75.9 268.7 L68.9 250.3 L66.9 234 L64.6 217.3" stroke="#685538" stroke-width="1.7" opacity="0.6"/>
<path d="M178.5 86.6 L195 94.9 L211.9 104.1 L228.3 113.7 L243.6 124.1 L254.8 141.4 L257 160.4 L255.5 179.1 L251 196.4 L237.3 208.8 L222.9 219.2 L209.2 230.2 L191.2 237.1" stroke="#e4d8b8" stroke-width="1.7" opacity="0.9"/>
<path d="M480.4 237.6 L466.6 252.6 L449.4 264.1 L429.6 276 L410.9 285.1 L393.5 295 L374.7 307.9 L357.3 316.2 L339.3 323.7 L320.5 328.9" stroke="#b29c76" stroke-width="3.1" opacity="0.6"/>
<path d="M120.4 248.6 L111.5 251 L102.8 250.5 L94.2 249.4 L86.2 245.9 L79.6 240.4 L74.9 230.1 L73.1 221.7 L72.3 211.6 L70.3 202.1 L67.6 192.3 L66.7 180.6 L68.1 169.4 L74.1 160.9" stroke="#7a6648" stroke-width="1.4" opacity="0.5"/>
<path d="M175.4 43.2 L193.6 45.7 L211.2 49.6 L229.7 55.2 L246 64.2 L262 77.2 L278 87 L292.9 96.6 L308 108.4 L319.3 123.3 L324.2 140.9 L326 159.2 L323.4 176.5 L320.4 195 L311.5 210.2 L296.1 221.5" stroke="#aa946c" stroke-width="2.5" opacity="0.8"/>
<path d="M270.6 -9.2 L286.4 -6.3 L302.9 -1.4 L319.7 6.7 L335.5 15.3 L351 24.8 L366 35.7 L381.2 44.6 L397.8 56.3 L412.3 65.2 L427.8 75.9 L440.1 88.6 L451.9 103.3 L459.7 118.3 L464.4 135.3 L466.2 153" stroke="#c9b890" stroke-width="2.1" opacity="0.8"/>
<path d="M522.4 132.7 L524.3 147.9 L523.7 166 L523.2 184 L522 202.9 L521.4 220.6 L519 234.8 L512.3 252.3 L500.7 266.8 L488.1 279.3 L476.8 287.3 L461.8 296.5 L448.1 306.3 L433.3 316.8 L422.4 325 L408.5 335.6 L393.3 345.2 L376.7 352.1 L361.7 357.5 L343.3 361.9 L325 366.3 L305.3 368.8 L287.6 371 L273 373 L255.4 373.8 L238 374.9 L220.3 375.7 L206 377 L186.6 376.7 L168.8 376.6 L147.9 376.1 L132.3 375.5 L114.8 372.2 L99.1 366 L84.9 355.1" stroke="#aa946c" stroke-width="3.2" opacity="0.8"/>
<path d="M119.5 218 L111.2 218.7 L102 218.2 L94.6 219 L88 217.8 L82.6 213.4 L78.1 206.7 L75.4 198.7 L73.7 191.5 L73 182.3 L72.3 173.6 L73 166.1 L77.4 157.9" stroke="#685538" stroke-width="1.8" opacity="0.5"/>
<path d="M466.5 112 L472.5 126.4 L476 142.9 L476.2 159 L474.1 175.9 L471.5 192.2 L469.6 211.4 L464.9 230.1 L457.1 243.2 L443.6 257.8 L430.1 266.7 L413.5 275.5 L397.2 286.8 L384.8 296.6 L370.4 307.4 L356.8 316.4 L341.4 324.7 L325.5 329.9 L308.5 335 L289.2 339 L273.9 340.9 L255.2 342.3 L238.5 343.3 L220.9 344.8 L205.2 344.5 L186.6 345.7 L168.2 345.7 L150.5 346.6 L130.8 347 L115.2 345.7 L98.1 339.4 L86 331.1 L75.4 317 L67.9 299.5 L63.3 284.5 L60.8 265.6 L58.9 250.4 L56.8 232.4 L55 216.6" stroke="#c5b28a" stroke-width="1.3" opacity="0.8"/>
<path d="M259.4 105.9 L273.2 117.2 L283.6 133.5 L285.9 152.5 L285.4 172.1 L282.9 190.5 L271.4 205.2 L254.9 215.2 L238.3 226.7 L222.6 236.9 L204.6 243.4 L186.2 247.2 L168.2 250.3" stroke="#d6c6a2" stroke-width="2.5" opacity="0.8"/>
<path d="M75.8 134.6 L75.6 113.6 L82.8 95.7 L103.8 90.1 L126 90.7 L147.2 92.3 L166.4 97.7" stroke="#c5b28a" stroke-width="2.2" opacity="0.7"/>
<path d="M159.3 110.1 L169 116.9 L180.9 123.9 L190.5 130.3 L199 138.8 L202.3 151.5" stroke="#ae9874" stroke-width="2.6" opacity="0.7"/>
<path d="M67.1 114.3 L71 94.7 L70.5 76.3 L67.4 59.8 L76.5 46.2 L94.2 36.2 L112 31.5 L131.3 30.6 L147.8 32.3 L166.5 34.9 L183.9 36.5 L200.5 39.2 L215.3 42.7" stroke="#7a6648" stroke-width="2.6" opacity="0.4"/>
<path d="M123.9 9.6 L142.2 8.7 L159.7 8.6 L177.9 9.5 L198.4 10.6 L216.5 11.3 L234.2 13.3 L249.8 16.2 L266.9 21.5 L282.3 28.2 L299.4 37.9 L312.7 46.8 L328.4 56.5 L342.5 66.3 L357.3 75.8 L373.3 86.3 L385.2 97.9 L395.4 113.6 L401.4 131.2 L403.1 147.8 L400.8 167.7 L398.9 183.9 L396.6 201 L391.5 217.9 L381.3 231.3 L365 244.1" stroke="#aa946c" stroke-width="3" opacity="0.9"/>
<path d="M67.8 99.7 L70 79 L66.9 61.4 L66.9 45.4 L78.8 31.2 L97.1 21.4 L116.2 16.8 L134.9 17.2 L150.9 18.4 L169.8 20.6 L188.8 22.2 L206.8 24.1 L223.9 25.7 L238.9 29.5 L256.7 35.3 L270.8 43.3 L284.5 53.7 L297.6 64.6 L310.5 74.6" stroke="#756042" stroke-width="2.3" opacity="0.6"/>
<path d="M163.3 111.5 L178.6 119.2 L196.6 126.3 L209 138.2 L215.6 155.1 L218.6 172.6 L213.2 188.8 L201.4 201.2 L188.9 214.3 L173.4 223.3 L155.7 229.6 L137.5 232 L117.7 233.5" stroke="#c9b890" stroke-width="1.3" opacity="0.7"/>
<path d="M101 51.7 L116.4 47.4 L133.7 47.1 L151.1 46.5 L169.3 44.2 L188.4 45.3 L207.8 45.4 L228.2 48.8 L245.7 54.5 L263.2 62.4 L280.7 71.4 L299 80 L319.1 88.1 L339.9 100.2 L357.1 113.6 L369.3 130.2 L376.6 148.8" stroke="#d6c6a2" stroke-width="2.3" opacity="0.7"/>
<path d="M142.8 148.7 L144.9 157.4 L144 166.2 L138.1 171.9 L130.7 177.6 L123.4 180.7 L115 183.4 L106.1 183.5 L96.9 183.6 L88 182.9 L81.7 176.9" stroke="#cdbb94" stroke-width="1.8" opacity="0.9"/>
<path d="M188.6 113.3 L204 117.5 L219.8 120.9 L235.3 129.5 L247.7 141.3 L255.9 153.6" stroke="#c5b28a" stroke-width="2.4" opacity="0.6"/>
<path d="M273.6 350 L265.6 352.9 L255.4 352.8 L244.5 352.4 L236 352 L226.5 352.8 L217.9 354.9 L207 356.8 L196.1 357.5 L188.3 359.2 L177.1 360.9 L165 363 L156.5 363.6 L144.5 364 L133.2 363.8 L123.7 364.5 L112.3 362 L101.3 359.4 L93.7 355.9 L86.3 350.5 L79.1 342 L74.4 335.5 L68.5 324.8 L64.7 313.6 L63.1 304.3 L60 292.3 L58.1 280.6 L57.6 273.4 L56.1 262.4 L54.4 251.8 L52.8 243.1 L51.7 230.7 L51.1 218.8 L51.2 209.7 L51.2 198.5 L54.2 187.2 L57.7 179.3 L65 169.1" stroke="#aa946c" stroke-width="2.4" opacity="0.8"/>
<path d="M156.9 234.6 L147.2 236.1 L137.3 237 L125 237.8 L113.2 238.3 L100.2 236.8 L90.8 233.1 L83.4 226.6 L79.1 214.1 L75.3 202.1 L74 190.7 L71.6 180 L72.3 168.8 L76.5 158.7" stroke="#dacaa6" stroke-width="2.5" opacity="0.9"/>
<path d="M150.1 236.2 L130.9 237.6 L110.1 237.3 L91.1 233.4 L79.1 219.8 L74.2 201.1" stroke="#c9b890" stroke-width="1.5" opacity="0.9"/>
<path d="M424.7 170.5 L422.5 190.3 L419 209.8 L412.1 229.5 L398.4 243.3 L383 253.9 L366.1 264.6 L351.1 276 L334.8 289.6 L319.9 299.6 L299.5 308.2 L282.4 314.3" stroke="#c9b890" stroke-width="2.3" opacity="0.7"/>
<path d="M268.3 103.6 L284.2 114.9 L296.1 132.5 L300 151.9 L299.8 172.5 L297.6 193 L286.5 209 L270 219.4 L253.4 231.8 L236.4 245.3" stroke="#d6c6a2" stroke-width="2.2" opacity="0.9"/>
<path d="M74.4 98.3 L70.6 79 L78.2 64.6 L96.5 52.3 L113.7 47.3 L133.5 46.3 L152.4 46.4 L172 47.9 L190.6 49.3 L211 51.9 L228.9 56.7 L246.4 65.2 L264.6 75.3 L282.3 85.6" stroke="#aa946c" stroke-width="4.4" opacity="0.8"/>
<path d="M255.1 104.9 L268.9 116.5 L278.7 132 L278.9 150.5 L275.2 169.7 L268.6 188.4 L252.6 201 L234.8 209.9 L219 219.5 L202.3 228.3 L182.6 232.2 L163.6 234 L146.4 234.5 L128.6 234.3 L110.4 232.9 L92.7 228.7 L82.4 219.9" stroke="#cdbb94" stroke-width="2.1" opacity="0.9"/>
<path d="M187.5 343.9 L176.8 343.4 L168.7 344.3 L158.1 344 L151.4 343.6 L139.9 344 L131.3 343.4 L120.3 342.2 L114.3 340.6 L104.3 336.9 L97.9 334.3 L89.4 328.4 L84.5 322.8 L78 315.1 L75.1 308 L69.5 298.4 L65.8 292.1 L63.2 282.2 L61.8 275.3 L60.5 265.3 L59.5 256.7 L58.6 246.2 L57.8 239.2 L55.8 228.2 L55.3 219.9 L54.1 209 L54.5 201 L55.7 191.5 L58 184.2 L62.7 174.3 L66.9 167.3" stroke="#6c5a3e" stroke-width="2.3" opacity="0.7"/>
<path d="M202.8 13.3 L220.6 14.4 L237.8 16.7 L254.6 19.3 L271.6 24.7 L287.9 33 L302.3 42 L316.6 51.9 L330.6 59.8 L346.8 68.4 L362.1 77.8 L377.8 87.7 L390.5 101.3 L400.3 115.9 L406.7 132.4 L409.8 149.5 L410.4 166.1 L409.3 184.4 L407.9 202.6 L405.2 219.9 L394.7 234.3 L381.9 245.8 L366.2 255.7 L350.9 265.6 L335.8 277.5 L323.4 287.5 L308.5 297.5 L292.1 304.5 L274.4 309.3 L257.5 313.8 L239.5 315.4 L222.8 316.7" stroke="#b6a07c" stroke-width="2.4" opacity="0.5"/>
<path d="M82.4 138.7 L87.3 134.9 L92.5 134 L98.1 135.7 L103.3 135.8 L107.9 137.1 L112.3 140.1 L116.6 142.7 L118.7 145.9 L120.1 150.9 L117.8 155.5" stroke="#b6a07c" stroke-width="2.7" opacity="0.7"/>
<path d="M517.2 156.5 L517.6 174.3 L516.8 191.7 L515.6 210.1 L513.8 227.7 L510.1 245.1 L502.5 260.1 L490.8 272.6 L477.8 285 L464.7 294.2 L449.7 303.1 L436.7 315 L422.7 325.9 L408.3 336.5 L393 346 L377.7 355.8" stroke="#6c5a3e" stroke-width="2.1" opacity="0.8"/>
<path d="M229 186.1 L211.3 199.3 L193 211 L174.9 221.2 L153 223.7 L131.1 224.4" stroke="#dacaa6" stroke-width="1.7" opacity="0.8"/>
<path d="M144.4 188.1 L135.2 190.8 L124.7 191.7 L114.2 190.7 L103.9 190.9 L93.9 190.5 L85 188.7 L80.2 180.8 L79.3 171.9 L78.8 163.6 L80.9 154.8" stroke="#dacaa6" stroke-width="1.4" opacity="0.7"/>
<path d="M436.8 304.1 L422.2 314.8 L409.6 326.1 L395 336.7 L379.4 345.5 L363.2 352.9 L346.3 359.2 L328.1 363.1 L311.3 366.5 L290.8 369.4 L273.2 370.8 L256.1 372.6 L238.1 374 L221.3 373.7 L204.1 374.2 L185.3 375.2 L166.8 376" stroke="#c5b28a" stroke-width="2.2" opacity="0.6"/>
<path d="M69.4 74.7 L67.5 58.3 L77.3 42.3 L92.7 31.5 L110 26.7 L127.6 24.5 L147.8 26.4 L165.5 28.3 L183.1 27.5 L202 28.7 L219.3 31.6 L235.2 34.8 L250.1 40.6 L266.3 49.8 L280.9 58.7 L295.8 68.2 L310.3 77.8 L326.2 87.3 L340 97.1 L349.7 109.3 L356.8 126.7 L359.1 143.9 L359.1 161.1 L356.4 178.6 L353.3 197.2" stroke="#685538" stroke-width="1" opacity="0.4"/>
<path d="M179.8 244.7 L164.2 247.9 L147.5 250.9 L129.4 252.7 L109.1 253.9 L90.5 250" stroke="#685538" stroke-width="2.3" opacity="0.7"/>
<path d="M105.5 191.5 L97.7 193.6 L90.6 194.4 L83.6 191.7 L80.5 185.4 L78.2 177.7" stroke="#d6c6a2" stroke-width="1.3" opacity="0.8"/>
<path d="M339.3 335 L321.3 340.6 L302.6 344.8 L286.6 348.6 L267.9 350.8 L252.5 352.3 L232.8 354 L218 354.7 L199 354.5 L179.2 354.9 L161.9 355.4 L141 356 L123.3 353.9 L105.4 349.9 L88.9 340.4 L77.3 330.6 L68.5 313.8 L63.3 298.2 L60.6 279.7 L58.3 263.6 L56.4 245.1 L53.9 224.3 L52.6 207.4 L55.4 187.3" stroke="#cdbb94" stroke-width="1.7" opacity="0.9"/>
<path d="M107.4 -24.4 L125.1 -27 L143.9 -29.2 L160.1 -30.2 L177.5 -29.2 L197.5 -27.6 L214.9 -27.2 L236.3 -25.9 L253.5 -24.1 L271 -22.4 L291.1 -20.4 L306.5 -16.3 L323.8 -9 L338.9 -1.2 L353.5 6.9 L369.8 18.2 L383.4 26.4 L400.4 37.2 L414 46.3 L427.3 53.4 L443.5 63.1" stroke="#cdbb94" stroke-width="1.6" opacity="0.8"/>
<path d="M118.6 134.4 L131.6 136.2 L145.3 139.2 L157.2 148.3 L164.7 160.2 L169.1 173.8" stroke="#dfd0ac" stroke-width="1.2" opacity="0.6"/>
<path d="M171.7 310.8 L147.5 309.7 L124.8 307.7 L104.2 303.3 L88.1 292.5 L75.3 274.3 L67.9 251.5" stroke="#827050" stroke-width="1.7" opacity="0.7"/>
<path d="M165.3 206.1 L150.4 209.8 L134.7 211.7 L119.2 210.5 L105 210.6 L90.3 207.5 L82.1 197.1 L78.2 183.4 L75.8 169 L79.3 156.2" stroke="#988462" stroke-width="2.2" opacity="0.7"/>
<path d="M80 125.1 L93.3 117.7 L108.7 115.8 L124.7 116 L139.4 119.5 L153.4 126.8" stroke="#dfd0ac" stroke-width="1.7" opacity="0.9"/>
<path d="M442.7 276.8 L427.4 288.6 L414.5 298 L401.6 310 L388.7 320 L373.8 332 L360.2 339.9 L345.4 347.5 L329.4 354.3 L313 359.2 L294.1 363 L278.5 364.9 L262.3 366.4 L246.4 367 L227.6 368.2 L211.4 369.2 L195.3 370.1 L177.2 370.7 L155.2 370.5 L136.8 369 L119 366.6 L102.7 361.1 L88.7 352.5 L76.3 338.4" stroke="#887454" stroke-width="1.8" opacity="0.6"/>
<path d="M214.4 48.4 L231.8 53.1 L246.9 58.9 L263.5 67.1 L277.7 74 L293 83.2 L309.4 91.4 L325.5 98.9 L339.2 111.7 L349 126.3 L354.2 144.5 L356.3 161.7 L357.4 179.8 L358.2 196.8 L354.2 212.6 L342.3 226.7 L329.3 238.1 L314.4 250 L302.7 259.7 L288.3 271.5 L273.9 280.2 L257.9 287.2 L240.7 291.1 L223.7 296 L204.8 299.6 L187 301.1" stroke="#dacaa6" stroke-width="1.8" opacity="0.8"/>
<path d="M267.8 151.7 L265.7 172.2 L261.7 190.6 L249.2 203.2 L231.8 213.6 L215.7 226.4 L199 234.8 L179.9 239.1" stroke="#e4d8b8" stroke-width="1.9" opacity="0.9"/>
<path d="M126.4 189.8 L117.7 189.8 L109.4 190.8 L99.7 191.3 L90.8 191.8 L84.2 189 L79.6 181.3 L76.8 172.7 L77.3 163 L80.4 155.2" stroke="#7a6648" stroke-width="1.6" opacity="0.4"/>
<path d="M69.6 33.1 L84.6 20.2 L101.2 12.9 L118.4 7.5 L134.9 5.6 L153.4 5.5 L169.6 5.1 L187.4 4.8 L205.7 5.8 L221.7 5.5 L241 7.3 L258 10.1 L274.6 13.9 L292.4 19.9 L307 28.5 L324.3 38.2 L339.6 47.2 L354.3 56 L371.4 65.7 L385.6 74 L402.7 83.9 L415.7 94.6 L426.4 106.9 L435 123.7 L438.5 140.2 L440.5 159.7 L440.1 176.5 L439.3 193.6 L437 213.7" stroke="#988462" stroke-width="2.6" opacity="0.5"/>
<path d="M294.3 115.8 L301.8 135.2 L302.1 155.1 L297.5 174.9 L291.6 195.1 L276.6 210.4 L257.3 220.3 L238.4 230.4 L220.4 240.1 L201.3 245.2" stroke="#b6a07c" stroke-width="3" opacity="0.9"/>
<path d="M243.3 237.4 L227.6 246.4 L208.1 252.5 L189.3 256.7 L169.4 258.3 L150.1 260.2 L129.5 260.5 L108.7 259.6 L92 253.7 L78.8 239.6 L72.3 221.2" stroke="#887454" stroke-width="1.8" opacity="0.6"/>
<path d="M192.3 11.9 L210.9 11.9 L228.8 12.3 L248 15.2 L264.4 18.6 L283.3 22.6 L301.9 30.2 L315.7 38.2 L333 47.3 L350.8 57.6 L369.8 66.9 L385.6 74.5 L402.4 84.9 L419.3 97.2 L430.9 113.4 L438.1 129.6 L442.9 148.5 L444.5 168.1 L446 184 L447.2 204.6 L446 225.2 L438.1 242 L426 255.3" stroke="#aa946c" stroke-width="3.5" opacity="0.6"/>
<path d="M102.5 120.6 L107.7 125.2 L108.8 130.9 L108.3 136.9 L104 143.9 L106.4 145.7" stroke="#d3c29c" stroke-width="2.1" opacity="0.7"/>
<path d="M73.5 124.6 L74.9 105.9 L75.9 88.5 L91.5 77.5 L111.1 73.5 L130.8 74.9 L151 74.5 L169 76.5 L188.1 82.4 L204.9 92 L220.4 102.2 L236.6 111.4 L249.1 121.4 L258.3 138.3 L259.7 158.4" stroke="#a6906e" stroke-width="2.4" opacity="0.9"/>
<path d="M242.6 339.9 L232.5 340.3 L221.8 340.2 L211.2 340.1 L202.2 339.4 L192 338.5 L182.3 338.7 L174 337.4 L163 336.9 L152.3 337.6 L142 337.7 L134.3 338.3 L124.2 337.4 L113.8 335.4 L104.7 331.1 L99.6 327.8 L92.3 320.9 L85.7 313.2 L81.4 306.4 L75.8 296.3 L72.8 286.3 L68.9 275.4 L66.9 269.1 L64.9 258.9 L63.3 248.9 L62.2 241.3 L62 233.4 L60.5 223.4 L59.4 214.1 L59.4 206.7 L58.9 197.4 L59.4 188.6 L61.9 180.1 L63.4 174.2 L69.3 165.2" stroke="#827050" stroke-width="2.4" opacity="0.8"/>
<path d="M154.8 217.3 L140.2 220.6 L123.7 221.9 L105 223.4 L88.2 220.3 L77.4 205.8" stroke="#d6c6a2" stroke-width="2.2" opacity="1"/>
<path d="M316.3 238.9 L303.3 247.3 L291.4 257.2 L279.2 265.5 L266.5 273.5 L250.9 280.2 L235.7 284.8 L220.7 287.7 L206.8 289 L193.7 290.3 L177.1 292.3 L162.9 294.3 L147.6 293.6 L132 292.5 L114.9 291.5 L98.8 287.9 L86.2 279.5 L76.8 267.3 L70.4 250.6 L67.8 237.5 L66 222.3 L64.1 207.7 L61.8 190.9 L64.3 175.9 L72.3 162.5" stroke="#baa480" stroke-width="3.1" opacity="0.8"/>
<path d="M136.6 222.5 L117 222.7 L94 220.6 L79.3 205.3 L74.9 185.1 L74.3 164.5" stroke="#c9b890" stroke-width="1.8" opacity="0.9"/>
<path d="M168.1 181.5 L161 189.4 L155.1 196.9 L146.3 202.4 L135.8 206.7 L124.8 209.3 L113.7 211.1 L99.9 212.5 L87.5 209.9 L79.4 199.2 L75.6 186.3 L74.5 172.2 L78.2 157.2" stroke="#c9b890" stroke-width="2.4" opacity="0.6"/>
<path d="M170.7 232 L145.6 231.5 L123.3 233.2 L99.6 229.9 L82.2 218.7 L75.7 197.2 L73.1 176.3" stroke="#7a6648" stroke-width="2.5" opacity="0.7"/>
<path d="M264.1 -28.6 L280.4 -28.2 L297.2 -24.9 L313.5 -21.4 L329.7 -16.6 L344.5 -9.7 L359.7 -1.4 L377.9 9.2 L391.3 18 L405.3 27.3 L419 36.9 L434.2 45.2 L450.1 53.9 L463.9 63 L476.6 74.8 L487.1 89 L495.9 104.2 L502.1 120.6 L505 136.8 L506.7 155.8 L505.4 173 L505 194.5 L504.4 212.1 L502.4 229.4 L495.3 245.4 L484.8 259.9 L471 270.9 L456.9 281.4 L443.6 291.2 L429 300.8 L417.1 309.8 L403.2 321.5 L389 330.8 L373.6 339.8 L356.9 346.8 L337.5 353.3" stroke="#d3c29c" stroke-width="2.3" opacity="0.9"/>
<path d="M85.7 108.5 L102.1 104.2 L117.2 105.3 L131.9 105.8 L146 110.1 L157.5 118.8 L169.4 127.8 L179.9 136.8 L183 150.9 L179.9 164.7 L171.3 177.2" stroke="#dfd0ac" stroke-width="1.6" opacity="1"/>
<path d="M156.4 83 L175.4 86.7 L192.7 94.1 L210.2 105 L226.5 114.7 L243.7 126.2 L252.9 143.7 L254.5 163.9 L253 181.8 L244.5 198.6 L228.8 209.7 L213.8 221.4" stroke="#d3c29c" stroke-width="1.4" opacity="0.7"/>
<path d="M151.6 98.9 L169.1 107.3 L184.7 119.9 L197.5 130.5 L204.5 146.7 L202.6 165 L195.4 181.4 L179.9 190.7 L164.7 200.8 L147.9 205" stroke="#b6a07c" stroke-width="2.9" opacity="0.9"/>
<path d="M169.3 75.8 L188.1 81.4 L204.7 92.4 L220.5 105.8 L236 116.5 L247.3 133.6" stroke="#d6c6a2" stroke-width="1.5" opacity="0.9"/>
<path d="M448.1 162.6 L446.7 182.1 L444.4 199.6 L441.9 218.3 L435.9 233.5 L423.1 248 L410.2 259.1 L395.3 268 L381.4 276.8 L366.5 286.9 L350 298.7 L335.7 309.1 L321.2 317.4 L304.3 323.3 L286.8 327.1 L266.9 329.6 L248.6 332.2 L231.9 333.1 L215.4 333.9 L196.7 334.3 L179.9 332.9 L163.5 333.7 L144.9 332.8 L125.2 331.4 L105.7 327.1" stroke="#827050" stroke-width="2.1" opacity="0.5"/>
<path d="M124 95.4 L141.9 95 L160.4 99.4 L176.3 105.8 L193.4 115.5 L209.3 123.6 L221.4 137.5 L227.3 155 L227.2 173.5 L220.8 190 L206.3 201.9 L190.9 213.7 L174.6 222.5 L156.5 227.6" stroke="#92805e" stroke-width="1.4" opacity="0.7"/>
<path d="M119.6 -8.7 L137.1 -10.4 L156 -12.8 L171.5 -13.6 L189.7 -13 L208.9 -12.7 L225.9 -14.1 L245.1 -14.4 L265.4 -12.8 L281.7 -9.8 L302.6 -6.6 L320 -0.5 L336.2 4.8 L353.2 13.4 L371.4 23.6 L388.1 33.1 L402.9 41.7 L422.8 52.6 L442.3 61.5 L459.1 70" stroke="#cdbb94" stroke-width="1.5" opacity="1"/>
<path d="M82.1 140.8 L81.4 133.1 L89.1 126.8 L98.5 125.5 L109.4 125.6 L120 125.3" stroke="#ae9874" stroke-width="3.5" opacity="0.6"/>
<path d="M82.2 36.7 L100.5 29.7 L118.2 26.7 L136.7 26.5 L154.3 27.2 L172.1 26.9 L189.3 27.9 L209.2 29.8 L226.6 32.5 L243.7 36.1 L259.1 44.4 L274.6 54 L288.9 63.8 L305.8 75 L320.7 85.1 L335.5 93.3 L348.2 102.7 L358 114.5 L364.1 129.9" stroke="#b29c76" stroke-width="4" opacity="0.5"/>
<path d="M173.4 338.2 L163 337.4 L152.8 336.7 L140.7 338.2 L130.4 338.5 L122.2 337.5 L111.5 335.4 L101.6 331.6 L93.9 326.9 L87 320.6 L80.6 312.9 L74.8 304.5 L69.9 295.3 L66.1 284.9 L63.9 277.6 L62.1 267.6 L59.4 257.5 L57.9 247.7 L57.1 239.1 L56.1 229.8 L55.2 219.9 L54.1 210.7 L54.2 202.3 L54.4 192.5 L56.3 184.2 L61.1 174.7 L68.3 166.1" stroke="#756042" stroke-width="2.2" opacity="0.7"/>
<path d="M276 143.8 L277.5 162.1 L277 177.4 L274.7 194.6 L263.4 208.6 L250.9 219.7 L235.7 232.7 L222.1 244 L205.6 250.9 L187.9 254.7 L170.1 256.7 L152 258.2 L133.7 257.9 L114.4 257.7 L96.5 255.1 L82.7 245.4" stroke="#d6c6a2" stroke-width="2" opacity="0.6"/>
<path d="M385.6 95.4 L395.6 112 L398.8 130.4 L398.7 152.5 L396.2 173.5 L391 195 L383.6 214.7 L370.1 230.2 L350.7 241.2" stroke="#dacaa6" stroke-width="2.6" opacity="0.9"/>
<path d="M137.3 113.5 L144 117.1 L148.3 122.7 L152.9 127.8 L156.3 133 L158.6 137" stroke="#7a6648" stroke-width="2.8" opacity="0.5"/>
<path d="M137 4.7 L153.4 4.7 L170.9 5.2 L186.8 5.2 L203.9 5 L220.1 6.9 L237.7 7.6 L255.8 12.1 L271.7 16.4 L288.8 23 L303.2 30.7 L320.4 40.1 L334.2 49.3 L349.6 59.6 L365.1 67.1 L381.3 77.3 L395.7 87.2 L405.6 100.2 L415.6 115.8 L420.4 131.1 L423.2 148.9 L423.7 165.5 L423.3 184.3 L422.2 201.1 L419.4 219.7 L411.5 233.2 L397.5 246.2 L381.7 257 L367.7 265.9" stroke="#756042" stroke-width="2.1" opacity="0.6"/>
<path d="M295.1 364.9 L274.6 368 L255.6 369.1 L238.4 369.3 L217 371.3 L196.2 373.5 L176.6 374.6 L155 376 L137.3 376 L116.4 373.4 L98.1 366.6" stroke="#d6c6a2" stroke-width="1.6" opacity="1"/>
<path d="M123.9 29.9 L142.6 29.6 L162.2 31.6 L182.4 32.7 L201.4 35.2 L219.9 38.7 L238.5 44.5 L255.2 51.7 L272.5 62.8 L286.4 73.8 L301 83.6 L317 93.6 L330.3 103.5 L340.2 119.8" stroke="#baa480" stroke-width="3.1" opacity="0.7"/>
<path d="M64.2 55.5 L61.9 38.2 L58 17.2 L60.1 3 L71.5 -11.6 L88.5 -23 L106.7 -31.1 L124.4 -35.5 L142.6 -37.6 L161.1 -38.9 L179.6 -38.4 L198.2 -36.7 L215.2 -35.9 L233.9 -34.6 L252 -33.7 L269.8 -33.6 L287.2 -30.8 L303.9 -27.7 L320.2 -23.1 L337.4 -17.4 L353.3 -10.2 L369.3 -1.9 L383.1 8.1 L398.2 17.8 L412.7 25.2 L427.5 34.6" stroke="#ae9874" stroke-width="2.3" opacity="0.9"/>
<path d="M94 16.7 L111.9 11.8 L130.5 9.4 L148.3 8.7 L166.6 9.3 L184.4 9.1 L203.2 9.8 L221.6 9.5 L238.4 11.6 L256.6 15.6 L273.9 21.2 L289.2 29.1 L305.1 36.6 L321.1 47.3 L335.8 56.4 L349.8 65 L364.3 73.8 L380 82.9 L394.9 93.7 L406.2 108.8 L413.7 125.8 L416.7 144.4 L417.4 162 L416 180.7 L414 197.7 L409.9 216.4 L401.4 231.2" stroke="#baa480" stroke-width="4.3" opacity="0.7"/>
<path d="M187.1 17 L203.6 16.8 L223.9 18 L242.6 21.3 L260.8 27 L278.6 34.3 L295.1 44.3 L310.6 53.2 L326.1 63.1 L342.9 72.2 L358.9 80.8" stroke="#baa480" stroke-width="2.8" opacity="0.9"/>
<path d="M117.2 122.3 L128.2 123.3 L138.8 128.8 L150 134.4 L159.8 140.4 L164.7 151.1 L165.7 164.1 L161.5 174.7 L153 183.5 L143.6 190.9" stroke="#dfd0ac" stroke-width="1.9" opacity="0.6"/>
<path d="M429.9 157.3 L429.8 175.5 L429.7 191.9 L426.6 211 L420.6 226.6 L411.9 239.7 L396.5 252.2 L384.1 261.8 L367.8 271.8 L355 282.1 L340.6 293.4 L324.9 302.7 L309.1 311.9 L292.3 317.2 L275.7 322.7 L257.1 325.1 L240.4 328.5 L222.3 330.5 L204.9 330.7 L187.7 331.6 L169.8 332.1 L151.1 334 L133.4 333.9 L116.4 333.5 L98.1 328.1 L85.2 319.5 L73.8 302.5 L68.5 286.7" stroke="#756042" stroke-width="1.7" opacity="0.8"/>
<path d="M191 96.9 L207 108 L221 117.5 L232.2 131.2 L235.8 149.3 L232.9 167.6" stroke="#d3c29c" stroke-width="1.6" opacity="0.8"/>
<path d="M450.3 64.5 L464.6 74.6 L477.3 85.6 L486.9 98.5 L496.6 115.3 L501.4 131 L504 147.8 L505.3 168 L504 185.7 L502.6 203.5 L500.2 222.6 L496.2 238.8 L489 253.3 L475.8 265.3 L460.9 277.6 L446.5 287.2 L432.7 296.6 L416.1 307.9 L403.3 320.6 L389.7 331.8 L375.5 340.9 L356.1 349.1 L339.8 354.5 L322.6 358.9 L302.6 362.6 L285.2 365" stroke="#c5b28a" stroke-width="2.3" opacity="0.9"/>
<path d="M252.4 219.8 L239.2 232.2 L223.2 245.9 L203.6 253.4 L185.9 256.7 L165.9 259.8" stroke="#b6a07c" stroke-width="4.1" opacity="0.7"/>
<path d="M93.5 67.1 L110.8 62.7 L130 61.7 L148.8 62.1 L166.7 62.9 L185.4 63.6 L203.8 67.7 L219.8 76 L236.1 86.7 L250.7 96.6 L267.5 105.6 L281.3 117.4 L291.1 134.3 L294.6 152.5 L293.2 170.3 L289.9 189.9 L281.1 205.3 L266.3 216.9 L250 228.3 L235.9 239" stroke="#baa480" stroke-width="4.1" opacity="0.8"/>
<path d="M300 70 L307.6 84 L315 98.1 L322.1 112.4 L328.7 126.9 L334.7 141.8 L340.5 156.8 L346.3 171.7 L352.7 186.3 L360.1 200.2 L368.8 213.4 L378.6 226 L389.1 238.1 L400 250" stroke="#e2d3ac" stroke-width="1.8" opacity="0.85"/>
<path d="M300 72 L297.9 83.6 L295.7 95.1 L293.3 106.6 L290.5 118.1 L287.3 129.4 L283.6 140.7 L279.2 151.7 L274.2 162.3 L268.5 172.5 L262 182.3 L255 191.7 L247.6 200.9 L240 210" stroke="#e2d3ac" stroke-width="1.8" opacity="0.85"/>
<path d="M370 120 L367 126.7 L364.1 133.4 L361.2 140.2 L358.4 146.9 L355.7 153.7 L353.2 160.6 L350.8 167.5 L348.7 174.5 L346.7 181.5 L344.9 188.6 L343.2 195.7 L341.6 202.8 L340 210" stroke="#e2d3ac" stroke-width="1.8" opacity="0.85"/>
<path d="M130 210 L136.7 215.5 L143.3 221.1 L149.8 226.9 L155.9 232.8 L161.6 239 L166.9 245.5 L171.5 252.4 L175.5 259.7 L179.1 267.4 L182.2 275.3 L184.9 283.4 L187.5 291.7 L190 300" stroke="#e2d3ac" stroke-width="1.8" opacity="0.85"/>
<path d="M210 190 L215.5 201.5 L221.1 212.7 L227.2 223.4 L233.8 233.3 L241.1 242.1 L249.4 249.6 L258.8 255.5 L269.2 260.1 L280.3 263.5 L292.2 265.9 L304.5 267.7 L317.2 268.9 L330 270" stroke="#e2d3ac" stroke-width="1.8" opacity="0.85"/>
<path d="M200 120 L215.3 129.6 L230.8 138.4 L246.8 145.7 L263.3 150.8 L280.6 153.2 L298.3 153.3 L316.2 151.9 L334 149.4 L351.6 146.2 L368.9 142.6 L386 138.6 L403 134.4 L420 130" stroke="#e2d3ac" stroke-width="1.8" opacity="0.85"/></g>
<ellipse cx="290" cy="66" rx="110" ry="20" transform="rotate(10 290 66)" fill="url(#psh)" opacity="0.5"/>
<ellipse cx="104" cy="188" rx="26" ry="34" transform="rotate(25 104 188)" fill="url(#psh)" opacity="0.6"/>
<ellipse cx="330" cy="140" rx="120" ry="26" transform="rotate(4 330 140)" fill="url(#psh)" opacity="0.4"/>
<ellipse cx="300" cy="205" rx="90" ry="22" transform="rotate(-12 300 205)" fill="url(#psh)" opacity="0.3"/>
<ellipse cx="435" cy="118" rx="50" ry="22" transform="rotate(42 435 118)" fill="url(#psh)" opacity="0.3"/>
<ellipse cx="470" cy="235" rx="36" ry="60" transform="rotate(30 470 235)" fill="url(#psh)" opacity="0.2"/>
<ellipse cx="220" cy="310" rx="140" ry="16" transform="rotate(-4 220 310)" fill="url(#psh)" opacity="0.2"/>
<ellipse cx="120" cy="40" rx="50" ry="14" transform="rotate(-30 120 40)" fill="url(#psh)" opacity="0.2"/>
<ellipse cx="380" cy="62" rx="70" ry="14" transform="rotate(25 380 62)" fill="url(#psh)" opacity="0.3"/>
<ellipse cx="200" cy="150" rx="70" ry="16" transform="rotate(-8 200 150)" fill="url(#psh)" opacity="0.3"/>
</g>
</g>
<path d="M412.8 984.5 V943.6 M412.8 56.4 V96.3 M537.1 984.5 V943.6 M537.1 56.4 V96.3 M661.4 984.5 V943.6 M661.4 56.4 V96.3 M785.7 984.5 V943.6 M785.7 56.4 V96.3 M910 984.5 V943.6 M910 56.4 V96.3 M1034.3 984.5 V943.6 M1034.3 56.4 V96.3 M1158.6 984.5 V943.6 M1158.6 56.4 V96.3 M1282.9 984.5 V943.6 M1282.9 56.4 V96.3 M1407.2 984.5 V943.6 M1407.2 56.4 V96.3 M1531.5 984.5 V943.6 M1531.5 56.4 V96.3 M1655.8 984.5 V943.6 M1655.8 56.4 V96.3 M1780.1 984.5 V943.6 M1780.1 56.4 V96.3 M1904.4 984.5 V943.6 M1904.4 56.4 V96.3 M2028.7 984.5 V943.6 M2028.7 56.4 V96.3 M288.5 891.7 H331.4 M2153.6 891.7 H2109.7 M288.5 798.9 H331.4 M2153.6 798.9 H2109.7 M288.5 706.1 H331.4 M2153.6 706.1 H2109.7 M288.5 613.3 H331.4 M2153.6 613.3 H2109.7 M288.5 520.5 H331.4 M2153.6 520.5 H2109.7 M288.5 427.6 H331.4 M2153.6 427.6 H2109.7 M288.5 334.8 H331.4 M2153.6 334.8 H2109.7 M288.5 242 H331.4 M2153.6 242 H2109.7 M288.5 149.2 H331.4 M2153.6 149.2 H2109.7" stroke="#000" stroke-width="8.3" fill="none"/>
<g fill="none" stroke-linejoin="round" stroke-linecap="butt">
<path d="M2113 150 L2115.5 167.8 L2116.2 500 L2117 980" stroke="#ff00ff" stroke-width="10.5" stroke-linecap="round"/><path d="M289 952 L291.5 952 L294 952 L296.5 952 L299 951.9 L301.5 951.9 L304 951.8 L306.5 951.8 L309 951.7 L311.5 951.7 L314 951.6 L316.5 951.5 L319 951.4 L321.5 951.3 L324 951.2 L326.5 951.1 L329 951 L331.5 950.9 L334 950.8 L336.5 950.7 L339 950.6 L341.5 950.5 L344 950.3 L346.5 950.2 L349 950.1 L351.5 949.8 L354 949.9 L356.5 949.3 L359 949.4 L361.5 948.7 L364 948.9 L366.5 947.7 L369 947.9 L371.5 946.4 L374 946.8 L376.5 945.4 L379 946 L381.5 944.5 L384 945.2 L386.5 943.2 L389 944 L391.5 942 L394 943.3 L396.5 941.5 L399 942.6 L401.5 940.7 L404 941.4 L406.5 939.8 L409 940.7 L411.5 938.9 L414 939.7 L416.5 937.6 L419 938.1 L421.5 936.1 L424 936.7 L426.5 934.9 L429 935.9 L431.5 934 L434 934.9 L436.5 933 L439 933.9 L441.5 931.9 L444 932.8 L446.5 931.2 L449 932 L451.5 929.9 L454 930.8 L456.5 928.9 L459 929.7 L461.5 927.6 L464 928.7 L466.5 926.6 L469 927.2 L471.5 925.1 L474 925.9 L476.5 923.8 L479 925.1 L481.5 922.7 L484 923.8 L486.5 921.6 L489 922.5 L491.5 920.7 L494 921.5 L496.5 919.2 L499 919.9 L501.5 917.4 L504 918.4 L506.5 916.3 L509 917.1 L511.5 915.5 L514 916 L516.5 913.9 L519 914.9 L521.5 912.8 L524 913.5 L526.5 911.6 L529 912.2 L531.5 909.9 L534 910.4 L536.5 908.6 L539 909.6 L541.5 907.5 L544 908.5 L546.5 906.6 L549 907.5 L551.5 905.6 L554 906.6 L556.5 904.5 L559 905 L561.5 903 L564 903.7 L566.5 901.5 L569 902.1 L571.5 900.2 L574 900.9 L576.5 898.7 L579 899.3 L581.5 897.5 L584 898.3 L586.5 896.2 L589 897 L591.5 895.2 L594 896 L596.5 893.9 L599 894.9 L601.5 893.4 L604 894.5 L606.5 892.5 L609 893.3 L611.5 891.3 L614 892.4 L616.5 890.2 L619 891 L621.5 889.2 L624 889.8 L626.5 887.3 L629 888.3 L631.5 886 L634 886.8 L636.5 884.6 L639 885.6 L641.5 883.6 L644 884.2 L646.5 882.2 L649 883.2 L651.5 881.3 L654 882.3 L656.5 880.4 L659 881.3 L661.5 879 L664 879.6 L666.5 877.6 L669 878.7 L671.5 876.4 L674 877.2 L676.5 874.9 L679 875.9 L681.5 873.6 L684 874.3 L686.5 872.8 L689 873.5 L691.5 871 L694 871.8 L696.5 869.5 L699 870.3 L701.5 868 L704 868.4 L706.5 866.2 L709 866.5 L711.5 864.3 L714 865.2 L716.5 863.1 L719 863.9 L721.5 861.5 L724 862.1 L726.5 860.6 L729 861.5 L731.5 859.3 L734 860 L736.5 858 L739 858.5 L741.5 856.1 L744 857.1 L746.5 854.8 L749 855.2 L751.5 853 L754 853.4 L756.5 851.5 L759 851.7 L761.5 849.7 L764 850.2 L766.5 848.2 L769 848.5 L771.5 846.5 L774 847.2 L776.5 845 L779 845.6 L781.5 843.5 L784 844.5 L786.5 842.6 L789 843.5 L791.5 841.4 L794 842.2 L796.5 840.1 L799 840.9 L801.5 839.1 L804 839.7 L806.5 837.5 L809 838 L811.5 835.9 L814 836.6 L816.5 834.4 L819 835 L821.5 833.1 L824 833.7 L826.5 831.9 L829 832.5 L831.5 830.1 L834 830.7 L836.5 828.8 L839 829.7 L841.5 827.7 L844 828.4 L846.5 826.3 L849 826.9 L851.5 824.9 L854 826.1 L856.5 823.6 L859 824.5 L861.5 822.2 L864 822.8 L866.5 820.7 L869 821.5 L871.5 819.2 L874 819.9 L876.5 817.9 L879 818.8 L881.5 816.4 L884 817.2 L886.5 815.2 L889 815.6 L891.5 813.6 L894 814.3 L896.5 812 L899 812.4 L901.5 810.2 L904 810.7 L906.5 808.4 L909 808.9 L911.5 806.9 L914 807.4 L916.5 805.3 L919 806.1 L921.5 804.1 L924 804.8 L926.5 802.5 L929 803.2 L931.5 801 L934 801.7 L936.5 799.6 L939 799.7 L941.5 797.1 L944 797.6 L946.5 795.3 L949 795.9 L951.5 793.7 L954 794.3 L956.5 791.8 L959 792 L961.5 790.1 L964 790.5 L966.5 788.2 L969 788.4 L971.5 786.1 L974 786.6 L976.5 784.1 L979 784.4 L981.5 782.1 L984 782.3 L986.5 780 L989 780.4 L991.5 778.3 L994 778.6 L996.5 776.4 L999 777.1 L1001.5 774.7 L1004 775.2 L1006.5 773.1 L1009 773.9 L1011.5 771.3 L1014 771.7 L1016.5 769.3 L1019 769.7 L1021.5 767 L1024 767.6 L1026.5 765 L1029 765.6 L1031.5 762.8 L1034 763.3 L1036.5 761 L1039 761.3 L1041.5 759.2 L1044 759.7 L1046.5 757.3 L1049 757.9 L1051.5 755.3 L1054 755.7 L1056.5 753.3 L1059 753.5 L1061.5 751.1 L1064 751.2 L1066.5 748.5 L1069 748.5 L1071.5 745.6 L1074 746 L1076.5 743.5 L1079 743.8 L1081.5 741.2 L1084 741.5 L1086.5 738.9 L1089 739.3 L1091.5 736.7 L1094 737 L1096.5 734.2 L1099 735 L1101.5 732.4 L1104 732.7 L1106.5 730 L1109 730.5 L1111.5 728.3 L1114 728.7 L1116.5 726.6 L1119 727.2 L1121.5 724.6 L1124 725 L1126.5 722.3 L1129 722.8 L1131.5 720.2 L1134 720.5 L1136.5 718.1 L1139 718.4 L1141.5 715.5 L1144 715.6 L1146.5 713.2 L1149 713.4 L1151.5 710.7 L1154 711.1 L1156.5 708.1 L1159 708.4 L1161.5 706 L1164 706.5 L1166.5 704 L1169 703.8 L1171.5 701.3 L1174 701.7 L1176.5 699.2 L1179 699.5 L1181.5 696.9 L1184 696.8 L1186.5 694 L1189 694.1 L1191.5 691.5 L1194 691.5 L1196.5 688.5 L1199 688.9 L1201.5 686.2 L1204 686.3 L1206.5 683.7 L1209 684.2 L1211.5 681.5 L1214 681.8 L1216.5 679.6 L1219 679.9 L1221.5 676.8 L1224 677.1 L1226.5 674.1 L1229 674.2 L1231.5 671.1 L1234 671.2 L1236.5 668.4 L1239 668.3 L1241.5 665.9 L1244 666.2 L1246.5 663.6 L1249 664 L1251.5 660.9 L1254 661.5 L1256.5 658.8 L1259 659.1 L1261.5 656.5 L1264 656.6 L1266.5 653.8 L1269 654.2 L1271.5 651.4 L1274 651.8 L1276.5 649.6 L1279 650.1 L1281.5 647.4 L1284 647.6 L1286.5 645.3 L1289 645.7 L1291.5 643 L1294 643.1 L1296.5 640.6 L1299 640.4 L1301.5 637.4 L1304 638 L1306.5 635.2 L1309 635 L1311.5 632.1 L1314 632.3 L1316.5 629.5 L1319 629.8 L1321.5 627.3 L1324 627.5 L1326.5 624.9 L1329 625.2 L1331.5 622.6 L1334 622.8 L1336.5 620.2 L1339 620.4 L1341.5 617.6 L1344 617.7 L1346.5 615 L1349 614.9 L1351.5 612.1 L1354 612.2 L1356.5 609.6 L1359 609.6 L1361.5 606.9 L1364 607.1 L1366.5 604 L1369 603.9 L1371.5 601 L1374 601.2 L1376.5 598.8 L1379 598.8 L1381.5 596 L1384 595.9 L1386.5 593.6 L1389 594 L1391.5 591.4 L1394 591.8 L1396.5 589.4 L1399 589.6 L1401.5 586.9 L1404 587.3 L1406.5 584.7 L1409 584.5 L1411.5 581.6 L1414 581.8 L1416.5 578.8 L1419 578.7 L1421.5 575.8 L1424 576.2 L1426.5 573.4 L1429 573.4 L1431.5 570.7 L1434 571 L1436.5 568.4 L1439 568.5 L1441.5 565.7 L1444 565.5 L1446.5 562.4 L1449 562.6 L1451.5 559.9 L1454 559.8 L1456.5 556.9 L1459 556.8 L1461.5 554.2 L1464 554.2 L1466.5 551.7 L1469 551.7 L1471.5 548.6 L1474 548.8 L1476.5 545.9 L1479 546 L1481.5 543.2 L1484 543.1 L1486.5 540.4 L1489 540.3 L1491.5 537.8 L1494 537.9 L1496.5 534.6 L1499 534.9 L1501.5 532.1 L1504 532 L1506.5 529.3 L1509 529.5 L1511.5 526.7 L1514 526.7 L1516.5 524.1 L1519 524.5 L1521.5 521.8 L1524 522.1 L1526.5 519.4 L1529 519.3 L1531.5 516.5 L1534 516.1 L1536.5 513.4 L1539 513.1 L1541.5 510.1 L1544 509.8 L1546.5 506.6 L1549 506.6 L1551.5 503.9 L1554 503.8 L1556.5 501.1 L1559 501 L1561.5 498.2 L1564 498.2 L1566.5 495.5 L1569 495.6 L1571.5 493 L1574 492.9 L1576.5 489.7 L1579 489.4 L1581.5 486.4 L1584 486.3 L1586.5 483.5 L1589 483.5 L1591.5 480.4 L1594 480.1 L1596.5 477.4 L1599 477.5 L1601.5 474.6 L1604 474.6 L1606.5 471.9 L1609 471.7 L1611.5 469.1 L1614 469.2 L1616.5 466.5 L1619 466.3 L1621.5 463.5 L1624 463.3 L1626.5 460.5 L1629 460.2 L1631.5 457.3 L1634 457.1 L1636.5 453.9 L1639 453.6 L1641.5 450.5 L1644 450.4 L1646.5 447.6 L1649 447.7 L1651.5 444.8 L1654 444.7 L1656.5 441.3 L1659 441.1 L1661.5 438.3 L1664 437.7 L1666.5 434.6 L1669 434.5 L1671.5 431.5 L1674 430.9 L1676.5 428.2 L1679 428.3 L1681.5 425.3 L1684 425 L1686.5 422.3 L1689 421.9 L1691.5 419 L1694 418.6 L1696.5 415.7 L1699 415.2 L1701.5 412.3 L1704 412.1 L1706.5 409.2 L1709 408.9 L1711.5 406.4 L1714 406 L1716.5 403.2 L1719 403.1 L1721.5 399.9 L1724 399.7 L1726.5 396.9 L1729 396.7 L1731.5 393.7 L1734 393.1 L1736.5 390.1 L1739 389.7 L1741.5 386.6 L1744 386.5 L1746.5 383.6 L1749 383.2 L1751.5 380.2 L1754 380.1 L1756.5 376.7 L1759 376.5 L1761.5 373.1 L1764 373 L1766.5 369.7 L1769 369.6 L1771.5 366.4 L1774 366.1 L1776.5 363.2 L1779 363 L1781.5 360.1 L1784 360.1 L1786.5 356.8 L1789 356.6 L1791.5 353.3 L1794 353.2 L1796.5 349.8 L1799 349.2 L1801.5 346.2 L1804 345.9 L1806.5 342.9 L1809 342.7 L1811.5 339.7 L1814 339.2 L1816.5 335.9 L1819 335.8 L1821.5 332.7 L1824 332.4 L1826.5 329 L1829 328.4 L1831.5 325.4 L1834 325.1 L1836.5 322.2 L1839 321.6 L1841.5 318.5 L1844 318.2 L1846.5 315.3 L1849 315.2 L1851.5 312.2 L1854 311.5 L1856.5 308.3 L1859 308.1 L1861.5 305.1 L1864 305 L1866.5 301.6 L1869 300.8 L1871.5 297.9 L1874 297.4 L1876.5 294.3 L1879 293.8 L1881.5 290.4 L1884 290 L1886.5 286.6 L1889 286 L1891.5 282.8 L1894 282.3 L1896.5 279.1 L1899 278.6 L1901.5 275.2 L1904 274.7 L1906.5 271.2 L1909 270.5 L1911.5 267.2 L1914 267.1 L1916.5 264 L1919 264 L1921.5 260.8 L1924 260.5 L1926.5 257.5 L1929 257.4 L1931.5 254.4 L1934 254.4 L1936.5 251.4 L1939 250.7 L1941.5 247.2 L1944 247 L1946.5 244.2 L1949 243.5 L1951.5 240.3 L1954 240.1 L1956.5 236.8 L1959 236.5 L1961.5 233.7 L1964 233.7 L1966.5 230.4 L1969 229.9 L1971.5 227.1 L1974 227 L1976.5 223.6 L1979 223.2 L1981.5 220.5 L1984 220.5 L1986.5 217 L1989 217.4 L1991.5 214.4 L1994 214.3 L1996.5 211.5 L1999 211.7 L2001.5 208.9 L2004 208.5 L2006.5 205.4 L2009 205.5 L2011.5 201.8 L2014 202.3 L2016.5 199.6 L2019 199.5 L2021.5 196.6 L2024 196.7 L2026.5 194.5 L2029 194.9 L2031.5 192.4 L2034 192.9 L2036.5 190 L2039 190 L2041.5 187 L2044 187.5 L2046.5 184.6 L2049 184.6 L2051.5 181.9 L2054 182.2 L2056.5 179.9 L2059 180 L2061.5 177.7 L2064 178 L2064.8 176.2 L2065.6 178.7 L2066.4 181.1 L2067.2 183.5 L2068 186 L2068.8 188.4 L2069.6 190.8 L2070.4 193.3 L2071.2 195.7 L2072.9 193.1 L2074.7 192.5 L2076.4 189 L2078.1 188.5 L2079.8 185.2 L2081.6 184.5 L2083.3 181.3 L2085 180.5 L2086.7 177.3 L2088.5 176.6 L2090.2 174 L2092 171.5 L2093.7 171.1 L2095.5 167.7 L2097.2 167.2 L2099 164.1 L2100.7 163.6 L2102.5 160.5 L2104.2 160 L2106 156.7 L2107.7 156.2 L2109.5 153.1 L2111.2 152.6 L2113 150" stroke="#ff00ff" stroke-width="9.2"/>
<path d="M1959 202 L1960.5 240 L1962 600 L1964.5 980" stroke="#cc00ff" stroke-width="9.5" stroke-linecap="round"/><path d="M289 951 L291.5 951 L294 951 L296.5 951 L299 950.9 L301.5 950.9 L304 950.9 L306.5 950.8 L309 950.7 L311.5 950.7 L314 950.6 L316.5 950.5 L319 950.4 L321.5 950.4 L324 950.3 L326.5 950.2 L329 950 L331.5 949.9 L334 949.8 L336.5 949.7 L339 949.6 L341.5 949.5 L344 949.3 L346.5 949.2 L349 949.2 L351.5 948.8 L354 949 L356.5 948.3 L359 948.8 L361.5 947.6 L364 948.2 L366.5 946.8 L369 947.3 L371.5 945.7 L374 946.4 L376.5 944.5 L379 945.6 L381.5 943.1 L384 944.8 L386.5 942.3 L389 943.6 L391.5 941.4 L394 943 L396.5 940.3 L399 941.4 L401.5 939 L404 940.1 L406.5 937.5 L409 938.5 L411.5 936.3 L414 937.4 L416.5 935 L419 936.3 L421.5 933.7 L424 935.3 L426.5 933 L429 934.1 L431.5 931.9 L434 933.1 L436.5 930.6 L439 931.6 L441.5 929.3 L444 930.7 L446.5 928.1 L449 929.4 L451.5 926.9 L454 927.8 L456.5 925.3 L459 926.4 L461.5 924.3 L464 925.7 L466.5 923.2 L469 924.4 L471.5 921.8 L474 923 L476.5 921 L479 922.3 L481.5 919.8 L484 921.1 L486.5 918.3 L489 919.7 L491.5 917.2 L494 918.5 L496.5 915.9 L499 916.9 L501.5 914.2 L504 915.6 L506.5 912.8 L509 914 L511.5 911.7 L514 912.8 L516.5 910.2 L519 911.6 L521.5 909.2 L524 910.7 L526.5 908.1 L529 909.3 L531.5 907.1 L534 908.1 L536.5 905.6 L539 906.7 L541.5 904 L544 904.9 L546.5 901.8 L549 902.8 L551.5 900.2 L554 901.1 L556.5 898.6 L559 899.9 L561.5 897.1 L564 898.5 L566.5 895.7 L569 897.1 L571.5 894.3 L574 895.4 L576.5 892.8 L579 894 L581.5 890.9 L584 891.7 L586.5 889.1 L589 890.1 L591.5 887.7 L594 888.9 L596.5 886.3 L599 887.2 L601.5 884 L604 885.1 L606.5 882.4 L609 883.3 L611.5 880.5 L614 881.3 L616.5 878.3 L619 879.5 L621.5 876.9 L624 878 L626.5 875.3 L629 876.2 L631.5 873.5 L634 874.3 L636.5 871.4 L639 872.2 L641.5 869.3 L644 870.7 L646.5 867.8 L649 869.2 L651.5 866.4 L654 867.4 L656.5 864.7 L659 865.9 L661.5 863.2 L664 864.6 L666.5 861.1 L669 862.6 L671.5 859.6 L674 860.7 L676.5 858.2 L679 859.4 L681.5 856.7 L684 857.8 L686.5 855.1 L689 856.1 L691.5 853.6 L694 854.9 L696.5 852.3 L699 853.7 L701.5 850.7 L704 851.7 L706.5 848.7 L709 849.6 L711.5 847.5 L714 848.1 L716.5 845.2 L719 845.8 L721.5 843 L724 844.3 L726.5 841.5 L729 842.7 L731.5 840.2 L734 841 L736.5 838.3 L739 839.5 L741.5 837.1 L744 838.4 L746.5 835.8 L749 837 L751.5 834.4 L754 835.4 L756.5 832.7 L759 834.2 L761.5 831.9 L764 832.7 L766.5 829.9 L769 831.1 L771.5 828.7 L774 829.6 L776.5 827.1 L779 828.2 L781.5 825.4 L784 826.3 L786.5 823.5 L789 824.3 L791.5 821.3 L794 822 L796.5 819.6 L799 821 L801.5 818.4 L804 819.6 L806.5 816.9 L809 817.9 L811.5 815.3 L814 816.6 L816.5 813.7 L819 814.7 L821.5 811.8 L824 812.4 L826.5 809.6 L829 810.8 L831.5 808.2 L834 809.2 L836.5 806.4 L839 807.6 L841.5 805 L844 805.9 L846.5 803.1 L849 804.3 L851.5 801.8 L854 802.8 L856.5 799.8 L859 800.8 L861.5 797.9 L864 799 L866.5 796.3 L869 797.3 L871.5 794.5 L874 795.5 L876.5 792.4 L879 794 L881.5 791.3 L884 792.2 L886.5 789.6 L889 790.6 L891.5 788 L894 789 L896.5 786 L899 787.1 L901.5 784 L904 784.9 L906.5 782.2 L909 783 L911.5 780.4 L914 780.6 L916.5 778 L919 778.8 L921.5 776.1 L924 777.2 L926.5 774.4 L929 775.3 L931.5 772.6 L934 773.5 L936.5 771.1 L939 772.1 L941.5 769.2 L944 770.5 L946.5 767.4 L949 768.4 L951.5 765.6 L954 766.5 L956.5 763.6 L959 764.7 L961.5 762.2 L964 763.3 L966.5 760.1 L969 761 L971.5 758.1 L974 759.2 L976.5 756.2 L979 757.3 L981.5 754.5 L984 755.4 L986.5 752.6 L989 754 L991.5 751 L994 752 L996.5 748.9 L999 749.7 L1001.5 746.6 L1004 747.3 L1006.5 744.5 L1009 745.4 L1011.5 742 L1014 742.5 L1016.5 739.6 L1019 740.1 L1021.5 737.5 L1024 738.6 L1026.5 736 L1029 737.1 L1031.5 734 L1034 735 L1036.5 731.5 L1039 732.4 L1041.5 729.5 L1044 730.5 L1046.5 727.3 L1049 727.8 L1051.5 724.6 L1054 725.8 L1056.5 723 L1059 723.9 L1061.5 720.9 L1064 721.7 L1066.5 718.8 L1069 719.6 L1071.5 716.6 L1074 717.2 L1076.5 714 L1079 714.4 L1081.5 711.7 L1084 712.3 L1086.5 709.4 L1089 709.9 L1091.5 706.8 L1094 707.6 L1096.5 704.6 L1099 705.1 L1101.5 702 L1104 702.8 L1106.5 699.6 L1109 700.5 L1111.5 697.4 L1114 697.7 L1116.5 694.6 L1119 695.3 L1121.5 692.2 L1124 692.9 L1126.5 689.5 L1129 690 L1131.5 686.9 L1134 687.5 L1136.5 684.1 L1139 684.8 L1141.5 681.7 L1144 682.4 L1146.5 679.1 L1149 679.9 L1151.5 676.7 L1154 677.5 L1156.5 674.5 L1159 675.4 L1161.5 672 L1164 672.5 L1166.5 669.3 L1169 670 L1171.5 666.6 L1174 667.4 L1176.5 664 L1179 665.1 L1181.5 661.6 L1184 662.4 L1186.5 659.4 L1189 659.6 L1191.5 656.5 L1194 657 L1196.5 654 L1199 654.6 L1201.5 651 L1204 651.6 L1206.5 648.2 L1209 648.6 L1211.5 645.6 L1214 646.2 L1216.5 642.9 L1219 643.4 L1221.5 640.5 L1224 641.3 L1226.5 638.1 L1229 638.8 L1231.5 635.6 L1234 636.5 L1236.5 633.4 L1239 634.1 L1241.5 630.7 L1244 631.1 L1246.5 627.8 L1249 628.3 L1251.5 624.7 L1254 624.9 L1256.5 621.4 L1259 621.5 L1261.5 618 L1264 618.5 L1266.5 615 L1269 615.7 L1271.5 612.5 L1274 613.2 L1276.5 610.3 L1279 611.2 L1281.5 607.9 L1284 608.6 L1286.5 605.4 L1289 606.2 L1291.5 602.8 L1294 603.2 L1296.5 599.8 L1299 600 L1301.5 596.1 L1304 596.8 L1306.5 593.2 L1309 593.5 L1311.5 590.3 L1314 590.5 L1316.5 587.4 L1319 587.6 L1321.5 584.3 L1324 584.8 L1326.5 581.5 L1329 582.1 L1331.5 579.1 L1334 579.6 L1336.5 576.2 L1339 576.6 L1341.5 573.6 L1344 574.2 L1346.5 570.9 L1349 571.5 L1351.5 568.3 L1354 568.8 L1356.5 565.6 L1359 566.2 L1361.5 562.8 L1364 563.2 L1366.5 560 L1369 560.5 L1371.5 557.1 L1374 557.7 L1376.5 554.1 L1379 554.5 L1381.5 550.9 L1384 551.3 L1386.5 547.7 L1389 547.9 L1391.5 544.8 L1394 545.1 L1396.5 541.4 L1399 542.3 L1401.5 538.4 L1404 539.2 L1406.5 535.6 L1409 535.7 L1411.5 532.4 L1414 532.5 L1416.5 528.8 L1419 529.1 L1421.5 525.6 L1424 526.3 L1426.5 522.3 L1429 522.8 L1431.5 519.5 L1434 520.2 L1436.5 516.8 L1439 517.1 L1441.5 514 L1444 514.2 L1446.5 510.4 L1449 511.1 L1451.5 507.2 L1454 507.5 L1456.5 503.9 L1459 504 L1461.5 500.3 L1464 500.5 L1466.5 496.6 L1469 497 L1471.5 493.1 L1474 493.5 L1476.5 490.2 L1479 490.2 L1481.5 486.6 L1484 487 L1486.5 483.6 L1489 483.9 L1491.5 480.7 L1494 480.9 L1496.5 477.4 L1499 477.7 L1501.5 474.2 L1504 474.4 L1506.5 470.6 L1509 470.9 L1511.5 467.4 L1514 467.6 L1516.5 464.1 L1519 464.3 L1521.5 460.8 L1524 460.9 L1526.5 457.8 L1529 457.9 L1531.5 454.5 L1534 454.5 L1536.5 450.8 L1539 451.2 L1541.5 447.3 L1544 447.9 L1546.5 444.5 L1549 444.7 L1551.5 441.3 L1554 441.6 L1556.5 438.1 L1559 438.5 L1561.5 434.9 L1564 435.7 L1566.5 431.9 L1569 432 L1571.5 428.6 L1574 428.7 L1576.5 425.2 L1579 424.8 L1581.5 421.5 L1584 421.8 L1586.5 418 L1589 418.5 L1591.5 415.6 L1594 415.7 L1596.5 412.4 L1599 412.9 L1601.5 409.7 L1604 410.1 L1606.5 406.6 L1609 406.7 L1611.5 403.5 L1614 403.5 L1616.5 400.1 L1619 400.6 L1621.5 397.1 L1624 397.5 L1626.5 393.8 L1629 394.5 L1631.5 391.1 L1634 391.5 L1636.5 388.4 L1639 388.9 L1641.5 385.4 L1644 386 L1646.5 382.7 L1649 383.4 L1651.5 379.7 L1654 380.3 L1656.5 377 L1659 377.6 L1661.5 374.1 L1664 374.8 L1666.5 371.3 L1669 371.8 L1671.5 368.4 L1674 368.7 L1676.5 365.4 L1679 365.5 L1681.5 362 L1684 362.3 L1686.5 359 L1689 359.2 L1691.5 355.9 L1694 355.7 L1696.5 352.4 L1699 352.9 L1701.5 349.6 L1704 350.2 L1706.5 346.6 L1709 346.7 L1711.5 343.3 L1714 343.6 L1716.5 340.6 L1719 341.2 L1721.5 337.4 L1724 337.7 L1726.5 334.1 L1729 334.2 L1731.5 331.3 L1734 331.6 L1736.5 328.1 L1739 328.1 L1741.5 324.6 L1744 324.9 L1746.5 321.6 L1749 321.7 L1751.5 317.9 L1754 317.9 L1756.5 314.3 L1759 314.4 L1761.5 310.7 L1764 310.4 L1766.5 306.5 L1769 306.6 L1771.5 303.2 L1774 303.5 L1776.5 299.6 L1779 299.7 L1781.5 295.8 L1784 296.1 L1786.5 292.2 L1789 292.4 L1791.5 288.8 L1794 288.6 L1796.5 284.9 L1799 285 L1801.5 281.5 L1804 281.6 L1806.5 277.5 L1809 277.9 L1811.5 274.1 L1814 273.7 L1816.5 270.3 L1819 270.5 L1821.5 266.7 L1824 267.2 L1826.5 263.6 L1829 264.4 L1831.5 260.5 L1834 260.8 L1836.5 257 L1839 257.2 L1841.5 253.7 L1844 253.8 L1846.5 249.7 L1848 250.5 L1848.9 253.1 L1849.8 255.6 L1850.7 258.2 L1851.6 260.7 L1852.4 263.3 L1853.3 265.8 L1854.2 268.4 L1855.1 270.9 L1856 273.5 L1857.4 270.3 L1858.8 269.9 L1860.1 265.7 L1861.5 265.1 L1862.9 261 L1864.2 260.6 L1865.6 256.5 L1867 255 L1869.3 252.7 L1871.6 253.2 L1873.9 250 L1876.2 250.5 L1878.5 247.2 L1880.8 247.7 L1883 244.5 L1885.3 245 L1887.6 241.6 L1889.9 242.3 L1892.2 238.9 L1894.5 238.6 L1896.8 236.3 L1899.1 237 L1901.4 233.7 L1903.7 234.4 L1906 231.1 L1908.2 231.7 L1910.5 228.6 L1912.8 229.3 L1915.1 226 L1917.4 226.6 L1919.7 223.2 L1922 223 L1924.3 220.8 L1926.6 221.4 L1928.9 218.1 L1931.2 218.7 L1933.5 215.4 L1935.8 216.2 L1938.2 213.1 L1940.5 213.4 L1942.8 210.4 L1945.1 211 L1947.4 207.7 L1949.7 207.4 L1952 205.2 L1954.3 205.7 L1956.7 202.4 L1959 202" stroke="#cc00ff" stroke-width="9.2"/>
<path d="M1538.5 400 L1539.5 640 L1541.5 980" stroke="#6600ff" stroke-width="8.5" stroke-linecap="round"/><path d="M289 948 L291.5 948 L294 948 L296.5 948 L299 947.9 L301.5 947.9 L304 947.9 L306.5 947.8 L309 947.8 L311.5 947.7 L314 947.6 L316.5 947.5 L319 947.5 L321.5 947.4 L324 947.3 L326.5 947.2 L329 947.1 L331.5 947 L334 946.8 L336.5 946.7 L339 946.6 L341.5 946.5 L344 946.3 L346.5 946.2 L349 946.1 L351.5 945.9 L354 945.7 L356.5 945.3 L359 945 L361.5 944.4 L364 943.9 L366.5 943.3 L369 942.7 L371.5 941.9 L374 941.5 L376.5 940.6 L379 940.1 L381.5 938.9 L384 938.2 L386.5 937.1 L389 936.4 L391.5 935.3 L394 934.6 L396.5 933.3 L399 932.5 L401.5 931.3 L404 930.8 L406.5 929.7 L409 929 L411.5 927.7 L414 927 L416.5 925.9 L419 925.2 L421.5 924.3 L424 923.8 L426.5 922.8 L429 922.1 L431.5 921.1 L434 920.7 L436.5 919.8 L439 919.4 L441.5 918.4 L444 917.9 L446.5 916.5 L449 915.9 L451.5 914.8 L454 914.4 L456.5 913.4 L459 912.7 L461.5 911.6 L464 911.2 L466.5 910 L469 909.6 L471.5 908.6 L474 908.1 L476.5 907 L479 906.5 L481.5 905.6 L484 905 L486.5 903.8 L489 903.4 L491.5 902.3 L494 901.8 L496.5 900.7 L499 900.4 L501.5 899.1 L504 898.5 L506.5 897.5 L509 897.1 L511.5 895.9 L514 895.5 L516.5 894.4 L519 893.9 L521.5 892.7 L524 892.2 L526.5 891 L529 890.4 L531.5 889.3 L534 888.8 L536.5 887.5 L539 887 L541.5 885.9 L544 885.2 L546.5 884.3 L549 883.8 L551.5 882.8 L554 882.3 L556.5 881.2 L559 880.8 L561.5 879.7 L564 879.1 L566.5 878.1 L569 877.5 L571.5 876.2 L574 875.7 L576.5 874.5 L579 874.1 L581.5 872.9 L584 872.2 L586.5 871.2 L589 870.6 L591.5 869.3 L594 868.9 L596.5 867.7 L599 867.2 L601.5 865.9 L604 865.5 L606.5 864.3 L609 863.8 L611.5 862.5 L614 862 L616.5 860.8 L619 860.2 L621.5 858.9 L624 858.2 L626.5 857.1 L629 856.6 L631.5 855.4 L634 854.9 L636.5 853.7 L639 853.2 L641.5 852 L644 851.4 L646.5 850.2 L649 849.5 L651.5 848 L654 847.5 L656.5 846.2 L659 845.6 L661.5 844.3 L664 843.7 L666.5 842.4 L669 841.9 L671.5 840.5 L674 840.1 L676.5 838.7 L679 838.2 L681.5 836.8 L684 836.2 L686.5 834.7 L689 834.1 L691.5 832.6 L694 832.1 L696.5 830.6 L699 829.9 L701.5 828.5 L704 827.9 L706.5 826.4 L709 825.9 L711.5 824.6 L714 823.8 L716.5 822.4 L719 822 L721.5 820.7 L724 820.2 L726.5 818.7 L729 818.1 L731.5 816.8 L734 816.1 L736.5 815.1 L739 814.4 L741.5 813 L744 812.3 L746.5 810.8 L749 810.2 L751.5 808.8 L754 808 L756.5 806.6 L759 805.7 L761.5 804.5 L764 803.5 L766.5 802.2 L769 801.6 L771.5 800 L774 799.3 L776.5 798 L779 797.4 L781.5 796 L784 795 L786.5 793.8 L789 793.1 L791.5 791.7 L794 790.8 L796.5 789.5 L799 788.7 L801.5 787.3 L804 786.5 L806.5 785.2 L809 784.3 L811.5 782.9 L814 782.3 L816.5 780.8 L819 779.9 L821.5 778.6 L824 777.6 L826.5 776.1 L829 775.3 L831.5 773.9 L834 773 L836.5 771.4 L839 770.7 L841.5 769.3 L844 768.3 L846.5 766.8 L849 766 L851.5 764.6 L854 763.8 L856.5 762.4 L859 761.6 L861.5 760.2 L864 759.4 L866.5 757.9 L869 757.2 L871.5 755.8 L874 755.1 L876.5 753.5 L879 752.5 L881.5 751.1 L884 750.2 L886.5 748.6 L889 747.6 L891.5 745.9 L894 744.9 L896.5 743.3 L899 742.5 L901.5 740.8 L904 739.9 L906.5 738.3 L909 737.4 L911.5 736 L914 735.2 L916.5 733.5 L919 732.4 L921.5 730.7 L924 729.7 L926.5 728.1 L929 727.2 L931.5 725.6 L934 724.7 L936.5 723.1 L939 722.2 L941.5 720.8 L944 719.9 L946.5 718.5 L949 717.4 L951.5 715.8 L954 714.8 L956.5 713.1 L959 712.3 L961.5 710.8 L964 709.8 L966.5 708.1 L969 706.9 L971.5 705.4 L974 704.3 L976.5 702.6 L979 701.6 L981.5 700 L984 698.7 L986.5 697.1 L989 696.1 L991.5 694.6 L994 693.5 L996.5 691.9 L999 691.2 L1001.5 689.5 L1004 688.5 L1006.5 686.8 L1009 685.8 L1011.5 684.2 L1014 683.1 L1016.5 681.4 L1019 680.4 L1021.5 678.7 L1024 677.7 L1026.5 675.8 L1029 674.7 L1031.5 673 L1034 672 L1036.5 670.3 L1039 669.4 L1041.5 667.5 L1044 666.2 L1046.5 664.5 L1049 663.5 L1051.5 661.8 L1054 660.8 L1056.5 659 L1059 657.9 L1061.5 656 L1064 654.8 L1066.5 653.1 L1069 651.9 L1071.5 650.2 L1074 649 L1076.5 647.2 L1079 646 L1081.5 644.2 L1084 643.2 L1086.5 641.5 L1089 640.3 L1091.5 638.5 L1094 637.2 L1096.5 635.4 L1099 634.2 L1101.5 632.4 L1104 631.3 L1106.5 629.5 L1109 628.4 L1111.5 626.5 L1114 625.2 L1116.5 623.3 L1119 622.3 L1121.5 620.5 L1124 619.2 L1126.5 617.3 L1129 616 L1131.5 614 L1134 612.8 L1136.5 611.1 L1139 609.8 L1141.5 607.9 L1144 606.6 L1146.5 604.5 L1149 603.2 L1151.5 601.2 L1154 600 L1156.5 597.9 L1159 596.6 L1161.5 594.8 L1164 593.5 L1166.5 591.5 L1169 590.2 L1171.5 588.5 L1174 587.2 L1176.5 585.3 L1179 584.2 L1181.5 582.3 L1184 581.1 L1186.5 579.3 L1189 578 L1191.5 576.1 L1194 574.7 L1196.5 572.9 L1199 571.7 L1201.5 569.8 L1204 568.4 L1206.5 566.3 L1209 565 L1211.5 563.1 L1214 561.8 L1216.5 559.8 L1219 558.5 L1221.5 556.5 L1224 555.1 L1226.5 553.3 L1229 552 L1231.5 550.1 L1234 548.8 L1236.5 547 L1239 545.8 L1241.5 543.8 L1244 542.5 L1246.5 540.6 L1249 539.3 L1251.5 537.5 L1254 536.2 L1256.5 534.4 L1259 533.2 L1261.5 531.4 L1264 530.4 L1266.5 528.6 L1269 527.4 L1271.5 525.4 L1274 524.2 L1276.5 522.4 L1279 521.1 L1281.5 519.3 L1284 517.8 L1286.5 515.9 L1289 514.6 L1291.5 512.9 L1294 511.7 L1296.5 509.7 L1299 508.4 L1301.5 506.7 L1304 505.5 L1306.5 503.7 L1309 502.5 L1311.5 500.6 L1314 499.2 L1316.5 497.4 L1319 496 L1321.5 494.2 L1324 492.8 L1326.5 490.8 L1329 489.4 L1331.5 487.5 L1334 486.3 L1336.5 484.6 L1339 483.2 L1341.5 481.4 L1344 480 L1346.5 478.3 L1349 477.2 L1351.5 475.2 L1354 474 L1356.5 472.1 L1359 470.8 L1361.5 469 L1364 467.6 L1366.5 465.9 L1369 464.4 L1371.5 462.4 L1374 461.2 L1376.5 459.3 L1379 458 L1381.5 456.3 L1384 455 L1386.5 453 L1389 451.6 L1391.5 449.6 L1394 448.4 L1396.5 446.4 L1399 444.8 L1401.5 442.7 L1404 441.2 L1406.5 439.4 L1409 438.2 L1411.5 436.2 L1414 434.9 L1416.5 432.9 L1419 431.5 L1421.5 429.5 L1424 428.3 L1426.5 426.4 L1429 424.7 L1431.5 422.6 L1434 421.4 L1436.5 419.3 L1439 418.1 L1441.5 416.1 L1444 414.8 L1446.5 412.7 L1449 411.3 L1451.5 409.4 L1454 407.9 L1456.5 405.9 L1459 404.4 L1461.5 402.5 L1464 401.2 L1466.5 399.3 L1469 398.1 L1471.5 396 L1474 394.8 L1476.5 392.8 L1479 391.3 L1481.5 389.5 L1484 388.2 L1486.5 386.3 L1489 385 L1491.5 382.9 L1494 381.5 L1496.5 379.5 L1499 378.3 L1501.5 376.3 L1504 374.8 L1506.5 372.8 L1509 371.2 L1511.5 369.1 L1514 367.6 L1516.5 365.7 L1519 364.2 L1521.5 362.3 L1524 360.8 L1526.5 358.9 L1529 357.4 L1531.5 355.5 L1534 354.1 L1535 353.3 L1535.2 355.8 L1535.4 358.4 L1535.6 361 L1535.8 363.6 L1536 366.2 L1536.2 368.8 L1536.4 371.4 L1536.6 374 L1536.8 376.6 L1536.9 379.2 L1537.1 381.8 L1537.3 384.4 L1537.5 387 L1537.7 389.6 L1537.9 392.2 L1538.1 394.8 L1538.3 397.4 L1538.5 400" stroke="#6600ff" stroke-width="9.2"/>
<path d="M1627 258 L1629 300 L1630 980" stroke="#be3800" stroke-width="9" stroke-linecap="round"/><path d="M289 947 L291.5 947 L294 947 L296.5 947 L299 947 L301.5 946.9 L304 946.9 L306.5 946.8 L309 946.8 L311.5 946.7 L314 946.7 L316.5 946.6 L319 946.5 L321.5 946.4 L324 946.3 L326.5 946.2 L329 946.1 L331.5 945.7 L334 945 L336.5 943 L339 942.1 L341.5 939.2 L344 939 L346.5 936.2 L349 936.8 L351.5 933.7 L354 934.9 L356.5 931.2 L359 933.3 L361.5 929 L364 931.4 L366.5 926.9 L369 929.4 L371.5 924.6 L374 927.5 L376.5 922.7 L379 925.7 L381.5 920.1 L384 923.6 L386.5 918.2 L389 921.6 L391.5 916.2 L394 919.9 L396.5 914.3 L399 917.3 L401.5 912.4 L404 916 L406.5 911.1 L409 914.5 L411.5 909.4 L414 912.7 L416.5 907.5 L419 911 L421.5 906 L424 909.7 L426.5 904.3 L429 907.6 L431.5 902.4 L434 906 L436.5 901.3 L439 904.3 L441.5 899.1 L444 902.5 L446.5 897.7 L449 901.2 L451.5 896.1 L454 900 L456.5 894.7 L459 898.4 L461.5 893 L464 897 L466.5 891.8 L469 895.9 L471.5 890.5 L474 894.8 L476.5 889.5 L479 893.3 L481.5 887.9 L484 891.9 L486.5 887.3 L489 891.3 L491.5 885.3 L494 889.5 L496.5 884.6 L499 887.8 L501.5 882.7 L504 886.3 L506.5 881.2 L509 885.1 L511.5 879.7 L514 883.6 L516.5 877.7 L519 881.6 L521.5 875.9 L524 879.4 L526.5 874.1 L529 877.3 L531.5 872.1 L534 875.5 L536.5 870 L539 873.7 L541.5 868.1 L544 872.3 L546.5 866.4 L549 870.5 L551.5 865.1 L554 869.4 L556.5 864.2 L559 867.7 L561.5 861.9 L564 866.1 L566.5 860.7 L569 864.5 L571.5 858.4 L574 862.8 L576.5 856.6 L579 860.3 L581.5 854.7 L584 858.4 L586.5 852.4 L589 856.9 L591.5 851 L594 854.5 L596.5 848.7 L599 852.3 L601.5 846.7 L604 851.3 L606.5 845.2 L609 849.1 L611.5 842.5 L614 846.7 L616.5 840.7 L619 845.4 L621.5 839.1 L624 843.1 L626.5 837.3 L629 840.9 L631.5 835.2 L634 839.9 L636.5 833.8 L639 837.5 L641.5 831.3 L644 835.4 L646.5 829 L649 833.5 L651.5 826.7 L654 830.5 L656.5 824.6 L659 829 L661.5 822.5 L664 827.1 L666.5 821 L669 824.8 L671.5 818.8 L674 822.9 L676.5 817 L679 820.9 L681.5 814.6 L684 819.3 L686.5 812 L689 816.5 L691.5 810.4 L694 814.8 L696.5 808.4 L699 812.8 L701.5 806.2 L704 810.1 L706.5 803.4 L709 808 L711.5 801.4 L714 805.7 L716.5 798.9 L719 803.2 L721.5 796 L724 800.9 L726.5 794.1 L729 799.1 L731.5 791.8 L734 796.5 L736.5 789.3 L739 793.2 L741.5 785.9 L744 790.7 L746.5 783.2 L749 788 L751.5 780.9 L754 785.7 L756.5 778.2 L759 782.6 L761.5 776.3 L764 781.5 L766.5 774 L769 778.7 L771.5 771 L774 776.2 L776.5 768.6 L779 774.3 L781.5 766.6 L784 771.4 L786.5 763.3 L789 767.9 L791.5 761.1 L794 765.6 L796.5 758.4 L799 763.4 L801.5 755.3 L804 760.2 L806.5 752.7 L809 758.5 L811.5 750.9 L814 755.7 L816.5 748.6 L819 754.2 L821.5 745.9 L824 751.3 L826.5 743.2 L829 748.6 L831.5 740.4 L834 745.7 L836.5 738.5 L839 742.8 L841.5 735.1 L844 740.7 L846.5 733.6 L849 739.4 L851.5 731.2 L854 737 L856.5 728.5 L859 733.5 L861.5 726.4 L864 731.7 L866.5 723.4 L869 728.8 L871.5 719.9 L874 725.7 L876.5 717.8 L879 723.8 L881.5 715.7 L884 722.1 L886.5 712.9 L889 719.3 L891.5 709.9 L894 716.5 L896.5 708.5 L899 714.3 L901.5 705.6 L904 712 L906.5 702.7 L909 708.6 L911.5 700.2 L914 706.6 L916.5 697.4 L919 703.8 L921.5 695.4 L924 701 L926.5 692.7 L929 699.2 L931.5 690.4 L934 696.1 L936.5 687.8 L939 694.8 L941.5 685.8 L944 691.5 L946.5 682.8 L949 688.1 L951.5 679.8 L954 685.8 L956.5 676.4 L959 682.6 L961.5 673.6 L964 680.5 L966.5 671.4 L969 678.1 L971.5 669.4 L974 675.2 L976.5 667.1 L979 673.5 L981.5 664.6 L984 670.1 L986.5 661 L989 667.5 L991.5 658.5 L994 664.7 L996.5 656.1 L999 662 L1001.5 653.2 L1004 659 L1006.5 650.2 L1009 656.4 L1011.5 647.3 L1014 653.7 L1016.5 645.1 L1019 651.4 L1021.5 642.7 L1024 649 L1026.5 640.1 L1029 645.5 L1031.5 636.4 L1034 642 L1036.5 633.4 L1039 639.3 L1041.5 630.4 L1044 636.3 L1046.5 627 L1049 633.2 L1051.5 623.9 L1054 630.3 L1056.5 620.9 L1059 627.5 L1061.5 618.6 L1064 624.3 L1066.5 615.9 L1069 621.3 L1071.5 613 L1074 618.3 L1076.5 609.2 L1079 615.1 L1081.5 606.1 L1084 611.9 L1086.5 602.7 L1089 608.5 L1091.5 599.4 L1094 604.8 L1096.5 596.2 L1099 601.7 L1101.5 592.8 L1104 598.9 L1106.5 590.1 L1109 595.5 L1111.5 587.3 L1114 593.1 L1116.5 584.4 L1119 589.4 L1121.5 581.3 L1124 586.8 L1126.5 577.8 L1129 583.9 L1131.5 574.8 L1134 581.1 L1136.5 571.6 L1139 577.1 L1141.5 568.5 L1144 573.7 L1146.5 565.6 L1149 570.7 L1151.5 562.4 L1154 567.1 L1156.5 559.2 L1159 564.4 L1161.5 555.7 L1164 560.6 L1166.5 552.4 L1169 557.3 L1171.5 548.6 L1174 554 L1176.5 545.5 L1179 550.4 L1181.5 542.1 L1184 547.9 L1186.5 539 L1189 544 L1191.5 535.7 L1194 540.4 L1196.5 533 L1199 538.3 L1201.5 529.6 L1204 534.8 L1206.5 526.4 L1209 532.1 L1211.5 523.9 L1214 528.8 L1216.5 520.5 L1219 525.8 L1221.5 517.8 L1224 522.6 L1226.5 514.7 L1229 520.1 L1231.5 511.7 L1234 516.6 L1236.5 508 L1239 513.4 L1241.5 505.4 L1244 510.7 L1246.5 502.8 L1249 507.6 L1251.5 499.3 L1254 504.9 L1256.5 496.4 L1259 501.5 L1261.5 493.4 L1264 497.4 L1266.5 489.5 L1269 494.1 L1271.5 485.8 L1274 491.5 L1276.5 482.3 L1279 487.7 L1281.5 480.3 L1284 485 L1286.5 476.6 L1289 481.5 L1291.5 473.2 L1294 478.2 L1296.5 470.2 L1299 475.5 L1301.5 467.4 L1304 473.2 L1306.5 465 L1309 469.4 L1311.5 461.7 L1314 466.6 L1316.5 458.7 L1319 463.1 L1321.5 455.3 L1324 459.5 L1326.5 451.6 L1329 456.8 L1331.5 448.7 L1334 453.6 L1336.5 444.9 L1339 449.5 L1341.5 441.2 L1344 446.4 L1346.5 438.3 L1349 442.7 L1351.5 434.3 L1354 438.7 L1356.5 430.7 L1359 434.6 L1361.5 426.9 L1364 431.3 L1366.5 422.7 L1369 427.2 L1371.5 419 L1374 423.7 L1376.5 415.9 L1379 420.4 L1381.5 412.3 L1384 416.5 L1386.5 409.1 L1389 413.4 L1391.5 405.4 L1394 409.6 L1396.5 401.4 L1399 406.1 L1401.5 398.6 L1404 402.7 L1406.5 395.4 L1409 399.3 L1411.5 391.3 L1414 396 L1416.5 388.3 L1419 392.6 L1421.5 384.8 L1424 388.7 L1426.5 381.6 L1429 385.7 L1431.5 378.1 L1434 382.2 L1436.5 374.6 L1439 378.5 L1441.5 371.4 L1444 375.2 L1446.5 367.6 L1449 371.6 L1451.5 364.6 L1454 368.8 L1456.5 361.9 L1459 365.8 L1461.5 358.9 L1464 362.3 L1466.5 355.5 L1469 359.5 L1471.5 352.1 L1474 356.2 L1476.5 348.7 L1479 352.6 L1481.5 345.4 L1484 349.3 L1486.5 341.8 L1489 345.9 L1491.5 338.9 L1494 342.3 L1496.5 335.7 L1499 339.4 L1501.5 332.5 L1504 336.4 L1506.5 329.4 L1509 333 L1511.5 325.9 L1514 328.6 L1516.5 321.8 L1519 325.1 L1521.5 318.1 L1524 321.8 L1526.5 314.6 L1529 317.7 L1531.5 310.9 L1534 313.5 L1536.5 307.2 L1539 310.1 L1541.5 303.3 L1544 306.4 L1546.5 299.3 L1549 302.7 L1551.5 295.4 L1554 298.5 L1556.5 292.4 L1559 295.6 L1561.5 288.8 L1564 292.3 L1566.5 285.7 L1569 288.5 L1571.5 282.2 L1574 284.9 L1576.5 278.7 L1579 281 L1581.5 274.8 L1584 277.5 L1586.5 271.3 L1589 273.5 L1591.5 267.8 L1594 270.5 L1596.5 264.2 L1599 267.2 L1601.5 261.1 L1604 264.3 L1606.5 258.4 L1609 260.6 L1611.5 254.9 L1614 256.8 L1616.5 251.2 L1619 253.8 L1621.5 247.3 L1623 250.7 L1624.3 250.8 L1625.7 257.4 L1627 258" stroke="#be3800" stroke-width="9.2"/>
<path d="M1701 224 L1703.5 236 L1703.5 980" stroke="#009966" stroke-width="9" stroke-linecap="round"/><path d="M289 940.3 L291.5 940.3 L294 940.3 L296.5 940.3 L299 940.3 L301.5 940.3 L304 940.4 L306.5 939.7 L309 939.4 L311.5 936.3 L314 936 L316.5 931.6 L319 933 L321.5 928.3 L324 931.1 L326.5 925.5 L329 929 L331.5 922.9 L334 926.8 L336.5 920.3 L339 925.4 L341.5 916.9 L344 923.1 L346.5 914.1 L349 920.3 L351.5 912.6 L354 918 L356.5 909.8 L359 916.4 L361.5 907.6 L364 914.1 L366.5 906.3 L369 912.5 L371.5 903.4 L374 909.7 L376.5 901.4 L379 907.3 L381.5 899.1 L384 905.6 L386.5 897.3 L389 903.4 L391.5 895.8 L394 900.8 L396.5 893.4 L399 899.7 L401.5 890.7 L404 897 L406.5 888.7 L409 894.5 L411.5 886.2 L414 892.4 L416.5 884.8 L419 890.7 L421.5 881.7 L424 888.2 L426.5 879.8 L429 886.6 L431.5 878.6 L434 884.8 L436.5 875.8 L439 882.1 L441.5 874.1 L444 880.7 L446.5 872.1 L449 878.7 L451.5 869.7 L454 876.1 L456.5 868.1 L459 874.1 L461.5 865.6 L464 872 L466.5 863.6 L469 869.9 L471.5 862.6 L474 867.9 L476.5 859.9 L479 866.3 L481.5 858 L484 865.1 L486.5 856.7 L489 862.5 L491.5 854.8 L494 860.7 L496.5 852.1 L499 858.8 L501.5 850.7 L504 857 L506.5 848.4 L509 854.8 L511.5 846.9 L514 852.7 L516.5 844.5 L519 851 L521.5 842.6 L524 849.1 L526.5 840.6 L529 847.1 L531.5 838.8 L534 845.5 L536.5 836.7 L539 843.1 L541.5 835.4 L544 841.6 L546.5 832.6 L549 839.5 L551.5 830.8 L554 837.3 L556.5 828.1 L559 835.1 L561.5 826.5 L564 833.4 L566.5 825.7 L569 831.1 L571.5 823.3 L574 829.6 L576.5 821.4 L579 828.1 L581.5 819.6 L584 826.4 L586.5 818.5 L589 824 L591.5 815.5 L594 822.5 L596.5 814 L599 819.7 L601.5 811.8 L604 817.1 L606.5 808.5 L609 814.6 L611.5 806.4 L614 813.1 L616.5 804.2 L619 811.6 L621.5 803.6 L624 809.1 L626.5 800.6 L629 807.2 L631.5 799.1 L634 805.3 L636.5 796.9 L639 802.9 L641.5 795 L644 801.3 L646.5 793 L649 799.2 L651.5 790.7 L654 796.7 L656.5 787.8 L659 794.8 L661.5 786 L664 792.1 L666.5 784.1 L669 790.1 L671.5 781.1 L674 787.7 L676.5 779.9 L679 785.9 L681.5 777.4 L684 783.6 L686.5 775.6 L689 781.6 L691.5 773.1 L694 780 L696.5 771.7 L699 777.6 L701.5 769.2 L704 774.8 L706.5 766.3 L709 772.9 L711.5 764 L714 769.7 L716.5 761.3 L719 767.2 L721.5 759.8 L724 765.2 L726.5 757.7 L729 763.5 L731.5 754.9 L734 760.4 L736.5 752.4 L739 759 L741.5 750.6 L744 756.4 L746.5 747.7 L749 753.5 L751.5 745.3 L754 751 L756.5 744.1 L759 749.3 L761.5 741.4 L764 746.1 L766.5 738.6 L769 743.6 L771.5 736.5 L774 741.5 L776.5 734.4 L779 739.5 L781.5 732 L784 736.7 L786.5 729.6 L789 734.7 L791.5 728 L794 732.9 L796.5 725 L799 729.9 L801.5 722.8 L804 727.3 L806.5 720.5 L809 724.6 L811.5 717.8 L814 722 L816.5 714.7 L819 719.5 L821.5 713.1 L824 717 L826.5 710.2 L829 714.6 L831.5 707.7 L834 713 L836.5 705.7 L839 710.5 L841.5 703.5 L844 708.3 L846.5 701.4 L849 706.4 L851.5 699.4 L854 703.6 L856.5 696.8 L859 701.4 L861.5 694.4 L864 698.7 L866.5 692 L869 696 L871.5 689.6 L874 693.9 L876.5 687.2 L879 690.8 L881.5 684.3 L884 688.5 L886.5 682.4 L889 686 L891.5 679.5 L894 683.4 L896.5 677.1 L899 680.9 L901.5 675 L904 678.7 L906.5 672.7 L909 676.7 L911.5 669.8 L914 674.6 L916.5 668.4 L919 671.9 L921.5 665.9 L924 669.5 L926.5 663.5 L929 667 L931.5 661.5 L934 665.2 L936.5 659.2 L939 662.9 L941.5 657.2 L944 660.5 L946.5 655.1 L949 658.2 L951.5 653 L954 655.9 L956.5 650.4 L959 653.7 L961.5 648.1 L964 651.4 L966.5 645.1 L969 648.6 L971.5 642.8 L974 646 L976.5 639.6 L979 643.1 L981.5 637 L984 640 L986.5 634.5 L989 637.8 L991.5 632.2 L994 635.7 L996.5 630 L999 633.7 L1001.5 627.5 L1004 630.9 L1006.5 625.1 L1009 628.5 L1011.5 622.6 L1014 625.3 L1016.5 619.5 L1019 623.2 L1021.5 617 L1024 620.6 L1026.5 614.3 L1029 617.9 L1031.5 612.7 L1034 615.7 L1036.5 610.1 L1039 613.1 L1041.5 607.5 L1044 610.2 L1046.5 604.6 L1049 608.1 L1051.5 602.3 L1054 605.2 L1056.5 599.4 L1059 602.5 L1061.5 597.1 L1064 600.4 L1066.5 594.5 L1069 597.2 L1071.5 591.9 L1074 594.7 L1076.5 588.7 L1079 591.8 L1081.5 585.6 L1084 589 L1086.5 583 L1089 586.2 L1091.5 580.5 L1094 583.8 L1096.5 577.1 L1099 580.4 L1101.5 574.6 L1104 577.8 L1106.5 571.8 L1109 574.6 L1111.5 568.6 L1114 572.3 L1116.5 565.8 L1119 569.6 L1121.5 564.3 L1124 566.9 L1126.5 562 L1129 565.4 L1131.5 559.3 L1134 562.6 L1136.5 556.7 L1139 560.1 L1141.5 553.7 L1144 556.8 L1146.5 550.9 L1149 554 L1151.5 548 L1154 550.5 L1156.5 545 L1159 548.1 L1161.5 541.7 L1164 545.1 L1166.5 539.3 L1169 541.8 L1171.5 536 L1174 539.7 L1176.5 533.9 L1179 537.3 L1181.5 531.5 L1184 534.5 L1186.5 528.7 L1189 531.9 L1191.5 526.6 L1194 529.7 L1196.5 523.5 L1199 526.9 L1201.5 521.1 L1204 524 L1206.5 518.3 L1209 520.7 L1211.5 514.9 L1214 518 L1216.5 512.2 L1219 515.2 L1221.5 508.9 L1224 511.7 L1226.5 506.5 L1229 509.3 L1231.5 503 L1234 505.9 L1236.5 500.2 L1239 503.2 L1241.5 497.5 L1244 500.5 L1246.5 495.2 L1249 498.4 L1251.5 492.6 L1254 495.8 L1256.5 490.1 L1259 493.6 L1261.5 487.9 L1264 490.5 L1266.5 484.9 L1269 487.5 L1271.5 481.8 L1274 484.3 L1276.5 478.5 L1279 482 L1281.5 476.1 L1284 479.5 L1286.5 473.6 L1289 477 L1291.5 470.9 L1294 474.1 L1296.5 468.1 L1299 471.1 L1301.5 465.3 L1304 468.4 L1306.5 462.6 L1309 465.5 L1311.5 460.1 L1314 463.3 L1316.5 457.6 L1319 461.1 L1321.5 456 L1324 458.5 L1326.5 452.8 L1329 456 L1331.5 449.5 L1334 452.5 L1336.5 446.1 L1339 449 L1341.5 442.6 L1344 445.3 L1346.5 439.1 L1349 441.8 L1351.5 435.4 L1354 438.3 L1356.5 432.2 L1359 434.9 L1361.5 428.3 L1364 430.9 L1366.5 425.8 L1369 428 L1371.5 422.5 L1374 425.1 L1376.5 418.9 L1379 422 L1381.5 416.2 L1384 418.5 L1386.5 412.3 L1389 415 L1391.5 408.9 L1394 411.5 L1396.5 405.6 L1399 407.7 L1401.5 402.1 L1404 404.5 L1406.5 399.3 L1409 402.1 L1411.5 396 L1414 398.6 L1416.5 392.4 L1419 395.4 L1421.5 389.2 L1424 392.3 L1426.5 386.6 L1429 389.1 L1431.5 382.9 L1434 385.4 L1436.5 379.7 L1439 382.3 L1441.5 376.6 L1444 379.2 L1446.5 373.6 L1449 376.1 L1451.5 370.6 L1454 372.8 L1456.5 367.2 L1459 370.6 L1461.5 365 L1464 368 L1466.5 362.3 L1469 365.1 L1471.5 359.8 L1474 362.7 L1476.5 357.5 L1479 360.3 L1481.5 354.6 L1484 357 L1486.5 351.7 L1489 354 L1491.5 348.4 L1494 350.8 L1496.5 344.8 L1499 347.4 L1501.5 341.5 L1504 343.9 L1506.5 338.4 L1509 340.6 L1511.5 335 L1514 337.3 L1516.5 331.7 L1519 334.2 L1521.5 328.1 L1524 330.5 L1526.5 324.9 L1529 327.3 L1531.5 322.2 L1534 325.1 L1536.5 318.7 L1539 321.6 L1541.5 315.7 L1544 318.2 L1546.5 312.2 L1549 314.7 L1551.5 309.4 L1554 311.3 L1556.5 305.6 L1559 308.3 L1561.5 302.4 L1564 305.3 L1566.5 299.7 L1569 302.9 L1571.5 296.5 L1574 298.8 L1576.5 293.7 L1579 296.1 L1581.5 290.8 L1584 293.2 L1586.5 287.4 L1589 289.6 L1591.5 283.8 L1594 286.4 L1596.5 280.9 L1599 283.3 L1601.5 277.1 L1604 279.3 L1606.5 274 L1609 276.1 L1611.5 270.3 L1614 272.7 L1616.5 267.1 L1619 269.1 L1621.5 263.1 L1624 265.7 L1626.5 259.6 L1629 261.9 L1631.5 255.8 L1634 258.4 L1636.5 252.9 L1639 255.2 L1641.5 249.4 L1644 252.2 L1646.5 246.5 L1649 249.1 L1651.5 242.9 L1654 245.4 L1656.5 239.3 L1659 241 L1661.5 235.1 L1664 237 L1666.5 231.1 L1669 233.1 L1671.5 227.6 L1674 230.4 L1676.5 225.2 L1679 228.5 L1681.5 223.2 L1684 226.2 L1686.5 221.2 L1689 224.5 L1691.5 219.9 L1694 223.6 L1697.5 221.8 L1701 224" stroke="#009966" stroke-width="9.2"/>
<path d="M1617.5 257 L1620.5 300 L1623 980" stroke="#0000ff" stroke-width="10" stroke-linecap="round"/><path d="M289 947 L291.5 947 L294 947 L296.5 947 L299 946.9 L301.5 946.9 L304 946.9 L306.5 946.8 L309 946.8 L311.5 946.7 L314 946.7 L316.5 946.6 L319 946.5 L321.5 946.4 L324 946.3 L326.5 946.2 L329 946.1 L331.5 945.8 L334 945 L336.5 943.7 L339 942.2 L341.5 940.7 L344 939.4 L346.5 938.4 L349 937.6 L351.5 936.3 L354 936.1 L356.5 934.5 L359 934.6 L361.5 932.6 L364 933.2 L366.5 930.9 L369 932.1 L371.5 929.5 L374 930.8 L376.5 927.6 L379 929.2 L381.5 926 L384 928.1 L386.5 924.5 L389 926.6 L391.5 922.9 L394 925.1 L396.5 921.1 L399 923.7 L401.5 920.1 L404 922.4 L406.5 918.8 L409 920.7 L411.5 917 L414 919.1 L416.5 915.6 L419 918 L421.5 914.4 L424 916.8 L426.5 913.2 L429 915.3 L431.5 912 L434 914.5 L436.5 910.8 L439 913 L441.5 909.6 L444 911.8 L446.5 907.7 L449 910 L451.5 906.4 L454 908.8 L456.5 904.7 L459 906.7 L461.5 902.9 L464 905.1 L466.5 901.4 L469 903.7 L471.5 900.2 L474 902.3 L476.5 898.5 L479 900.8 L481.5 897 L484 899.6 L486.5 895.6 L489 897.6 L491.5 893.8 L494 895.8 L496.5 892.1 L499 894.5 L501.5 890.6 L504 892.9 L506.5 889 L509 891.3 L511.5 887.4 L514 889.6 L516.5 886 L519 888 L521.5 884.5 L524 886.7 L526.5 882.5 L529 884.9 L531.5 881.1 L534 883.1 L536.5 879.7 L539 881.9 L541.5 878.5 L544 880.5 L546.5 876.8 L549 879.1 L551.5 875.1 L554 877.6 L556.5 874 L559 876.1 L561.5 872.1 L564 874.3 L566.5 870.4 L569 872.3 L571.5 868.9 L574 871.1 L576.5 866.9 L579 868.7 L581.5 864.8 L584 866.8 L586.5 863.1 L589 865.3 L591.5 861.4 L594 863.3 L596.5 859.6 L599 862.2 L601.5 858 L604 860.6 L606.5 856.8 L609 858.8 L611.5 854.6 L614 856.9 L616.5 852.9 L619 854.7 L621.5 850.8 L624 853.2 L626.5 849 L629 850.9 L631.5 847.3 L634 849.4 L636.5 845.4 L639 847.4 L641.5 843.5 L644 845.4 L646.5 841.7 L649 843.4 L651.5 839.7 L654 841.8 L656.5 837.9 L659 840 L661.5 835.7 L664 837.5 L666.5 833.7 L669 835.4 L671.5 831.4 L674 833.4 L676.5 829.2 L679 831.3 L681.5 827.2 L684 829.3 L686.5 825.3 L689 827.2 L691.5 823.3 L694 825.1 L696.5 821.3 L699 823.2 L701.5 819.3 L704 821.3 L706.5 817.3 L709 819.2 L711.5 815 L714 816.8 L716.5 812.6 L719 814.9 L721.5 810.7 L724 812.2 L726.5 808.2 L729 810.3 L731.5 806.6 L734 808.3 L736.5 804 L739 806.1 L741.5 802.1 L744 804 L746.5 799.9 L749 801.9 L751.5 797.6 L754 799.3 L756.5 795.7 L759 797.2 L761.5 793.3 L764 795.4 L766.5 791.5 L769 793.7 L771.5 789.5 L774 791.5 L776.5 787.3 L779 789.4 L781.5 785.4 L784 787.2 L786.5 783.1 L789 785.1 L791.5 781.2 L794 782.9 L796.5 778.9 L799 780.6 L801.5 776.5 L804 778.4 L806.5 774.2 L809 776.2 L811.5 772.4 L814 774.5 L816.5 770.8 L819 772.7 L821.5 768.9 L824 771 L826.5 767.1 L829 768.8 L831.5 764.8 L834 766.6 L836.5 762.6 L839 764.2 L841.5 760.4 L844 762.6 L846.5 758.7 L849 760.3 L851.5 756.2 L854 758.1 L856.5 753.9 L859 755.5 L861.5 751.7 L864 753.5 L866.5 749 L869 751 L871.5 746.9 L874 748.8 L876.5 744.6 L879 746.6 L881.5 742.5 L884 744.1 L886.5 739.7 L889 741.7 L891.5 737.8 L894 739.4 L896.5 735.1 L899 736.8 L901.5 732.1 L904 733.9 L906.5 729.6 L909 731.5 L911.5 727.3 L914 729 L916.5 724.9 L919 726.1 L921.5 721.8 L924 723.8 L926.5 719.5 L929 720.8 L931.5 716.4 L934 718.1 L936.5 713.6 L939 715 L941.5 710.7 L944 712.5 L946.5 708 L949 709.3 L951.5 705.3 L954 706.9 L956.5 702.5 L959 704.4 L961.5 700.3 L964 702 L966.5 697.5 L969 699.2 L971.5 695.2 L974 696.8 L976.5 692.8 L979 694.3 L981.5 690.1 L984 691.7 L986.5 686.8 L989 688.4 L991.5 684 L994 685.1 L996.5 680.6 L999 682.2 L1001.5 677.9 L1004 679.3 L1006.5 674.7 L1009 676.3 L1011.5 671.8 L1014 673.4 L1016.5 669.3 L1019 670.7 L1021.5 665.8 L1024 667.4 L1026.5 662.9 L1029 664.6 L1031.5 660.2 L1034 661.4 L1036.5 657 L1039 658.1 L1041.5 653.6 L1044 655.2 L1046.5 650.9 L1049 652.1 L1051.5 647.9 L1054 649.3 L1056.5 644.9 L1059 646.1 L1061.5 642.1 L1064 643.4 L1066.5 639.1 L1069 640.5 L1071.5 635.9 L1074 637.7 L1076.5 632.8 L1079 634.4 L1081.5 629.5 L1084 630.6 L1086.5 626.1 L1089 628.1 L1091.5 623.5 L1094 625.3 L1096.5 620.5 L1099 621.9 L1101.5 617.5 L1104 619.6 L1106.5 615 L1109 616.5 L1111.5 611.7 L1114 612.5 L1116.5 607.8 L1119 609 L1121.5 604.3 L1124 605.7 L1126.5 600.6 L1129 602 L1131.5 597.6 L1134 598.8 L1136.5 594.5 L1139 595.8 L1141.5 591.1 L1144 592 L1146.5 587.6 L1149 588.9 L1151.5 584.1 L1154 585.7 L1156.5 580.8 L1159 582.3 L1161.5 577.3 L1164 578.8 L1166.5 574 L1169 575.5 L1171.5 571.6 L1174 572.3 L1176.5 568 L1179 569.3 L1181.5 564.6 L1184 566.1 L1186.5 561.4 L1189 562.6 L1191.5 557.9 L1194 558.9 L1196.5 554.3 L1199 555.4 L1201.5 550.9 L1204 552.2 L1206.5 547.5 L1209 549 L1211.5 544.1 L1214 545.5 L1216.5 541.2 L1219 542.5 L1221.5 538 L1224 539.4 L1226.5 534.5 L1229 536 L1231.5 531.3 L1234 532.2 L1236.5 528 L1239 529.2 L1241.5 524.8 L1244 525.7 L1246.5 521.4 L1249 522.7 L1251.5 518 L1254 519.4 L1256.5 514.7 L1259 516 L1261.5 511.4 L1264 512.8 L1266.5 507.9 L1269 509.3 L1271.5 505.3 L1274 506 L1276.5 501.6 L1279 502.9 L1281.5 498.6 L1284 499.7 L1286.5 495.2 L1289 496.6 L1291.5 491.8 L1294 493.2 L1296.5 488.8 L1299 489.9 L1301.5 485.4 L1304 486.6 L1306.5 481.7 L1309 482.9 L1311.5 478.4 L1314 479.9 L1316.5 475.1 L1319 476.1 L1321.5 471.6 L1324 472.5 L1326.5 467.6 L1329 468.8 L1331.5 464 L1334 465.2 L1336.5 460.4 L1339 461.5 L1341.5 457.1 L1344 458.8 L1346.5 453.9 L1349 455.2 L1351.5 450.5 L1354 451.7 L1356.5 446.8 L1359 448 L1361.5 443.2 L1364 444.2 L1366.5 439.1 L1369 440.1 L1371.5 435 L1374 436 L1376.5 431.3 L1379 432.5 L1381.5 427.4 L1384 428.2 L1386.5 423.2 L1389 424.3 L1391.5 419.8 L1394 420.5 L1396.5 415.5 L1399 416.2 L1401.5 411.4 L1404 412.1 L1405.5 413.1 L1407 417 L1409 413.6 L1411 415 L1413 410.3 L1415 411.3 L1417 406.4 L1419 407.9 L1421 403.2 L1423 404.2 L1425 401 L1426.5 402.6 L1428 407 L1429.9 403.8 L1431.8 404.9 L1433.7 400.5 L1435.6 401.9 L1437.5 397.2 L1439.4 398.2 L1441.3 393.6 L1443.2 395 L1445.1 390.3 L1446.9 391.7 L1448.8 387 L1450.7 388 L1452.6 383.4 L1454.5 384.9 L1456.4 380.2 L1458.3 381.5 L1460.2 377 L1462.1 378 L1464 373.4 L1465.9 374.8 L1467.8 370.1 L1469.7 371.1 L1471.6 366.8 L1473.5 367.9 L1475.4 363.2 L1477.3 364.6 L1479.2 359.8 L1481.1 361.3 L1482.9 356.4 L1484.8 357.9 L1486.7 353.1 L1488.6 354.5 L1490.5 349.7 L1492.4 351.2 L1494.3 346.5 L1496.2 347.7 L1498.1 343.2 L1500 342.8 L1502 339.6 L1504.1 341.3 L1506.1 336.8 L1508.1 338.2 L1510.1 333.8 L1512.2 335.1 L1514.2 330.8 L1516.2 332.5 L1518.3 327.8 L1520.3 329.4 L1522.3 324.9 L1524.4 326.3 L1526.4 321.8 L1528.4 323.3 L1530.4 319 L1532.5 320.4 L1534.5 315.7 L1536.5 317.5 L1538.6 312.9 L1540.6 314.3 L1542.6 309.8 L1544.6 311.4 L1546.7 306.9 L1548.7 308.5 L1550.7 303.8 L1552.8 305.3 L1554.8 301.1 L1556.8 302.4 L1558.9 298.1 L1560.9 299.5 L1562.9 295.1 L1564.9 296.3 L1567 292 L1569 292 L1571.1 288.9 L1573.1 290.4 L1575.2 286 L1577.3 287.4 L1579.3 282.7 L1581.4 284.2 L1583.5 279.9 L1585.5 281.2 L1587.6 276.6 L1589.7 278.3 L1591.7 273.8 L1593.8 274.9 L1595.9 270.7 L1597.9 271.9 L1600 269 L1602.2 265.9 L1604.4 267.6 L1606.6 263.1 L1608.8 264.5 L1610.9 259.8 L1613.1 261.3 L1615.3 257.2 L1617.5 257" stroke="#0000ff" stroke-width="9.2"/>
<path d="M1732 400 L1736 980" stroke="#0000ff" stroke-width="13" stroke-linecap="round"/><path d="M289 952.6 L291.5 952.6 L294 952.6 L296.5 952.6 L299 952.6 L301.5 952.6 L304 952.6 L306.5 952.6 L309 952.6 L311.5 952.6 L314 952.6 L316.5 952.6 L319 952.6 L321.5 952.6 L324 952.6 L326.5 952.6 L329 952.6 L331.5 952.6 L334 952.6 L336.5 952.6 L339 952.6 L341.5 952.6 L344 952.6 L346.5 952.5 L349 952.5 L351.5 952 L354 952.1 L356.5 951.3 L359 951.6 L361.5 950.3 L364 950.7 L366.5 949.1 L369 949.4 L371.5 947.5 L374 948 L376.5 945.8 L379 946.5 L381.5 943.8 L384 944.7 L386.5 942.2 L389 942.8 L391.5 940.4 L394 941.2 L396.5 938.6 L399 939.6 L401.5 936.8 L404 938 L406.5 934.9 L409 935.8 L411.5 933.2 L414 934.4 L416.5 932 L419 932.9 L421.5 930.3 L424 931.6 L426.5 928.9 L429 930.5 L431.5 928.1 L434 929.3 L436.5 926.4 L439 927.5 L441.5 924.8 L444 925.8 L446.5 923.1 L449 924.2 L451.5 921.6 L454 922.5 L456.5 920.1 L459 921.4 L461.5 918.6 L464 919.9 L466.5 917.1 L469 918.6 L471.5 915.9 L474 917.1 L476.5 914.4 L479 915.4 L481.5 912.4 L484 914.1 L486.5 911.3 L489 912.1 L491.5 909.5 L494 910.4 L496.5 907.8 L499 909.1 L501.5 906.4 L504 907.7 L506.5 904.8 L509 905.8 L511.5 903.3 L514 904.1 L516.5 901.7 L519 902.4 L521.5 899.8 L524 900.9 L526.5 898 L529 899.1 L531.5 896.1 L534 897.2 L536.5 894.5 L539 895.7 L541.5 892.8 L544 894.1 L546.5 891.4 L549 892.2 L551.5 889.6 L554 890.5 L556.5 887.8 L559 888.9 L561.5 886.4 L564 887.4 L566.5 884.9 L569 886.1 L571.5 883.5 L574 884.3 L576.5 881.7 L579 883 L581.5 880.5 L584 881.3 L586.5 878.6 L589 879.4 L591.5 876.6 L594 877.5 L596.5 874.6 L599 875.6 L601.5 872.7 L604 873.6 L606.5 870.6 L609 871.7 L611.5 868.8 L614 870 L616.5 867.5 L619 868.6 L621.5 865.9 L624 866.7 L626.5 864 L629 865.5 L631.5 862.7 L634 863.8 L636.5 860.7 L639 862 L641.5 859.4 L644 860.1 L646.5 857.2 L649 858.6 L651.5 855.9 L654 857.1 L656.5 854.4 L659 855.5 L661.5 852.5 L664 853.7 L666.5 851 L669 852.6 L671.5 849.4 L674 850.3 L676.5 847.8 L679 848.9 L681.5 845.9 L684 847 L686.5 844.2 L689 845.2 L691.5 842.4 L694 843.6 L696.5 840.8 L699 841.5 L701.5 838.8 L704 840 L706.5 837.5 L709 838.7 L711.5 836.1 L714 837 L716.5 834.3 L719 835.4 L721.5 832.8 L724 833.6 L726.5 830.8 L729 831.9 L731.5 828.9 L734 830.1 L736.5 827.4 L739 828.4 L741.5 825.7 L744 826.9 L746.5 824.5 L749 825.6 L751.5 823 L754 824.4 L756.5 821.2 L759 822.2 L761.5 819.3 L764 820.1 L766.5 817.1 L769 818.1 L771.5 815.2 L774 816.1 L776.5 813.3 L779 814.6 L781.5 811.8 L784 812.8 L786.5 809.9 L789 811.2 L791.5 808.4 L794 809.5 L796.5 806.7 L799 807.5 L801.5 804.7 L804 805.5 L806.5 802.6 L809 803.6 L811.5 800.9 L814 802.2 L816.5 799.2 L819 800.4 L821.5 797.7 L824 798.8 L826.5 796.1 L829 796.9 L831.5 794.2 L834 795 L836.5 791.9 L839 792.8 L841.5 789.5 L844 790.4 L846.5 787.2 L849 788.4 L851.5 785.8 L854 786.5 L856.5 783.6 L859 784.9 L861.5 782 L864 783 L866.5 779.8 L869 780.7 L871.5 778 L874 779 L876.5 776.3 L879 777 L881.5 773.9 L884 775 L886.5 772.3 L889 773 L891.5 770.1 L894 770.9 L896.5 768.2 L899 769.5 L901.5 766.6 L904 767.3 L906.5 764.3 L909 765.2 L911.5 762.2 L914 763.4 L916.5 760.3 L919 761.1 L921.5 758 L924 758.9 L926.5 756.2 L929 757.2 L931.5 754.3 L934 755.4 L936.5 752.4 L939 753.2 L941.5 750 L944 751.1 L946.5 747.9 L949 748.5 L951.5 745.4 L954 745.9 L956.5 742.6 L959 743.5 L961.5 740.5 L964 741.4 L966.5 738.5 L969 739.4 L971.5 736.3 L974 737.3 L976.5 734.3 L979 735.4 L981.5 732.5 L984 733.2 L986.5 730.3 L989 731.2 L991.5 728.3 L994 728.8 L996.5 725.9 L999 726.9 L1001.5 723.6 L1004 724.5 L1006.5 721.5 L1009 722.1 L1011.5 719.4 L1014 719.9 L1016.5 716.9 L1019 717.3 L1021.5 714.4 L1024 715.2 L1026.5 712.1 L1029 712.9 L1031.5 710 L1034 710.8 L1036.5 708.2 L1039 709 L1041.5 705.6 L1044 706 L1046.5 702.8 L1049 703.6 L1051.5 700.3 L1054 700.8 L1056.5 697.3 L1059 697.6 L1061.5 694.3 L1064 694.9 L1066.5 692 L1069 692.9 L1071.5 689.8 L1074 690.3 L1076.5 687.1 L1079 688.2 L1081.5 685.1 L1084 685.8 L1086.5 683 L1089 683.4 L1091.5 680.1 L1094 680.9 L1096.5 678 L1099 678.5 L1101.5 675.1 L1104 675.3 L1106.5 671.8 L1109 672.6 L1111.5 669.2 L1114 669.8 L1116.5 666.3 L1119 667.2 L1121.5 664.1 L1124 664.8 L1126.5 661.7 L1129 662.3 L1131.5 658.6 L1134 659.1 L1136.5 656.3 L1139 657.1 L1141.5 653.4 L1144 653.8 L1146.5 650.5 L1149 651.3 L1151.5 647.9 L1154 648.3 L1156.5 645.2 L1159 645.4 L1161.5 642.3 L1164 642.7 L1166.5 639.7 L1169 639.9 L1171.5 636.6 L1174 637.6 L1176.5 634.6 L1179 634.7 L1181.5 631.6 L1184 631.6 L1186.5 628 L1189 628.4 L1191.5 625.4 L1194 625.9 L1196.5 622.1 L1199 622.6 L1201.5 619.3 L1204 619.7 L1206.5 616 L1209 616.9 L1211.5 613.5 L1214 613.8 L1216.5 610.1 L1219 610.4 L1221.5 607 L1224 607.7 L1226.5 604.3 L1229 604.9 L1231.5 601.5 L1234 601.8 L1236.5 598.2 L1239 598.6 L1241.5 595.4 L1244 595.7 L1246.5 592.4 L1249 592.9 L1251.5 589.2 L1254 589.7 L1256.5 586.2 L1259 586.8 L1261.5 583.7 L1264 584.2 L1266.5 580.4 L1269 580.8 L1271.5 577.2 L1274 577.9 L1276.5 573.8 L1279 574.3 L1281.5 570.9 L1284 570.9 L1286.5 567.5 L1289 568 L1291.5 564.4 L1294 564.6 L1296.5 560.7 L1299 561.3 L1301.5 557.7 L1304 558 L1306.5 554.9 L1309 555 L1311.5 551.5 L1314 551.5 L1316.5 547.6 L1319 548 L1321.5 544.7 L1324 545.1 L1326.5 541.3 L1329 541.6 L1331.5 538.3 L1334 538.3 L1336.5 535.1 L1339 535.5 L1341.5 532.3 L1344 532.6 L1346.5 529 L1349 529.8 L1351.5 526.1 L1354 526.1 L1356.5 522.7 L1359 523.2 L1361.5 519.8 L1364 519.9 L1366.5 516.2 L1369 516.3 L1371.5 512.5 L1374 512.8 L1376.5 509.4 L1379 509.7 L1381.5 505.7 L1384 506.1 L1386.5 502.2 L1389 502.6 L1391.5 499.1 L1394 499.5 L1396.5 496 L1399 496 L1401.5 492.8 L1404 493.2 L1406.5 489.7 L1409 490.1 L1411.5 486.8 L1414 487.1 L1416.5 483.8 L1419 484.3 L1421.5 481.4 L1424 481.9 L1426.5 478.5 L1429 478.9 L1431.5 476 L1434 476.5 L1436.5 473.2 L1439 473.7 L1441.5 470.3 L1444 470.4 L1446.5 467.2 L1449 467.6 L1451.5 464.2 L1454 464.8 L1456.5 461.3 L1459 461.7 L1461.5 458.4 L1464 459 L1466.5 455.8 L1469 456.3 L1471.5 452.6 L1474 453.2 L1476.5 449.6 L1479 450.1 L1481.5 446.5 L1484 446.8 L1486.5 443.3 L1489 443.7 L1491.5 440.2 L1494 441 L1496.5 437.4 L1499 438 L1501.5 434.4 L1504 434.7 L1506.5 431.5 L1509 431.8 L1511.5 428.2 L1514 428.6 L1516.5 425 L1519 425.4 L1521.5 422 L1524 422.5 L1526.5 419 L1529 419.2 L1531.5 415.8 L1534 416 L1536.5 412.3 L1539 412.9 L1541.5 409.2 L1544 409.4 L1546.5 405.9 L1549 406 L1551.5 402.6 L1554 402.9 L1556.5 399.4 L1559 399.4 L1561.5 395.7 L1564 395.8 L1566.5 392.6 L1569 392.9 L1571.5 389.6 L1574 389.6 L1576.5 386.1 L1579 386.4 L1581.5 383 L1584 383.2 L1586.5 379.8 L1589 380 L1591.5 376.3 L1594 376.6 L1596.5 373.1 L1599 373 L1601.5 369.7 L1604 369.8 L1606.5 366.7 L1609 366.7 L1611.5 363 L1614 363.6 L1616.5 359.7 L1619 359.9 L1621.5 356.8 L1624 356.7 L1626.5 353.4 L1629 353.2 L1631.5 349.8 L1634 349.9 L1636.5 346.2 L1639 346.5 L1641.5 343.1 L1644 343.2 L1646.5 339.9 L1649 340.2 L1651.5 336.4 L1654 336.8 L1656.5 332.9 L1659 332.7 L1661.5 329.1 L1664 329 L1666.5 324.8 L1669 324.5 L1671.5 320.9 L1674 321.2 L1676.5 317.4 L1679 317.4 L1681.5 314 L1684 314.2 L1686.5 310.5 L1689 311 L1691.5 307.6 L1694 307.7 L1696.5 303.9 L1699 303.8 L1701.5 300.1 L1704 300.2 L1706.5 296.7 L1709 296.8 L1711.5 293.3 L1714 293.2 L1716.5 289.8 L1719 289.9 L1721.5 286.6 L1723 287.5 L1723.7 290 L1724.3 292.5 L1725 295 L1725.7 297.5 L1726.3 300 L1727 302.5 L1727.7 305 L1728.3 307.5 L1729 310 L1729.1 312.5 L1729.2 315 L1729.2 317.5 L1729.3 320 L1729.4 322.5 L1729.5 325 L1729.6 327.5 L1729.7 330 L1729.8 332.5 L1729.8 335 L1729.9 337.5 L1730 340 L1730.1 342.5 L1730.2 345 L1730.2 347.5 L1730.3 350 L1730.4 352.5 L1730.5 355 L1730.6 357.5 L1730.7 360 L1730.8 362.5 L1730.8 365 L1730.9 367.5 L1731 370 L1731.1 372.5 L1731.2 375 L1731.2 377.5 L1731.3 380 L1731.4 382.5 L1731.5 385 L1731.6 387.5 L1731.7 390 L1731.8 392.5 L1731.8 395 L1731.9 397.5 L1732 400" stroke="#0000ff" stroke-width="9.2"/>
<path d="M1720 310 L1721.5 500 L1724 980" stroke="#0055ff" stroke-width="9" stroke-linecap="round"/><path d="M289 950 L291.5 950 L294 950 L296.5 950 L299 950 L301.5 950 L304 950 L306.5 950 L309 950 L311.5 950 L314 950 L316.5 950 L319 950 L321.5 950 L324 950 L326.5 950 L329 950 L331.5 950 L334 950 L336.5 950 L339 950 L341.5 950 L344 950 L346.5 950 L349 949.9 L351.5 949.7 L354 949.4 L356.5 949.1 L359 948.8 L361.5 948.3 L364 947.8 L366.5 947.2 L369 946.6 L371.5 946 L374 945.4 L376.5 944.7 L379 943.9 L381.5 943.3 L384 942.6 L386.5 941.8 L389 941 L391.5 940.2 L394 939.2 L396.5 938.3 L399 937.5 L401.5 936.7 L404 935.7 L406.5 934.9 L409 934.1 L411.5 933.2 L414 932.4 L416.5 931.7 L419 931.1 L421.5 930.5 L424 929.8 L426.5 929.2 L429 928.5 L431.5 927.9 L434 927.2 L436.5 926.5 L439 925.9 L441.5 925.1 L444 924.4 L446.5 923.6 L449 922.9 L451.5 922.1 L454 921.3 L456.5 920.5 L459 919.7 L461.5 918.9 L464 918.1 L466.5 917.2 L469 916.6 L471.5 915.8 L474 915.1 L476.5 914.4 L479 913.6 L481.5 912.8 L484 912.1 L486.5 911.2 L489 910.5 L491.5 909.5 L494 908.7 L496.5 907.8 L499 906.9 L501.5 906.2 L504 905.4 L506.5 904.5 L509 903.9 L511.5 903.2 L514 902.5 L516.5 901.7 L519 900.9 L521.5 900.1 L524 899.3 L526.5 898.6 L529 897.8 L531.5 897 L534 895.9 L536.5 895.2 L539 894.3 L541.5 893.5 L544 892.7 L546.5 891.9 L549 890.9 L551.5 890 L554 889.1 L556.5 888.2 L559 887.2 L561.5 886.4 L564 885.5 L566.5 884.7 L569 883.8 L571.5 883 L574 882.2 L576.5 881.5 L579 880.7 L581.5 879.9 L584 879.1 L586.5 878.4 L589 877.5 L591.5 876.6 L594 875.8 L596.5 875 L599 874 L601.5 873 L604 872.2 L606.5 871.2 L609 870.2 L611.5 869.3 L614 868.5 L616.5 867.5 L619 866.6 L621.5 865.8 L624 865.1 L626.5 864.2 L629 863.3 L631.5 862.4 L634 861.5 L636.5 860.7 L639 859.8 L641.5 859 L644 858.1 L646.5 857.3 L649 856.5 L651.5 855.8 L654 855 L656.5 854.2 L659 853.4 L661.5 852.6 L664 851.8 L666.5 851 L669 850.1 L671.5 849.2 L674 848.5 L676.5 847.6 L679 846.7 L681.5 845.8 L684 844.9 L686.5 844.1 L689 843.2 L691.5 842.4 L694 841.5 L696.5 840.6 L699 839.8 L701.5 839 L704 838.2 L706.5 837.5 L709 836.7 L711.5 835.8 L714 834.9 L716.5 834 L719 833.3 L721.5 832.4 L724 831.5 L726.5 830.6 L729 829.7 L731.5 828.8 L734 827.9 L736.5 827.1 L739 826.3 L741.5 825.5 L744 824.6 L746.5 823.8 L749 822.9 L751.5 822.1 L754 821.3 L756.5 820.5 L759 819.5 L761.5 818.7 L764 817.8 L766.5 816.8 L769 815.8 L771.5 815 L774 814.1 L776.5 813.2 L779 812.2 L781.5 811.4 L784 810.5 L786.5 809.6 L789 808.8 L791.5 808 L794 807.1 L796.5 806.2 L799 805.3 L801.5 804.5 L804 803.7 L806.5 802.7 L809 801.6 L811.5 800.6 L814 799.7 L816.5 798.8 L819 797.9 L821.5 797 L824 796.1 L826.5 795.1 L829 794.3 L831.5 793.5 L834 792.7 L836.5 791.8 L839 790.9 L841.5 789.9 L844 788.9 L846.5 787.9 L849 786.9 L851.5 786 L854 785 L856.5 784 L859 783 L861.5 782.1 L864 781.1 L866.5 780.2 L869 779.3 L871.5 778.4 L874 777.5 L876.5 776.5 L879 775.6 L881.5 774.6 L884 773.5 L886.5 772.7 L889 771.7 L891.5 770.7 L894 769.7 L896.5 768.5 L899 767.4 L901.5 766.4 L904 765.3 L906.5 764.3 L909 763.1 L911.5 762.2 L914 761.1 L916.5 760 L919 759.1 L921.5 758 L924 757 L926.5 756.1 L929 755 L931.5 754 L934 752.9 L936.5 751.8 L939 750.7 L941.5 749.6 L944 748.6 L946.5 747.5 L949 746.4 L951.5 745.4 L954 744.3 L956.5 743.3 L959 742.3 L961.5 741.2 L964 740.2 L966.5 739.2 L969 738.1 L971.5 736.9 L974 735.8 L976.5 734.7 L979 733.5 L981.5 732.3 L984 731.2 L986.5 730.1 L989 729 L991.5 727.7 L994 726.5 L996.5 725.4 L999 724.4 L1001.5 723.3 L1004 722.2 L1006.5 721.2 L1009 720 L1011.5 718.9 L1014 718 L1016.5 716.9 L1019 715.7 L1021.5 714.5 L1024 713.2 L1026.5 712.1 L1029 711 L1031.5 709.8 L1034 708.5 L1036.5 707.3 L1039 706 L1041.5 704.9 L1044 703.8 L1046.5 702.7 L1049 701.3 L1051.5 700 L1054 698.8 L1056.5 697.6 L1059 696.4 L1061.5 695.2 L1064 693.9 L1066.5 692.5 L1069 691.2 L1071.5 690.1 L1074 688.9 L1076.5 687.7 L1079 686.4 L1081.5 685.1 L1084 683.9 L1086.5 682.7 L1089 681.5 L1091.5 680.3 L1094 678.9 L1096.5 677.5 L1099 676.2 L1101.5 674.9 L1104 673.5 L1106.5 672.2 L1109 670.8 L1111.5 669.4 L1114 668.1 L1116.5 666.7 L1119 665.3 L1121.5 664.1 L1124 662.8 L1126.5 661.4 L1129 660 L1131.5 658.6 L1134 657.2 L1136.5 655.9 L1139 654.5 L1141.5 653.1 L1144 651.6 L1146.5 650.2 L1149 648.8 L1151.5 647.3 L1154 645.7 L1156.5 644.4 L1159 643 L1161.5 641.7 L1164 640.3 L1166.5 638.9 L1169 637.5 L1171.5 636.1 L1174 634.7 L1176.5 633.3 L1179 631.8 L1181.5 630.4 L1184 629 L1186.5 627.5 L1189 626.1 L1191.5 624.6 L1194 623.2 L1196.5 621.7 L1199 620.3 L1201.5 618.8 L1204 617.3 L1206.5 615.7 L1209 614.3 L1211.5 612.8 L1214 611.3 L1216.5 609.9 L1219 608.5 L1221.5 607 L1224 605.6 L1226.5 604.2 L1229 602.7 L1231.5 601.1 L1234 599.7 L1236.5 598.1 L1239 596.7 L1241.5 595.3 L1244 593.9 L1246.5 592.4 L1249 590.9 L1251.5 589.5 L1254 588 L1256.5 586.5 L1259 585 L1261.5 583.5 L1264 581.9 L1266.5 580.4 L1269 578.9 L1271.5 577.2 L1274 575.6 L1276.5 574.2 L1279 572.6 L1281.5 571.1 L1284 569.4 L1286.5 567.9 L1289 566.3 L1291.5 564.9 L1294 563.4 L1296.5 561.9 L1299 560.3 L1301.5 558.9 L1304 557.2 L1306.5 555.7 L1309 554.2 L1311.5 552.6 L1314 551 L1316.5 549.4 L1319 547.9 L1321.5 546.2 L1324 544.6 L1326.5 543.1 L1329 541.6 L1331.5 540 L1334 538.5 L1336.5 536.9 L1339 535.4 L1341.5 533.9 L1344 532.3 L1346.5 530.8 L1349 529.3 L1351.5 527.6 L1354 526.1 L1356.5 524.5 L1359 523 L1361.5 521.4 L1364 519.7 L1366.5 518.1 L1369 516.5 L1371.5 515 L1374 513.4 L1376.5 511.8 L1379 510.2 L1381.5 508.6 L1384 507 L1386.5 505.5 L1389 503.8 L1391.5 502.2 L1394 500.6 L1396.5 498.9 L1399 497.4 L1401.5 496 L1404 494.4 L1406.5 492.9 L1409 491.3 L1411.5 489.8 L1414 488.2 L1416.5 486.6 L1419 485.2 L1421.5 483.7 L1424 482 L1426.5 480.6 L1429 479 L1431.5 477.4 L1434 476 L1436.5 474.4 L1439 472.8 L1441.5 471.3 L1444 469.6 L1446.5 468.1 L1449 466.4 L1451.5 464.9 L1454 463.4 L1456.5 461.8 L1459 460.2 L1461.5 458.7 L1464 457.1 L1466.5 455.6 L1469 454 L1471.5 452.6 L1474 451 L1476.5 449.5 L1479 447.9 L1481.5 446.5 L1484 445 L1486.5 443.6 L1489 442.1 L1491.5 440.6 L1494 439 L1496.5 437.4 L1499 435.9 L1501.5 434.3 L1504 432.7 L1506.5 431.1 L1509 429.4 L1511.5 427.9 L1514 426.2 L1516.5 424.5 L1519 422.9 L1521.5 421.3 L1524 419.6 L1526.5 418.1 L1529 416.4 L1531.5 414.7 L1534 413 L1536.5 411.4 L1539 409.9 L1541.5 408.3 L1544 406.7 L1546.5 405.2 L1549 403.6 L1551.5 402 L1554 400.4 L1556.5 398.9 L1559 397.4 L1561.5 395.7 L1564 394.1 L1566.5 392.5 L1569 390.9 L1571.5 389.3 L1574 387.6 L1576.5 386 L1579 384.4 L1581.5 382.7 L1584 381.1 L1586.5 379.6 L1589 378 L1591.5 376.4 L1594 374.8 L1596.5 373.2 L1599 371.6 L1601.5 370 L1604 368.5 L1606.5 367 L1609 365.4 L1611.5 363.7 L1614 362.1 L1616.5 360.5 L1619 359 L1621.5 357.5 L1624 355.9 L1626.5 354.2 L1629 352.5 L1631.5 350.8 L1634 349.2 L1636.5 347.5 L1639 345.8 L1641.5 344 L1644 342.1 L1646.5 340.3 L1649 338.4 L1651.5 336.7 L1654 334.8 L1656.5 332.8 L1659 331 L1661.5 329.1 L1664 327.3 L1666.5 325.4 L1669 323.6 L1671.5 321.8 L1674 320 L1676.5 318.2 L1679 316.5 L1681.5 314.7 L1684 313.1 L1686.5 311.4 L1689 309.7 L1691.5 308.1 L1694 306.5 L1696.5 304.9 L1699 303.3 L1701.5 301.7 L1704 300.2 L1706.5 298.6 L1709 297 L1711.5 295.6 L1714 294.1 L1716 292.9 L1716.6 295.3 L1717.1 297.8 L1717.7 300.2 L1718.3 302.7 L1718.9 305.1 L1719.4 307.6 L1720 310" stroke="#0055ff" stroke-width="8"/>
<path d="M1885 136 L1886 400 L1886 402.5 L1886 405 L1886 407.5 L1886 410 L1886 412.5 L1886 415 L1886 417.5 L1886.1 420 L1886.1 422.5 L1886.1 425 L1886.1 427.5 L1886.1 430 L1886.1 432.5 L1886.1 435 L1886.1 437.5 L1886.1 440 L1886.1 442.5 L1886.1 445 L1886.1 447.5 L1886.1 450 L1886.1 452.5 L1886.1 455 L1886.1 457.5 L1886.2 460 L1886.2 462.5 L1886.2 465 L1886.2 467.5 L1886.2 470 L1886.2 472.5 L1886.2 475 L1886.2 477.5 L1886.2 480 L1886.2 482.5 L1886.2 485 L1886.2 487.5 L1886.2 490 L1886.2 492.5 L1886.2 495 L1886.3 497.5 L1886.3 500 L1886.3 502.5 L1886.3 505 L1886.3 507.5 L1886.3 510 L1886.3 512.5 L1886.3 515 L1886.3 517.5 L1886.3 520 L1886.3 522.5 L1886.3 525 L1886.3 527.5 L1886.3 530 L1886.3 532.5 L1886.3 535 L1886.4 537.5 L1886.4 540 L1886.4 542.5 L1886.4 545 L1886.4 547.5 L1886.4 550 L1886.4 552.5 L1886.4 555 L1886.4 557.5 L1886.4 560 L1886.4 562.5 L1886.4 565 L1886.4 567.5 L1886.4 570 L1886.4 572.5 L1886.5 575 L1886.5 577.5 L1886.5 580 L1886.5 582.5 L1886.5 585 L1886.5 587.5 L1886.5 590 L1886.5 592.5 L1886.5 595 L1886.5 597.5 L1886.5 600 L1886.5 602.5 L1886.5 605 L1886.5 607.5 L1886.5 610 L1886.5 612.5 L1886.6 615 L1886.6 617.5 L1886.6 620 L1886.6 622.5 L1886.6 625 L1886.6 627.5 L1886.6 630 L1886.6 632.5 L1886.6 635 L1886.6 637.5 L1886.6 640 L1886.6 642.5 L1886.6 645 L1886.6 647.5 L1886.6 650 L1886.7 652.5 L1886.7 655 L1886.7 657.5 L1886.7 660 L1886.7 662.5 L1886.7 665 L1886.7 667.5 L1886.7 670 L1886.7 672.5 L1886.7 675 L1886.7 677.5 L1886.7 680 L1886.7 682.5 L1886.7 685 L1886.7 687.5 L1886.8 690 L1886.8 692.5 L1886.8 695 L1886.8 697.5 L1886.8 700 L1886.8 702.5 L1886.8 705 L1886.8 707.5 L1886.8 710 L1886.8 712.5 L1886.8 715 L1886.8 717.5 L1886.8 720 L1886.8 722.5 L1886.8 725 L1886.8 727.5 L1886.9 730 L1886.9 732.5 L1886.9 735 L1886.9 737.5 L1886.9 740 L1886.9 742.5 L1886.9 745 L1886.9 747.5 L1886.9 750 L1886.9 752.5 L1886.9 755 L1886.9 757.5 L1886.9 760 L1886.9 762.5 L1886.9 765 L1887 767.5 L1887 770 L1887 772.5 L1887 775 L1887 777.5 L1887 780 L1887 782.5 L1887 785 L1887 787.5 L1887 790 L1887 792.5 L1887 795 L1887 797.5 L1887 800 L1887 802.5 L1887 805 L1887.1 807.5 L1887.1 810 L1887.1 812.5 L1887.1 815 L1887.1 817.5 L1887.1 820 L1887.1 822.5 L1887.1 825 L1887.1 827.5 L1887.1 830 L1887.1 832.5 L1887.1 835 L1887.1 837.5 L1887.1 840 L1887.1 842.5 L1887.2 845 L1887.2 847.5 L1887.2 850 L1887.2 852.5 L1887.2 855 L1887.2 857.5 L1887.2 860 L1887.2 862.5 L1887.2 865 L1887.2 867.5 L1887.2 870 L1887.2 872.5 L1887.2 875 L1887.2 877.5 L1887.2 880 L1887.2 882.5 L1887.3 885 L1887.3 887.5 L1887.3 890 L1887.3 892.5 L1887.3 895 L1887.3 897.5 L1887.3 900 L1887.3 902.5 L1887.3 905 L1887.3 907.5 L1887.3 910 L1887.3 912.5 L1887.3 915 L1887.3 917.5 L1887.3 920 L1887.4 922.5 L1887.4 925 L1887.4 927.5 L1887.4 930 L1887.4 932.5 L1887.4 935 L1887.4 937.5 L1887.4 940 L1887.4 942.5 L1887.4 945 L1887.4 947.5 L1887.4 950 L1887.4 952.5 L1887.4 955 L1887.4 957.5 L1887.4 960 L1887.5 962.5 L1887.5 965 L1887.5 967.5 L1887.5 970 L1887.5 972.5 L1887.5 975 L1887.5 977.5 L1887.5 980" stroke="#1a4fb0" stroke-width="2.5"/>
<path d="M1871 135 L1872 200 L1873.5 980" stroke="#000080" stroke-width="8" stroke-linecap="round"/><path d="M289 943.5 L291.5 943.5 L294 943.5 L296.5 943.5 L299 943.5 L301.5 943.5 L304 943.5 L306.5 943.5 L309 943.5 L311.5 943.5 L314 943.5 L316.5 943.5 L319 943.5 L321.5 943.5 L324 943.5 L326.5 943.5 L329 943.5 L331.5 943.5 L334 942.9 L336.5 941.7 L339 940.2 L341.5 938.7 L344 937.4 L346.5 936.4 L349 935.8 L351.5 934.7 L354 934.3 L356.5 933 L359 932.9 L361.5 931.5 L364 931.5 L366.5 930 L369 930.5 L371.5 928.4 L374 929 L376.5 927.2 L379 928.4 L381.5 925.8 L384 927.3 L386.5 924.8 L389 926.3 L391.5 923.8 L394 924.8 L396.5 922.4 L399 924 L401.5 921.2 L404 922.7 L406.5 920.3 L409 921.8 L411.5 919.2 L414 920.3 L416.5 917.9 L419 919.3 L421.5 916.4 L424 918 L426.5 915.2 L429 916.8 L431.5 914.1 L434 915.1 L436.5 912.5 L439 913.8 L441.5 911.2 L444 912.3 L446.5 909.7 L449 910.9 L451.5 907.9 L454 909.4 L456.5 906.8 L459 908.2 L461.5 905.7 L464 907.1 L466.5 904.4 L469 906.1 L471.5 903.4 L474 904.8 L476.5 901.9 L479 903.2 L481.5 900.2 L484 901.4 L486.5 898.6 L489 899.9 L491.5 897.1 L494 898.5 L496.5 896 L499 897.2 L501.5 894.8 L504 896.3 L506.5 893.5 L509 895 L511.5 892.3 L514 893.5 L516.5 890.4 L519 891.9 L521.5 889.1 L524 890.6 L526.5 888 L529 889.5 L531.5 886.5 L534 887.6 L536.5 884.5 L539 886.2 L541.5 883.5 L544 884.6 L546.5 881.6 L549 882.7 L551.5 879.6 L554 880.6 L556.5 877.6 L559 879 L561.5 875.9 L564 877.3 L566.5 874.5 L569 875.9 L571.5 873 L574 874.6 L576.5 872.1 L579 873.3 L581.5 870.7 L584 872.1 L586.5 869 L589 870.3 L591.5 867.4 L594 868.9 L596.5 865.7 L599 867 L601.5 864.1 L604 865.3 L606.5 862.7 L609 864.1 L611.5 861 L614 862.4 L616.5 859.3 L619 860.8 L621.5 858.2 L624 859.4 L626.5 856.5 L629 857.5 L631.5 854.8 L634 856.2 L636.5 853.6 L639 854.8 L641.5 851.9 L644 852.8 L646.5 850 L649 851 L651.5 848.2 L654 849.2 L656.5 846 L659 847 L661.5 844 L664 845.2 L666.5 842.5 L669 844.1 L671.5 840.5 L674 842.1 L676.5 839 L679 840.3 L681.5 837.7 L684 839.1 L686.5 836 L689 837 L691.5 833.5 L694 834.6 L696.5 831.5 L699 832.8 L701.5 829.8 L704 830.9 L706.5 827.7 L709 828.8 L711.5 825.9 L714 827.3 L716.5 824.4 L719 825.9 L721.5 822.8 L724 823.7 L726.5 820.6 L729 821.7 L731.5 818.4 L734 819 L736.5 815.8 L739 817.2 L741.5 813.9 L744 815.4 L746.5 812 L749 813.6 L751.5 810.3 L754 811.9 L756.5 808.8 L759 809.9 L761.5 807 L764 807.9 L766.5 804.5 L769 805.5 L771.5 802 L774 803.2 L776.5 800 L779 801.4 L781.5 798.1 L784 799 L786.5 795.8 L789 797.1 L791.5 794 L794 795 L796.5 791.9 L799 793 L801.5 789.8 L804 791.1 L806.5 787.9 L809 789.1 L811.5 786 L814 787.3 L816.5 783.9 L819 785.5 L821.5 782.2 L824 783.6 L826.5 780.3 L829 781.5 L831.5 778.3 L834 779.6 L836.5 776.1 L839 777.2 L841.5 773.7 L844 775 L846.5 771.6 L849 772.6 L851.5 769.4 L854 770.1 L856.5 767 L859 768.2 L861.5 765.2 L864 766.6 L866.5 763.2 L869 764 L871.5 760.8 L874 762 L876.5 759.2 L879 760.1 L881.5 757.1 L884 757.8 L886.5 754.4 L889 755.6 L891.5 752.8 L894 753.7 L896.5 750.4 L899 751.5 L901.5 748 L904 749.4 L906.5 746.4 L909 747.6 L911.5 744.2 L914 745.5 L916.5 742.3 L919 743.5 L921.5 740.3 L924 741.7 L926.5 738.4 L929 739.5 L931.5 736.5 L934 737.3 L936.5 734.2 L939 735.2 L941.5 732.3 L944 733 L946.5 730.2 L949 731.4 L951.5 727.9 L954 729 L956.5 725.8 L959 727.2 L961.5 723.7 L964 724.8 L966.5 721.5 L969 722.4 L971.5 719.2 L974 720.5 L976.5 717 L979 718 L981.5 714.6 L984 716.2 L986.5 712.8 L989 714.1 L991.5 710.9 L994 711.8 L996.5 708.5 L999 709.6 L1001.5 706.3 L1004 707.2 L1006.5 703.7 L1009 704.9 L1011.5 701.7 L1014 702.9 L1016.5 699.3 L1019 700.1 L1021.5 696.7 L1024 697.7 L1026.5 694.3 L1029 695.5 L1031.5 691.7 L1034 692.5 L1036.5 688.9 L1039 690.3 L1041.5 686.4 L1044 687.5 L1046.5 683.9 L1049 684.5 L1051.5 681.1 L1054 682.1 L1056.5 678.6 L1059 679.2 L1061.5 675.8 L1064 677.1 L1066.5 673.7 L1069 674.3 L1071.5 670.5 L1074 671.3 L1076.5 667.6 L1079 668.8 L1081.5 665.5 L1084 666 L1086.5 662.2 L1089 663.2 L1091.5 659.4 L1094 660.8 L1096.5 657.1 L1099 657.5 L1101.5 653.4 L1104 653.9 L1106.5 650 L1109 650.4 L1111.5 645.9 L1114 646.6 L1116.5 641.8 L1119 642.6 L1121.5 638.6 L1124 639.1 L1126.5 635.3 L1129 635.3 L1131.5 631.1 L1134 632.2 L1136.5 627.6 L1139 628.3 L1141.5 624 L1144 624.6 L1146.5 620.2 L1149 620.5 L1151.5 616.2 L1154 616.7 L1156.5 612.4 L1159 612.8 L1161.5 608.7 L1164 609.1 L1166.5 604.7 L1169 605.1 L1171.5 601 L1174 601.9 L1176.5 597.6 L1179 598.1 L1181.5 593.4 L1184 593.9 L1186.5 589.5 L1189 590.1 L1191.5 585.7 L1194 585.8 L1196.5 581.4 L1199 582 L1201.5 577.7 L1204 578.3 L1206.5 574 L1209 574.3 L1211.5 570.6 L1214 571.4 L1216.5 567 L1219 567.4 L1221.5 563.1 L1224 563.6 L1226.5 559.5 L1229 560.3 L1231.5 556.3 L1234 556.3 L1236.5 552.2 L1239 553 L1241.5 548.6 L1244 549.6 L1246.5 545.3 L1249 546.2 L1251.5 542.5 L1254 543 L1256.5 539.2 L1259 539.7 L1261.5 535.4 L1264 536.8 L1266.5 532.5 L1269 533.3 L1271.5 529.3 L1274 530.2 L1276.5 526 L1279 526.6 L1281.5 522.9 L1284 523.5 L1286.5 519.6 L1289 520.5 L1291.5 516.8 L1294 517.5 L1296.5 513.4 L1299 514.2 L1301.5 510.2 L1304 511.4 L1306.5 507.1 L1309 507.8 L1311.5 503.9 L1314 504.4 L1316.5 500.6 L1319 501.7 L1321.5 497.9 L1324 498.9 L1326.5 494.6 L1329 495.6 L1331.5 491.4 L1334 492.5 L1336.5 489 L1339 489.9 L1341.5 486 L1344 486.5 L1346.5 482.3 L1349 483.5 L1351.5 479.7 L1354 480.4 L1356.5 476.4 L1359 477.1 L1361.5 473.4 L1364 474.7 L1366.5 471.1 L1369 472.1 L1371.5 468.3 L1374 469.4 L1376.5 465.5 L1379 466.6 L1381.5 462.9 L1384 463.6 L1386.5 459.3 L1389 460.7 L1391.5 456.9 L1394 458 L1396.5 454 L1399 455.1 L1401.5 451 L1404 452 L1406.5 447.8 L1409 448.8 L1411.5 443.8 L1414 444.8 L1416.5 440.4 L1419 440.9 L1421.5 436.5 L1424 437.3 L1426.5 432.9 L1429 434.1 L1431.5 429.8 L1434 431.1 L1436.5 426.6 L1439 427.7 L1441.5 423.6 L1444 424.8 L1446.5 420.1 L1449 421.8 L1451.5 416.6 L1454 418.3 L1456.5 413.3 L1459 414.8 L1461.5 409.5 L1464 410.8 L1466.5 405.8 L1469 407.2 L1471.5 402.4 L1474 403.9 L1476.5 398.7 L1479 400.6 L1481.5 395 L1484 397.1 L1486.5 392 L1489 394 L1491.5 388.9 L1494 390.5 L1496.5 385.1 L1499 387.7 L1501.5 382.4 L1504 384.8 L1506.5 379.4 L1509 382.1 L1511.5 376.5 L1514 379.2 L1516.5 374 L1519 376.3 L1521.5 370.3 L1524 372.9 L1526.5 366.6 L1529 369.6 L1531.5 363.2 L1534 366.1 L1536.5 360.2 L1539 362.6 L1541.5 356.6 L1544 359.6 L1546.5 353.5 L1549 356.3 L1551.5 349.7 L1554 353.1 L1556.5 346.6 L1559 349.2 L1561.5 343.3 L1564 346 L1566.5 339.1 L1569 341.7 L1571.5 335 L1574 337.6 L1576.5 331.7 L1579 334 L1581.5 327.9 L1584 329.5 L1586.5 323.6 L1589 325.8 L1591.5 319.8 L1594 322.3 L1596.5 316.5 L1599 318.1 L1601.5 311.9 L1604 313.7 L1606.5 307.5 L1609 308.8 L1611.5 303.3 L1614 304.7 L1616.5 298.7 L1619 300.5 L1621.5 294.8 L1624 296.9 L1626.5 291.7 L1629 293.6 L1631.5 288.1 L1634 289.8 L1636.5 284.5 L1639 285.9 L1641.5 280.7 L1644 282.3 L1646.5 277.2 L1649 279 L1651.5 273.3 L1654 274.9 L1656.5 270.1 L1659 271.7 L1661.5 266.9 L1664 268.4 L1666.5 263.2 L1669 264.7 L1671.5 259.3 L1674 260.6 L1676.5 256 L1679 256.9 L1681.5 252 L1684 253.1 L1686.5 248.5 L1689 249.7 L1691.5 245 L1694 246.1 L1696.5 241.9 L1699 243.1 L1701.5 238.4 L1704 240 L1706.5 235.8 L1709 236.9 L1711.5 232.4 L1714 234 L1716.5 229.4 L1719 230.4 L1721.5 225.4 L1724 226.8 L1726.5 222 L1728 223.8 L1728.2 226.6 L1728.5 229.4 L1728.8 232.1 L1729 234.9 L1729.2 237.7 L1729.5 240.5 L1729.8 243.2 L1730 246 L1730.3 243.4 L1730.6 240.8 L1730.9 238.2 L1731.2 235.6 L1731.5 233 L1731.8 230.4 L1732.1 227.8 L1732.4 225.2 L1732.7 222.6 L1733 220 L1735.3 216.9 L1737.6 218 L1739.9 213.6 L1742.2 214.7 L1744.5 211.4 L1746.8 208.5 L1749.1 210.1 L1751.4 205.8 L1753.7 207.1 L1756 202.8 L1758.3 203 L1760.7 200.4 L1763.2 201.8 L1765.6 197.8 L1768 198 L1769 201 L1770 204 L1771 207 L1771.6 204.4 L1772.1 201.9 L1772.7 199.3 L1773.3 196.7 L1773.9 194.1 L1774.4 191.6 L1775 189 L1776.8 185.5 L1778.7 187 L1780.5 182.2 L1782.4 183.2 L1784.2 178.5 L1786 179.4 L1787.9 174.9 L1789.7 175.8 L1791.6 171.1 L1793.4 170.8 L1795.7 167.6 L1798.1 169.1 L1800.4 164.7 L1802.7 166 L1805 161.7 L1807.3 163.1 L1809.7 158.5 L1812 158.5 L1812.2 161 L1812.4 163.6 L1812.6 166.1 L1812.8 168.6 L1812.9 171.2 L1813.1 173.7 L1813.3 176.2 L1813.5 178.8 L1813.7 181.3 L1813.9 183.8 L1814.1 186.3 L1814.2 188.9 L1814.4 191.4 L1814.6 193.9 L1814.8 196.5 L1815 199 L1816.2 194.6 L1817.5 194.9 L1818.8 189.5 L1820 188 L1821.6 184.4 L1823.2 185.6 L1824.8 180.8 L1826.5 181.6 L1828.1 176.8 L1829.7 177.8 L1831.3 172.7 L1832.9 173.9 L1834.6 168.8 L1836.2 169.7 L1837.8 164.8 L1839.4 164.4 L1841.7 161.3 L1843.9 162.6 L1846.2 158.3 L1848.5 159.6 L1850.7 155.2 L1853 155 L1854.8 151.5 L1856.6 152.6 L1858.4 147.5 L1860.2 148.5 L1862 143.6 L1863.8 144.3 L1865.6 139.6 L1867.4 140.6 L1869.2 135.5 L1871 135" stroke="#000080" stroke-width="9.2"/>
<path d="M1903.7 165.5 L1906 300 L1907 980" stroke="#00ff40" stroke-width="9.5" stroke-linecap="round"/><path d="M289 949 L291.5 949 L294 949 L296.5 949 L299 949 L301.5 949 L304 949 L306.5 949 L309 949 L311.5 949 L314 949 L316.5 949 L319 949 L321.5 949 L324 949 L326.5 949 L329 949 L331.5 949 L334 949 L336.5 949 L339 949 L341.5 949 L344 949 L346.5 948.9 L349 948.9 L351.5 948.6 L354 948.6 L356.5 947.9 L359 948 L361.5 947 L364 947.2 L366.5 945.7 L369 946.1 L371.5 944.6 L374 944.8 L376.5 943 L379 943.2 L381.5 941.3 L384 942 L386.5 939.4 L389 940.3 L391.5 938 L394 938.8 L396.5 936.6 L399 936.9 L401.5 934.7 L404 935.3 L406.5 933.2 L409 933.9 L411.5 931.5 L414 932.1 L416.5 929.6 L419 930.5 L421.5 928.7 L424 929.4 L426.5 927.6 L429 928.1 L431.5 926 L434 927 L436.5 924.8 L439 925.8 L441.5 923.6 L444 924.2 L446.5 922.3 L449 922.7 L451.5 920.7 L454 921.4 L456.5 919 L459 919.8 L461.5 917.4 L464 918 L466.5 916.1 L469 916.6 L471.5 914.5 L474 915.1 L476.5 912.7 L479 913.4 L481.5 911.4 L484 912 L486.5 910 L489 910.4 L491.5 908.4 L494 908.8 L496.5 906.8 L499 907.3 L501.5 905 L504 905.5 L506.5 903.3 L509 903.5 L511.5 901.3 L514 901.5 L516.5 899.4 L519 899.8 L521.5 897.8 L524 898.5 L526.5 896.2 L529 896.9 L531.5 894.7 L534 895.3 L536.5 893.1 L539 894 L541.5 891.9 L544 892.3 L546.5 889.8 L549 890.6 L551.5 888.4 L554 888.8 L556.5 886.5 L559 887 L561.5 884.8 L564 885.2 L566.5 883 L569 883.6 L571.5 881.1 L574 881.5 L576.5 879.3 L579 879.9 L581.5 877.9 L584 878.4 L586.5 876.3 L589 876.8 L591.5 874.4 L594 875.2 L596.5 873.1 L599 873.6 L601.5 871.6 L604 871.8 L606.5 869.9 L609 870.4 L611.5 868.2 L614 868.4 L616.5 865.9 L619 867 L621.5 864.8 L624 865.3 L626.5 862.9 L629 863.1 L631.5 861.1 L634 861.7 L636.5 859.7 L639 860.3 L641.5 857.7 L644 858 L646.5 855.4 L649 856.2 L651.5 853.8 L654 854.4 L656.5 852.1 L659 852.6 L661.5 850.7 L664 851.2 L666.5 849.1 L669 849.6 L671.5 847.3 L674 848.1 L676.5 845.7 L679 846.2 L681.5 843.8 L684 844.6 L686.5 842.2 L689 842.5 L691.5 840.5 L694 841.3 L696.5 839.1 L699 839.8 L701.5 837.7 L704 838.4 L706.5 835.9 L709 836.4 L711.5 834.2 L714 834.7 L716.5 832.4 L719 832.8 L721.5 830.6 L724 831 L726.5 828.7 L729 829.1 L731.5 826.8 L734 827.1 L736.5 824.9 L739 825.4 L741.5 822.9 L744 823.3 L746.5 821.1 L749 821.8 L751.5 819.8 L754 820.5 L756.5 818.3 L759 819 L761.5 817.1 L764 817.8 L766.5 815.4 L769 815.9 L771.5 813.4 L774 813.8 L776.5 811.6 L779 812.3 L781.5 810.2 L784 810.7 L786.5 808.7 L789 809.2 L791.5 807.4 L794 808.2 L796.5 806.4 L799 807 L801.5 804.6 L804 804.9 L806.5 802.6 L809 803 L811.5 800.6 L814 800.8 L816.5 798.4 L819 798.6 L821.5 796.1 L824 796.3 L826.5 794 L829 794.6 L831.5 792.1 L834 792.4 L836.5 790 L839 790.4 L841.5 787.8 L844 788.4 L846.5 786.4 L849 786.7 L851.5 784 L854 784.7 L856.5 782.7 L859 783.4 L861.5 781.2 L864 781.8 L866.5 779.2 L869 779.2 L871.5 777.3 L874 778 L876.5 775.3 L879 775.2 L881.5 772.7 L884 773.1 L886.5 770.8 L889 771.2 L891.5 769.4 L894 769.5 L896.5 766.8 L899 767.4 L901.5 765.2 L904 765.4 L906.5 763 L909 763.5 L911.5 760.8 L914 760.9 L916.5 758.4 L919 759.1 L921.5 756.6 L924 757.2 L926.5 754.8 L929 755.3 L931.5 752.9 L934 753.4 L936.5 750.9 L939 751.4 L941.5 748.6 L944 749.3 L946.5 746.8 L949 747.1 L951.5 744.6 L954 744.9 L956.5 742.4 L959 742.9 L961.5 740.3 L964 740.6 L966.5 737.6 L969 738 L971.5 735.8 L974 735.9 L976.5 733.3 L979 733.6 L981.5 731.5 L984 731.5 L986.5 729 L989 729.5 L991.5 727.1 L994 727 L996.5 724.5 L999 724.8 L1001.5 722.3 L1004 722.4 L1006.5 720.2 L1009 720.7 L1011.5 718.2 L1014 718.3 L1016.5 716.1 L1019 716.6 L1021.5 714 L1024 714.1 L1026.5 711.6 L1029 711.8 L1031.5 709.1 L1034 709.3 L1036.5 706.9 L1039 707 L1041.5 704.4 L1044 704.8 L1046.5 702.7 L1049 702.7 L1051.5 699.9 L1054 700.1 L1056.5 697.3 L1059 697.1 L1061.5 694.4 L1064 694.9 L1066.5 692.2 L1069 692.2 L1071.5 690 L1074 690.3 L1076.5 687.9 L1079 688 L1081.5 685.5 L1084 685.7 L1086.5 683 L1089 683.1 L1091.5 680.2 L1094 680.2 L1096.5 677.6 L1099 677.4 L1101.5 674.9 L1104 675.1 L1106.5 672.7 L1109 672.2 L1111.5 669.2 L1114 669.1 L1116.5 666.6 L1119 666.8 L1121.5 664.1 L1124 664.2 L1126.5 661.9 L1129 662.3 L1131.5 659.6 L1134 659.6 L1136.5 656.7 L1139 656.4 L1141.5 653.2 L1144 653 L1146.5 650 L1149 649.6 L1151.5 646.7 L1154 646.8 L1156.5 643.9 L1159 644.1 L1161.5 641.1 L1164 641.1 L1166.5 638.3 L1169 638.1 L1171.5 635.3 L1174 635.2 L1176.5 632.3 L1179 632 L1181.5 629.2 L1184 629.6 L1186.5 627.2 L1189 627.5 L1191.5 625.2 L1194 625.3 L1196.5 622.3 L1199 622.1 L1201.5 619.5 L1204 619.2 L1206.5 616 L1209 616 L1211.5 613.1 L1214 612.5 L1216.5 609.8 L1219 609.6 L1221.5 606.6 L1224 606.3 L1226.5 603.2 L1229 603.3 L1231.5 600 L1234 599.9 L1236.5 597.1 L1239 596.6 L1241.5 593.6 L1244 593.8 L1246.5 591.7 L1249 592.6 L1251.5 589.9 L1254 589.7 L1256.5 586.8 L1259 586.6 L1261.5 583.9 L1264 583.9 L1266.5 581.1 L1269 580.9 L1271.5 577.8 L1274 577.7 L1276.5 574.9 L1279 574.7 L1281.5 571.5 L1284 571.1 L1286.5 568 L1289 567.8 L1291.5 565 L1294 564.9 L1296.5 561.9 L1299 561.7 L1301.5 558.5 L1304 559.2 L1306.5 557.2 L1309 558.3 L1311.5 555 L1314 554.9 L1316.5 551.8 L1319 551.5 L1321.5 548.2 L1324 547.9 L1326.5 544.9 L1329 544.6 L1331.5 541.4 L1334 541.2 L1336.5 537.7 L1339 537.5 L1341.5 534.4 L1344 534.2 L1346.5 530.9 L1349 530.5 L1351.5 527.2 L1354 527 L1356.5 523.9 L1359 523.8 L1361.5 520.4 L1364 521.5 L1366.5 519.7 L1369 521 L1371.5 517.5 L1374 517.3 L1376.5 514.2 L1379 513.3 L1381.5 510.2 L1384 509.7 L1386.5 506.1 L1389 505.5 L1391.5 502 L1394 502 L1396.5 498.7 L1399 498.2 L1401.5 494.9 L1404 494.4 L1406.5 491.3 L1409 491.2 L1411.5 487.9 L1414 487.5 L1416.5 483.7 L1419 483.3 L1421.5 480.3 L1424 481.5 L1426.5 480.2 L1429 480.7 L1431.5 477.6 L1434 477.4 L1436.5 474.1 L1439 474 L1441.5 470.6 L1444 470.5 L1446.5 467.7 L1449 466.8 L1451.5 463.6 L1454 463.3 L1456.5 460.1 L1459 459.7 L1461.5 456.4 L1464 455.8 L1466.5 451.9 L1469 451.7 L1471.5 448.6 L1474 447.9 L1476.5 444.3 L1479 443.6 L1481.5 441.1 L1484 442.6 L1486.5 441.4 L1489 441.9 L1491.5 438.5 L1494 438.3 L1496.5 435 L1499 434.6 L1501.5 431.2 L1504 430.8 L1506.5 427.5 L1509 427.2 L1511.5 424.3 L1514 423.9 L1516.5 420.5 L1519 419.8 L1521.5 416.6 L1524 416.7 L1526.5 413.3 L1529 412.8 L1531.5 409.8 L1534 409.1 L1536.5 405.8 L1539 405.8 L1541.5 404.1 L1544 406 L1546.5 404.5 L1549 404.2 L1551.5 401.1 L1554 400.2 L1556.5 396.9 L1559 396.4 L1561.5 392.5 L1564 391.7 L1566.5 388.1 L1569 387.5 L1571.5 383.9 L1574 383 L1576.5 379.3 L1579 378.3 L1581.5 374.5 L1584 373.7 L1586.5 369.9 L1589 369.1 L1591.5 365.2 L1594 364.6 L1596.5 360.8 L1599 360.5 L1601.5 359.1 L1604 361.5 L1606.5 361 L1609 360.3 L1611.5 356.7 L1614 356.2 L1616.5 352.9 L1619 352 L1621.5 348.9 L1624 348.1 L1626.5 344.6 L1629 344.3 L1631.5 341 L1634 340.9 L1636.5 337.7 L1639 337.2 L1641.5 334.3 L1644 333.4 L1646.5 330.1 L1649 329.2 L1651.5 325.6 L1654 325.1 L1656.5 321.3 L1659 320.5 L1661.5 320.1 L1664 322.4 L1666.5 321.2 L1669 320.8 L1671.5 317.6 L1674 317.2 L1676.5 313.7 L1679 312.7 L1681.5 309.3 L1684 308.6 L1686.5 305 L1689 303.9 L1691.5 300.1 L1694 299.1 L1696.5 295.2 L1699 294.5 L1701.5 291.1 L1704 290.7 L1706.5 287 L1709 285.9 L1711.5 282.7 L1714 282 L1716.5 278.2 L1719 278.2 L1721.5 277.8 L1724 279.7 L1726.5 277.7 L1729 276.8 L1731.5 272.9 L1734 271.7 L1736.5 267.8 L1739 266.9 L1741.5 263.1 L1744 261.8 L1746.5 258.4 L1749 257.2 L1751.5 253.3 L1754 252.1 L1756.5 248.1 L1759 247.3 L1761.5 243.6 L1764 242.3 L1766.5 238.7 L1769 237.4 L1771.5 233.7 L1774 232.5 L1776.5 228.9 L1779 229.9 L1781.5 229.5 L1784 232.3 L1786.5 229.9 L1789 229.5 L1791.5 225.9 L1794 225.1 L1796.5 221.7 L1799 221 L1801.5 217.3 L1804 216.8 L1806.5 212.6 L1809 212.1 L1811.5 208.4 L1814 208 L1816.5 204.4 L1819 203.9 L1821.5 200.7 L1824 200.1 L1826.5 197 L1829 196.6 L1831.5 193.3 L1834 192.4 L1836.5 189.1 L1839 188.7 L1839.4 187.1 L1840.8 188.8 L1842.2 192.5 L1843.5 193.4 L1844.9 197.1 L1846.3 198 L1847.7 201.7 L1849 202.6 L1850.4 205.7 L1851.7 202.8 L1853 201.9 L1854.2 198.3 L1855.5 197.5 L1856.8 193.9 L1858.1 193 L1859.3 189.3 L1860.6 188.4 L1861.9 184.9 L1863.2 184 L1864.4 180.4 L1865.7 179.5 L1867 176.6 L1868.8 174 L1870.6 173.6 L1872.4 170.3 L1874.2 170 L1876 167.4 L1878.6 165.6 L1881.3 166 L1883.9 163.5 L1886.6 163.9 L1889.2 161.4 L1891.9 161.8 L1894.5 160 L1896.8 160.7 L1899.1 163.5 L1901.4 163.4 L1903.7 165.5" stroke="#00ff40" stroke-width="9.2"/>
<path d="M1877 119.3 L1880 140 L1881.4 300 L1882.5 980" stroke="#00ffff" stroke-width="9.5" stroke-linecap="round"/><path d="M289 948 L291.5 948 L294 948 L296.5 948 L299 948 L301.5 948 L304 948 L306.5 948 L309 948 L311.5 948 L314 948 L316.5 948 L319 948 L321.5 948 L324 948 L326.5 948 L329 948 L331.5 948 L334 948 L336.5 948 L339 948 L341.5 948 L344 948 L346.5 947.6 L349 945.8 L351.5 942.9 L354 940.8 L356.5 938.8 L359 938.1 L361.5 936.3 L364 935.9 L366.5 934 L369 934.2 L371.5 932.2 L374 932.7 L376.5 930.2 L379 931.1 L381.5 928.3 L384 929.3 L386.5 926.6 L389 927.6 L391.5 924.7 L394 926.2 L396.5 923.2 L399 924.7 L401.5 921.9 L404 922.8 L406.5 920 L409 921.1 L411.5 918.9 L414 919.9 L416.5 917.2 L419 918.3 L421.5 915.9 L424 917.3 L426.5 914.7 L429 916 L431.5 913 L434 913.8 L436.5 910.9 L439 912.2 L441.5 909.4 L444 910.3 L446.5 907.4 L449 908.6 L451.5 905.9 L454 907 L456.5 904.6 L459 906.1 L461.5 902.9 L464 904 L466.5 901.7 L469 902.6 L471.5 899.8 L474 901.2 L476.5 898.7 L479 899.8 L481.5 897 L484 898.3 L486.5 895.9 L489 896.9 L491.5 894.6 L494 895.8 L496.5 893 L499 893.8 L501.5 891 L504 892 L506.5 889.4 L509 890.3 L511.5 888 L514 888.9 L516.5 886.2 L519 887.4 L521.5 884.9 L524 886.2 L526.5 883.3 L529 884.6 L531.5 881.8 L534 882.6 L536.5 879.9 L539 881.1 L541.5 878.2 L544 879.3 L546.5 876.5 L549 877.6 L551.5 875 L554 875.7 L556.5 873.2 L559 874.1 L561.5 871.4 L564 872.8 L566.5 870.3 L569 871.4 L571.5 868.8 L574 869.9 L576.5 867.3 L579 868.3 L581.5 865.5 L584 866.3 L586.5 863.7 L589 864.6 L591.5 862 L594 862.7 L596.5 860.2 L599 861.1 L601.5 858.3 L604 859.6 L606.5 856.9 L609 857.8 L611.5 855.1 L614 856.1 L616.5 853.5 L619 854.6 L621.5 852.1 L624 853.2 L626.5 850.8 L629 851.9 L631.5 849.3 L634 849.9 L636.5 847.2 L639 848.3 L641.5 845.3 L644 846 L646.5 843.6 L649 844.5 L651.5 842.1 L654 842.5 L656.5 840.1 L659 841.3 L661.5 838.2 L664 839 L666.5 836.4 L669 837.5 L671.5 834.3 L674 835 L676.5 832.6 L679 833.6 L681.5 830.7 L684 832.2 L686.5 829.6 L689 830.4 L691.5 827.5 L694 828.6 L696.5 825.7 L699 826.9 L701.5 824 L704 825.1 L706.5 822.3 L709 823.1 L711.5 820.4 L714 821.2 L716.5 818.4 L719 819.4 L721.5 816.6 L724 817.5 L726.5 814.8 L729 815.4 L731.5 812.2 L734 813.4 L736.5 810.7 L739 811.7 L741.5 808.6 L744 809.4 L746.5 806.6 L749 807.3 L751.5 804.5 L754 805.7 L756.5 802.8 L759 803.9 L761.5 800.9 L764 802.2 L766.5 799.5 L769 800.6 L771.5 797.9 L774 798.6 L776.5 795.8 L779 796.6 L781.5 793.3 L784 794.2 L786.5 791.2 L789 791.9 L791.5 788.5 L794 789.2 L796.5 786.3 L799 787 L801.5 784.2 L804 785.3 L806.5 782.3 L809 783.2 L811.5 780.4 L814 781.3 L816.5 778.5 L819 779.6 L821.5 776.5 L824 777.6 L826.5 774.7 L829 775.4 L831.5 772.8 L834 773.7 L836.5 770.6 L839 771.1 L841.5 767.9 L844 768.7 L846.5 765.7 L849 766 L851.5 763.1 L854 763.6 L856.5 760.5 L859 761.6 L861.5 758.7 L864 759.6 L866.5 756.5 L869 757.4 L871.5 754.3 L874 755.2 L876.5 752.1 L879 752.8 L881.5 749.9 L884 750.7 L886.5 747.2 L889 748.1 L891.5 745.1 L894 746 L896.5 742.8 L899 743.7 L901.5 740.4 L904 741.2 L906.5 738.6 L909 739.8 L911.5 736.7 L914 737.3 L916.5 734.4 L919 735.3 L921.5 731.9 L924 732.7 L926.5 729.5 L929 730 L931.5 726.8 L934 727.5 L936.5 724.1 L939 725.4 L941.5 722.4 L944 723.1 L946.5 720.1 L949 721.1 L951.5 717.6 L954 718.2 L956.5 715.2 L959 715.8 L961.5 712.5 L964 712.8 L966.5 709.7 L969 710.3 L971.5 707.2 L974 708.1 L976.5 705.2 L979 705.9 L981.5 702.6 L984 703.4 L986.5 700.4 L989 701.1 L991.5 697.5 L994 698.1 L996.5 695.1 L999 695.6 L1001.5 692.5 L1004 693.4 L1006.5 690.2 L1009 690.4 L1011.5 687.2 L1014 688 L1016.5 684.7 L1019 685.1 L1021.5 681.8 L1024 682.8 L1026.5 679.7 L1029 680.4 L1031.5 677.3 L1034 678.2 L1036.5 674.8 L1039 675.6 L1041.5 672.3 L1044 672.7 L1046.5 669.3 L1049 669.5 L1051.5 666.3 L1054 666.4 L1056.5 663.2 L1059 663.6 L1061.5 660.4 L1064 661 L1066.5 657.8 L1069 658.4 L1071.5 655.1 L1074 655.8 L1076.5 652.6 L1079 652.6 L1081.5 649.2 L1084 649.7 L1086.5 646.3 L1089 646.6 L1091.5 643.3 L1094 643.5 L1096.5 639.7 L1099 640.2 L1101.5 637.4 L1104 637.9 L1106.5 634.8 L1109 634.9 L1111.5 631.9 L1114 632.5 L1116.5 629.4 L1119 630.1 L1121.5 627 L1124 627.2 L1126.5 623.9 L1129 624.1 L1131.5 620.9 L1134 621.2 L1136.5 618 L1139 618.3 L1141.5 614.8 L1144 615.3 L1146.5 611.8 L1149 612.2 L1151.5 609 L1154 609.3 L1156.5 605.7 L1159 606.4 L1161.5 602.9 L1164 603.1 L1166.5 599.3 L1169 600.1 L1171.5 596.4 L1174 597 L1176.5 593.8 L1179 594.3 L1181.5 590.9 L1184 591.2 L1186.5 587.8 L1189 588.5 L1191.5 585 L1194 585.2 L1196.5 581.6 L1199 581.9 L1201.5 578.4 L1204 578.5 L1206.5 575 L1209 575.1 L1211.5 571.7 L1214 572 L1216.5 568.8 L1219 569.5 L1221.5 566.1 L1224 566.6 L1226.5 563.2 L1229 563.9 L1231.5 560.7 L1234 561.3 L1236.5 557.9 L1239 558.4 L1241.5 554.7 L1244 555.1 L1246.5 551.1 L1249 551.7 L1251.5 548.5 L1254 548.8 L1256.5 545.3 L1259 546.1 L1261.5 542.4 L1264 542.7 L1266.5 539.3 L1269 540.1 L1271.5 536.5 L1274 537 L1276.5 533.8 L1279 534.2 L1281.5 530.5 L1284 530.9 L1286.5 527.7 L1289 528.4 L1291.5 524.7 L1294 525.4 L1296.5 521.9 L1299 522.5 L1301.5 519 L1304 519.2 L1306.5 515.8 L1309 516.6 L1311.5 513.3 L1314 513.9 L1316.5 510.2 L1319 510.6 L1321.5 507.4 L1324 507.9 L1326.5 504.6 L1329 505.3 L1331.5 501.7 L1334 502.2 L1336.5 498.7 L1339 499.6 L1341.5 496.3 L1344 496.8 L1346.5 493.8 L1349 494.1 L1351.5 490.8 L1354 491 L1356.5 487.6 L1359 488.2 L1361.5 484.7 L1364 485 L1366.5 481.4 L1369 481.8 L1371.5 478.5 L1374 478.6 L1376.5 475.5 L1379 475.8 L1381.5 472.2 L1384 472.8 L1386.5 469.3 L1389 469.7 L1391.5 466.3 L1394 466.2 L1396.5 463 L1399 463.2 L1401.5 460 L1404 460.4 L1406.5 456.9 L1409 457.1 L1411.5 453.5 L1414 454 L1416.5 450.3 L1419 450.5 L1421.5 446.7 L1424 447 L1426.5 443.5 L1429 443.6 L1431.5 440.1 L1434 440.4 L1436.5 436.7 L1439 437 L1441.5 433.8 L1444 433.9 L1446.5 430.3 L1449 430.5 L1451.5 427 L1454 427.1 L1456.5 423.5 L1459 423.8 L1461.5 420.6 L1464 421 L1466.5 417.4 L1469 417.6 L1471.5 414.3 L1474 414.6 L1476.5 411 L1479 411.2 L1481.5 407.4 L1484 407.6 L1486.5 404.3 L1489 404.7 L1491.5 401 L1494 401.4 L1496.5 397.9 L1499 398.4 L1501.5 395 L1504 395.6 L1506.5 392 L1509 392 L1511.5 388.4 L1514 388.7 L1516.5 385.2 L1519 385.4 L1521.5 381.6 L1524 381.9 L1526.5 378.1 L1529 378.3 L1531.5 374.6 L1534 375 L1536.5 371.5 L1539 371.8 L1541.5 368.1 L1544 368.5 L1546.5 364.9 L1549 365 L1551.5 361.5 L1554 361.9 L1556.5 358.3 L1559 358.3 L1561.5 354.5 L1564 354.6 L1566.5 351 L1569 351.1 L1571.5 347.2 L1574 347.3 L1576.5 343.9 L1579 343.8 L1581.5 340.3 L1584 340.7 L1586.5 336.8 L1589 337.1 L1591.5 333.2 L1594 333.3 L1596.5 329.6 L1599 329.4 L1601.5 325.5 L1604 325.6 L1606.5 321.6 L1609 321.9 L1611.5 318.1 L1614 318.3 L1616.5 314.8 L1619 315 L1621.5 311 L1624 311.2 L1626.5 307.7 L1629 307.6 L1631.5 303.9 L1634 303.9 L1636.5 299.9 L1639 299.9 L1641.5 295.9 L1644 296.1 L1646.5 292.2 L1649 292.1 L1651.5 288.6 L1654 288.6 L1656.5 285 L1659 284.7 L1661.5 280.8 L1664 281.1 L1666.5 277.2 L1669 277 L1671.5 273.1 L1674 272.8 L1676.5 268.7 L1679 268.8 L1681.5 265 L1684 265.3 L1686.5 261.7 L1689 261.8 L1691.5 258 L1694 258.5 L1696.5 255 L1699 255.4 L1701.5 252 L1704 252.4 L1706.5 248.5 L1709 248.6 L1711.5 245.3 L1714 245.9 L1716.5 242.4 L1719 242.9 L1721.5 239.4 L1724 240.2 L1726.5 236.7 L1729 237.5 L1731.5 234.4 L1734 234.9 L1736.5 231.8 L1739 232.4 L1741.5 228.8 L1744 229 L1746.5 225.3 L1749 225.8 L1751.5 222.1 L1754 222.4 L1756.5 218.7 L1759 218.4 L1761.5 214.5 L1764 214.5 L1766.5 210.9 L1769 210.8 L1771.5 207.2 L1774 207.1 L1776.5 203 L1779 202.8 L1781.5 199.2 L1784 199.2 L1786.5 195.2 L1789 195.1 L1791.5 191 L1794 190.8 L1796.5 186.9 L1799 186.7 L1801.5 182.7 L1802.6 183.8 L1805.4 182.5 L1808.1 183.7 L1810.9 181.2 L1813.6 182.8 L1816.4 181.2 L1817.9 178.1 L1819.5 177.9 L1821 173.9 L1822.5 173.6 L1824.1 169.4 L1825.6 169.2 L1827.1 165.3 L1828.7 165 L1830.2 160.9 L1831.7 160.7 L1833.3 156.6 L1834.8 155.5 L1837.9 153.4 L1840.9 154 L1844 151.8 L1845.5 148.4 L1847.1 147.9 L1848.6 143.5 L1850.1 143 L1851.7 138.5 L1853.2 137.1 L1855.5 134.5 L1857.8 135 L1860.1 131.5 L1862.4 132 L1864.7 128.4 L1867 127.9 L1869 125.3 L1871 125.3 L1873 121.8 L1875 122 L1877 119.3" stroke="#00ffff" stroke-width="9.2"/>
<path d="M2050.9 110.7 L2053.4 131 L2054 400 L2055.5 980" stroke="#00ff00" stroke-width="10.5" stroke-linecap="round"/><path d="M289 950.6 L291.5 950.6 L294 950.6 L296.5 950.6 L299 950.6 L301.5 950.6 L304 950.6 L306.5 950.6 L309 950.6 L311.5 950.6 L314 950.6 L316.5 950.6 L319 950.6 L321.5 950.6 L324 950.6 L326.5 950.6 L329 950.6 L331.5 950.6 L334 950.6 L336.5 950.6 L339 950.6 L341.5 950.6 L344 950.6 L346.5 950.6 L349 950.7 L351.5 950.2 L354 950.5 L356.5 949.7 L359 950.3 L361.5 949 L364 949.9 L366.5 948.1 L369 949.1 L371.5 946.7 L374 947.7 L376.5 945.3 L379 946.7 L381.5 944 L384 945.5 L386.5 942.4 L389 943.9 L391.5 941.2 L394 943.1 L396.5 940.3 L399 941.5 L401.5 938.7 L404 940 L406.5 936.4 L409 938.7 L411.5 935.2 L414 936.8 L416.5 933.7 L419 935.3 L421.5 932.4 L424 934.2 L426.5 931.2 L429 932.8 L431.5 929.6 L434 931.9 L436.5 928.3 L439 930.2 L441.5 927.4 L444 928.9 L446.5 926 L449 928 L451.5 925 L454 927 L456.5 923.8 L459 925.5 L461.5 922.6 L464 924.2 L466.5 921.2 L469 922.5 L471.5 919.5 L474 921.3 L476.5 917.7 L479 919.4 L481.5 916.2 L484 917.8 L486.5 914.8 L489 916.1 L491.5 913.3 L494 914.9 L496.5 911.9 L499 913.6 L501.5 910.6 L504 912.8 L506.5 909.4 L509 910.8 L511.5 907.9 L514 909.9 L516.5 906.8 L519 908.4 L521.5 905.4 L524 906.8 L526.5 903.9 L529 905.5 L531.5 902.9 L534 904.9 L536.5 901.6 L539 903.2 L541.5 899.8 L544 901.3 L546.5 898.4 L549 900.1 L551.5 896.6 L554 898.1 L556.5 894.7 L559 896.6 L561.5 893.3 L564 895.1 L566.5 891.9 L569 893.6 L571.5 890.4 L574 891.8 L576.5 888.5 L579 890 L581.5 886.7 L584 888.4 L586.5 885.5 L589 886.8 L591.5 883.3 L594 885 L596.5 882 L599 883.5 L601.5 880.1 L604 881.4 L606.5 877.6 L609 878.8 L611.5 875.4 L614 876.7 L616.5 873.4 L619 874.7 L621.5 871.4 L624 872.7 L626.5 869.5 L629 870.5 L631.5 867 L634 868.7 L636.5 865.4 L639 867.2 L641.5 863.7 L644 865.2 L646.5 862 L649 863.8 L651.5 860.4 L654 862.2 L656.5 858.7 L659 860.3 L661.5 856.7 L664 858.1 L666.5 854.9 L669 856.2 L671.5 853.1 L674 854.8 L676.5 851.1 L679 852.8 L681.5 849.4 L684 850.7 L686.5 847.6 L689 848.9 L691.5 845.7 L694 847.2 L696.5 843.7 L699 845.2 L701.5 842 L704 844.1 L706.5 841 L709 842.4 L711.5 839.2 L714 840.4 L716.5 837.2 L719 838.9 L721.5 835.5 L724 837.2 L726.5 833.6 L729 835.2 L731.5 832.1 L734 834 L736.5 830.9 L739 832 L741.5 828.7 L744 830.6 L746.5 827.3 L749 829 L751.5 825.6 L754 827 L756.5 823.4 L759 825.2 L761.5 822 L764 823.8 L766.5 820.9 L769 822.6 L771.5 819.4 L774 820.9 L776.5 817.7 L779 819.6 L781.5 816.2 L784 817.9 L786.5 814.4 L789 815.9 L791.5 812.8 L794 814.5 L796.5 811.1 L799 812.4 L801.5 809.4 L804 811 L806.5 807.3 L809 809.3 L811.5 806.2 L814 807.8 L816.5 804.2 L819 805.8 L821.5 802.5 L824 803.5 L826.5 800.3 L829 801.7 L831.5 798.3 L834 799.4 L836.5 796.1 L839 797.6 L841.5 794.6 L844 796.2 L846.5 792.6 L849 794.4 L851.5 790.9 L854 792.6 L856.5 789.1 L859 790.7 L861.5 787.6 L864 788.8 L866.5 785.5 L869 787 L871.5 783.5 L874 785.1 L876.5 781.5 L879 783.4 L881.5 779.7 L884 781 L886.5 777.5 L889 778.8 L891.5 775.5 L894 777.2 L896.5 773.6 L899 774.8 L901.5 771.3 L904 773 L906.5 769.5 L909 771.1 L911.5 768 L914 769.3 L916.5 766 L919 767.5 L921.5 763.9 L924 764.8 L926.5 761.4 L929 762.8 L931.5 759.1 L934 760.1 L936.5 756.4 L939 757.7 L941.5 754.4 L944 755.8 L946.5 752.4 L949 754 L951.5 750.9 L954 752.1 L956.5 748.6 L959 749.9 L961.5 746.5 L964 747.7 L966.5 744.5 L969 746.1 L971.5 742.4 L974 743.7 L976.5 740 L979 741.8 L981.5 738.3 L984 739.5 L986.5 736.1 L989 737.5 L991.5 734 L994 735.1 L996.5 731.5 L999 733.4 L1001.5 729.2 L1004 730.5 L1006.5 727.1 L1009 728.2 L1011.5 724.5 L1014 725.4 L1016.5 721.8 L1019 723.1 L1021.5 719.8 L1024 721.3 L1026.5 717.4 L1029 718.5 L1031.5 715.3 L1034 716.5 L1036.5 713.2 L1039 715 L1041.5 711.5 L1044 712.4 L1046.5 708.6 L1049 710.1 L1051.5 706.4 L1054 707.7 L1056.5 704.5 L1059 705.3 L1061.5 701.5 L1064 702.6 L1066.5 698.9 L1069 700.4 L1071.5 696.6 L1074 697.8 L1076.5 694 L1079 695.2 L1081.5 691.8 L1084 693.1 L1086.5 689.5 L1089 690.8 L1091.5 686.7 L1094 688.2 L1096.5 684.3 L1099 685.7 L1101.5 681.8 L1104 683.1 L1106.5 679.6 L1109 680.7 L1111.5 676.8 L1114 678.2 L1116.5 674.7 L1119 676 L1121.5 672.1 L1124 673.1 L1126.5 668.9 L1129 670.2 L1131.5 666.4 L1134 667.8 L1136.5 663.8 L1139 665 L1141.5 661.3 L1144 662.9 L1146.5 659.3 L1149 660.7 L1151.5 656.9 L1154 658.2 L1156.5 654.4 L1159 655.5 L1161.5 651.9 L1164 653.1 L1166.5 648.9 L1169 649.7 L1171.5 646.1 L1174 647.4 L1176.5 643.7 L1179 644.5 L1181.5 640.6 L1184 641.8 L1186.5 637.9 L1189 639.1 L1191.5 635.1 L1194 636.3 L1196.5 632.4 L1199 633.3 L1201.5 629.9 L1204 630.7 L1206.5 627 L1209 628.1 L1211.5 624.5 L1214 625.6 L1216.5 621.9 L1219 623.1 L1221.5 619.6 L1224 620.8 L1226.5 617.3 L1229 618.7 L1231.5 614.7 L1234 616.2 L1236.5 612.6 L1239 613.3 L1241.5 609.9 L1244 610.9 L1246.5 607.1 L1249 607.9 L1251.5 604 L1254 604.9 L1256.5 601.2 L1259 601.9 L1261.5 598.1 L1264 598.9 L1266.5 595.2 L1269 596 L1271.5 592.5 L1274 593.6 L1276.5 589.9 L1279 590.8 L1281.5 587 L1284 588.3 L1286.5 584.6 L1289 585.5 L1291.5 581.8 L1294 582.3 L1296.5 578.9 L1299 579.6 L1301.5 575.8 L1304 577.1 L1306.5 572.9 L1309 573.9 L1311.5 570.2 L1314 571 L1316.5 566.9 L1319 567.7 L1321.5 563.9 L1324 564.9 L1326.5 560.9 L1329 561.8 L1331.5 557.6 L1334 558.7 L1336.5 554.8 L1339 555.9 L1341.5 552.3 L1344 553 L1346.5 549 L1349 550 L1351.5 546.5 L1354 547.3 L1356.5 543.4 L1359 544.8 L1361.5 540.9 L1364 541.8 L1366.5 537.9 L1369 539.1 L1371.5 534.9 L1374 535.5 L1376.5 531.6 L1379 532.6 L1381.5 528.7 L1384 529.7 L1386.5 525.5 L1389 526.9 L1391.5 522.9 L1394 524.2 L1396.5 520.5 L1399 521.2 L1401.5 517.3 L1404 518.3 L1406.5 514.2 L1409 515 L1411.5 510.7 L1414 511.8 L1416.5 507.9 L1419 508.8 L1421.5 505.1 L1424 505.8 L1426.5 502 L1429 503.2 L1431.5 499.8 L1434 500.6 L1436.5 496.4 L1439 497 L1441.5 493.3 L1444 493.6 L1446.5 489.8 L1449 490.2 L1451.5 486.3 L1454 486.7 L1456.5 482.9 L1459 483.8 L1461.5 480 L1464 480.5 L1466.5 476.5 L1469 477.4 L1471.5 473.4 L1474 474.3 L1476.5 470.4 L1479 471 L1481.5 466.8 L1484 467.5 L1486.5 463.3 L1489 464.1 L1491.5 460.1 L1494 460.9 L1496.5 457.1 L1499 457.7 L1501.5 453.7 L1504 454.7 L1506.5 450.6 L1509 451.8 L1511.5 447.8 L1514 448.7 L1516.5 444.6 L1519 444.9 L1521.5 441 L1524 442 L1526.5 438 L1529 438.7 L1531.5 434.4 L1534 435.4 L1536.5 431.3 L1539 432.4 L1541.5 428.6 L1544 429.4 L1546.5 424.7 L1549 425.6 L1551.5 421.4 L1554 422.4 L1556.5 417.9 L1559 418.5 L1561.5 414.9 L1564 415.5 L1566.5 411.5 L1569 412.5 L1571.5 408.4 L1574 409.2 L1576.5 404.8 L1579 405.7 L1581.5 401.7 L1584 402.7 L1586.5 398.7 L1589 399.4 L1591.5 395.3 L1594 396 L1596.5 392.2 L1599 393.1 L1601.5 389 L1604 389.8 L1606.5 385.7 L1609 386.7 L1611.5 382.6 L1614 383.7 L1616.5 379.8 L1619 380.8 L1621.5 376.9 L1624 377.6 L1626.5 373.6 L1629 374.2 L1631.5 369.9 L1634 370.8 L1636.5 366.9 L1639 367.7 L1641.5 363.9 L1644 364.9 L1646.5 361 L1649 362.1 L1651.5 358.5 L1654 360.2 L1656.5 356.2 L1659 357.4 L1661.5 353.6 L1664 354.3 L1666.5 350.4 L1669 351 L1671.5 347.1 L1674 347.6 L1676.5 343.5 L1679 344.6 L1681.5 339.9 L1684 340.7 L1686.5 336.7 L1689 337.5 L1691.5 333.6 L1694 334.4 L1696.5 330.3 L1699 331.1 L1701.5 326.9 L1704 327.7 L1706.5 323.7 L1709 324.8 L1711.5 320.8 L1714 321.4 L1716.5 317.4 L1719 318.2 L1721.5 314.1 L1724 314.9 L1726.5 310.4 L1729 311.5 L1731.5 306.8 L1734 307.4 L1736.5 303.3 L1739 304.3 L1741.5 299.9 L1744 300.7 L1746.5 296.4 L1749 297.5 L1751.5 292.9 L1754 293.5 L1756.5 289.6 L1759 290 L1761.5 285.4 L1764 285.7 L1766.5 281.2 L1769 281.5 L1771.5 276.8 L1774 276.9 L1776.5 272.6 L1779 273.2 L1781.5 268.5 L1784 268.8 L1786.5 264.9 L1789 265.9 L1791.5 261.9 L1794 262.9 L1796.5 258.7 L1799 259.6 L1801.5 255.6 L1804 256.2 L1806.5 252.4 L1809 253.3 L1811.5 249.3 L1814 250.3 L1816.5 246.2 L1819 247.1 L1821.5 242.8 L1824 243.6 L1826.5 239.6 L1829 240.3 L1831.5 235.8 L1834 236.7 L1836.5 231.5 L1839 232 L1841.5 227.7 L1844 227.9 L1846.5 224.1 L1849 224.5 L1851.5 220.5 L1854 221 L1856.5 216.3 L1859 217.3 L1861.5 212.7 L1864 213.2 L1866.5 209.3 L1869 209.7 L1871.5 206.7 L1874 207.6 L1876.5 204.4 L1879 206.1 L1881.5 202.2 L1884 203.4 L1886.5 199.7 L1889 200.3 L1891.5 195.6 L1894 195.1 L1896.5 189.7 L1899 189.6 L1901.5 184.4 L1904 184.7 L1906.5 180.1 L1909 180.9 L1911.5 177 L1914 178.3 L1916.5 173.9 L1919 174.5 L1921.5 170.1 L1924 170.9 L1926.5 166.6 L1929 167 L1931.5 162.2 L1934 162.4 L1936.5 157.5 L1939 157.8 L1941.5 153.1 L1944 153.6 L1946.5 148.8 L1949 148.8 L1951.5 144 L1952.5 145.9 L1953.4 148.5 L1954.3 151 L1955.3 153.6 L1956.2 156.2 L1957.1 158.8 L1958 161.4 L1958.9 164 L1959.9 166.5 L1960.8 169.1 L1961.7 171.7 L1962.6 169.4 L1963.5 167 L1964.4 164.7 L1965.2 162.3 L1966.1 160 L1967 157.6 L1967.9 155.3 L1968.8 152.9 L1969.7 150.6 L1970.6 148.2 L1971.5 145.9 L1972.3 143.5 L1973.2 141.2 L1974.1 138.8 L1975 136.5 L1977.3 133.9 L1979.6 135.1 L1981.8 131.4 L1984.1 132.2 L1986.4 128.6 L1988.7 128.5 L1990.4 125 L1992.1 125.7 L1993.8 120.8 L1995.5 121.3 L1997.2 116.6 L1998.9 115.8 L2000.9 116.5 L2003 121.3 L2005 122 L2006.8 118.6 L2008.6 118.7 L2010.4 113.9 L2012.2 114.3 L2014 110.7 L2016.1 107.5 L2018.3 108.2 L2020.4 103.7 L2022.5 104.2 L2024.7 99.9 L2026.8 99.3 L2029.3 95.9 L2031.9 96.2 L2034.4 93 L2036.9 91.6 L2039.4 93.7 L2042 90.8 L2044.5 93.3 L2047 91.7 L2047.6 94.4 L2048.1 97.1 L2048.7 99.8 L2049.2 102.6 L2049.8 105.3 L2050.3 108 L2050.9 110.7" stroke="#00ff00" stroke-width="9.2"/>
<path d="M1704.5 320 L1708 980" stroke="#80ff00" stroke-width="9.5" stroke-linecap="round"/><path d="M289 948 L291.5 948 L294 948 L296.5 948 L299 948 L301.5 948 L304 948 L306.5 948 L309 948 L311.5 948 L314 948 L316.5 948 L319 948 L321.5 948 L324 948 L326.5 948 L329 948 L331.5 948 L334 948 L336.5 948 L339 948 L341.5 948 L344 948 L346.5 947.8 L349 946.7 L351.5 944.7 L354 943 L356.5 941 L359 940.5 L361.5 938.8 L364 938.7 L366.5 936.7 L369 936.6 L371.5 934.5 L374 935.4 L376.5 933.3 L379 934.1 L381.5 931.6 L384 932.8 L386.5 930.3 L389 931.8 L391.5 929.2 L394 929.9 L396.5 927.3 L399 928.6 L401.5 926.1 L404 927.7 L406.5 925.1 L409 926.1 L411.5 923.9 L414 925.2 L416.5 922.5 L419 923.5 L421.5 920.7 L424 921.7 L426.5 919.1 L429 919.7 L431.5 917.5 L434 918.5 L436.5 915.9 L439 917.3 L441.5 915 L444 916.2 L446.5 914 L449 914.8 L451.5 912.7 L454 913.3 L456.5 910.8 L459 912 L461.5 909 L464 910.2 L466.5 907.5 L469 908.5 L471.5 906.1 L474 907 L476.5 904.9 L479 905.7 L481.5 903 L484 904.2 L486.5 901.4 L489 902.3 L491.5 899.6 L494 900.8 L496.5 897.7 L499 898.7 L501.5 896 L504 897.1 L506.5 894.8 L509 896.1 L511.5 893.6 L514 894.9 L516.5 892.3 L519 893.6 L521.5 891.1 L524 892.1 L526.5 889.4 L529 890.2 L531.5 887.3 L534 888.2 L536.5 885.2 L539 886.4 L541.5 883.4 L544 884.3 L546.5 881.5 L549 882.5 L551.5 879.7 L554 880.9 L556.5 878.1 L559 879 L561.5 876 L564 877.2 L566.5 874.7 L569 875.9 L571.5 873.2 L574 874 L576.5 871.6 L579 872.4 L581.5 869.8 L584 871 L586.5 868.2 L589 869.1 L591.5 866.2 L594 867.8 L596.5 865.1 L599 866.1 L601.5 863.4 L604 864.3 L606.5 861.7 L609 862.7 L611.5 859.7 L614 861.1 L616.5 858.2 L619 859.3 L621.5 856.6 L624 857.5 L626.5 854.6 L629 855.4 L631.5 853 L634 854 L636.5 851.3 L639 852.2 L641.5 849.5 L644 850.7 L646.5 847.9 L649 849.1 L651.5 846.3 L654 847.2 L656.5 844.5 L659 845.1 L661.5 842.3 L664 843.4 L666.5 840.3 L669 841.6 L671.5 838.6 L674 840.1 L676.5 836.9 L679 837.5 L681.5 834.9 L684 836.1 L686.5 833 L689 833.8 L691.5 830.9 L694 832.3 L696.5 829.2 L699 830.2 L701.5 827.5 L704 828 L706.5 825.4 L709 826.4 L711.5 824 L714 824.9 L716.5 821.9 L719 822.8 L721.5 820.1 L724 821 L726.5 818.1 L729 818.9 L731.5 815.9 L734 817.1 L736.5 814 L739 814.7 L741.5 812 L744 812.8 L746.5 810 L749 811.1 L751.5 808 L754 809.3 L756.5 806 L759 807.1 L761.5 804.3 L764 805 L766.5 801.9 L769 802.6 L771.5 799.8 L774 800.7 L776.5 797.8 L779 798.6 L781.5 795.6 L784 796.3 L786.5 793.5 L789 795 L791.5 792.3 L794 793.3 L796.5 790.6 L799 791.6 L801.5 789 L804 790.1 L806.5 787.1 L809 788.1 L811.5 784.8 L814 785.7 L816.5 782.5 L819 783.2 L821.5 780.1 L824 780.8 L826.5 777.6 L829 778.8 L831.5 775.7 L834 776.9 L836.5 773.8 L839 774.8 L841.5 772 L844 772.9 L846.5 769.8 L849 770.5 L851.5 767.4 L854 768.2 L856.5 765 L859 765.8 L861.5 763 L864 764 L866.5 760.8 L869 761.9 L871.5 758.8 L874 759.5 L876.5 756.9 L879 757.9 L881.5 755.1 L884 756.1 L886.5 753.3 L889 753.9 L891.5 751 L894 751.9 L896.5 749 L899 749.4 L901.5 746.3 L904 747.2 L906.5 743.8 L909 744.6 L911.5 741.7 L914 742.2 L916.5 739 L919 739.7 L921.5 736.7 L924 737.3 L926.5 734 L929 734.9 L931.5 731.9 L934 732.8 L936.5 729.9 L939 730.7 L941.5 727.6 L944 728.3 L946.5 725.6 L949 726.6 L951.5 723.7 L954 724.4 L956.5 721.5 L959 722.4 L961.5 719.4 L964 720 L966.5 717.2 L969 717.8 L971.5 714.7 L974 715.7 L976.5 712.4 L979 713.3 L981.5 709.9 L984 710.4 L986.5 707.1 L989 707.7 L991.5 704.5 L994 705.2 L996.5 702.2 L999 703.2 L1001.5 700.2 L1004 700.9 L1006.5 697.8 L1009 698.9 L1011.5 695.6 L1014 696.4 L1016.5 693.3 L1019 693.8 L1021.5 690.7 L1024 691.1 L1026.5 688 L1029 689.2 L1031.5 685.6 L1034 686.3 L1036.5 683.2 L1039 683.3 L1041.5 680.5 L1044 680.7 L1046.5 677.7 L1049 678.6 L1051.5 674.9 L1054 675.9 L1056.5 672.6 L1059 673.1 L1061.5 669.9 L1064 670.6 L1066.5 667.2 L1069 667.8 L1071.5 664.5 L1074 665.1 L1076.5 661.7 L1079 662.5 L1081.5 659.4 L1084 660.6 L1086.5 657.5 L1089 658 L1091.5 654.6 L1094 655.2 L1096.5 651.8 L1099 652.6 L1101.5 649.1 L1104 649.8 L1106.5 646.3 L1109 646.7 L1111.5 643 L1114 643.7 L1116.5 640.4 L1119 640.6 L1121.5 637.1 L1124 637.7 L1126.5 634.1 L1129 634.6 L1131.5 631.3 L1134 631.9 L1136.5 628.2 L1139 628.7 L1141.5 625.7 L1144 626.6 L1146.5 623.6 L1149 624.1 L1151.5 620.4 L1154 620.5 L1156.5 617 L1159 617.4 L1161.5 613.7 L1164 614.3 L1166.5 611.5 L1169 611.5 L1171.5 608.3 L1174 609 L1176.5 605.7 L1179 605.9 L1181.5 602.7 L1184 603 L1186.5 599.2 L1189 599.3 L1191.5 595.6 L1194 596 L1196.5 592.4 L1199 593 L1201.5 590.6 L1204 591.6 L1206.5 588.6 L1209 588.8 L1211.5 585.3 L1214 585.5 L1216.5 581.6 L1219 581.8 L1221.5 578.5 L1224 579 L1226.5 575.4 L1229 575.5 L1231.5 572.1 L1234 572.2 L1236.5 568.7 L1239 569.3 L1241.5 565.8 L1244 565.8 L1246.5 562.2 L1249 562.7 L1251.5 559.2 L1254 559.7 L1256.5 556.1 L1259 557.2 L1261.5 555 L1264 556.8 L1266.5 553.7 L1269 553.8 L1271.5 550.3 L1274 550.7 L1276.5 547.2 L1279 547.6 L1281.5 544.3 L1284 544.4 L1286.5 541.1 L1289 541.6 L1291.5 538.6 L1294 538.8 L1296.5 535.6 L1299 535.9 L1301.5 532.6 L1304 532.8 L1306.5 529.2 L1309 530 L1311.5 526.5 L1314 526.9 L1316.5 523.3 L1319 524.6 L1321.5 522.6 L1324 524.3 L1326.5 520.7 L1329 520.9 L1331.5 517.3 L1334 517.6 L1336.5 513.8 L1339 514.1 L1341.5 510.7 L1344 510.9 L1346.5 507.4 L1349 507.9 L1351.5 504.2 L1354 504.4 L1356.5 500.7 L1359 501.8 L1361.5 498.2 L1364 498.6 L1366.5 495.1 L1369 495.5 L1371.5 492 L1374 492.5 L1376.5 489.2 L1379 491.2 L1381.5 489.4 L1384 491.2 L1386.5 487.4 L1389 487.5 L1391.5 483.8 L1394 483.6 L1396.5 479.9 L1399 479.8 L1401.5 476.3 L1404 476.1 L1406.5 472.1 L1409 472.2 L1411.5 468.2 L1414 468 L1416.5 464.4 L1419 464.2 L1421.5 460 L1424 460.1 L1426.5 456.2 L1429 456.1 L1431.5 452.2 L1434 451.9 L1436.5 448.4 L1439 450.5 L1441.5 448.4 L1444 449.9 L1446.5 446 L1449 445.9 L1451.5 441.7 L1454 441.6 L1456.5 437.6 L1459 437.1 L1461.5 433.2 L1464 432.8 L1466.5 428.7 L1469 428.5 L1471.5 424.2 L1474 424.1 L1476.5 420 L1479 419.9 L1481.5 415.7 L1484 415.5 L1486.5 410.9 L1489 410.6 L1491.5 406.7 L1494 406.2 L1496.5 402.7 L1499 405.1 L1501.5 403.6 L1504 404.2 L1506.5 400.2 L1509 400.4 L1511.5 396.2 L1514 395.8 L1516.5 392.1 L1519 392.4 L1521.5 388.6 L1524 388.2 L1526.5 384.6 L1529 384.5 L1531.5 380.6 L1534 380.9 L1536.5 376.9 L1539 377.1 L1541.5 373.2 L1544 373.1 L1546.5 369.3 L1549 369.5 L1551.5 365.8 L1554 365.8 L1556.5 364.1 L1559 367 L1561.5 366.3 L1564 366.5 L1566.5 362.7 L1569 362.8 L1571.5 358.6 L1574 358.6 L1576.5 354.3 L1579 354.4 L1581.5 350.4 L1584 350.2 L1586.5 346.6 L1589 346.5 L1591.5 342.6 L1594 342.4 L1596.5 338.3 L1599 338.7 L1601.5 334.7 L1604 334.9 L1606.5 331.1 L1609 331.2 L1611.5 327.5 L1614 327.6 L1616.5 326.8 L1619 330.7 L1621.5 330.3 L1624 330 L1626.5 326.2 L1629 326.1 L1631.5 322.2 L1634 322 L1636.5 318.2 L1639 318 L1641.5 313.7 L1644 313.3 L1646.5 309.2 L1649 308.6 L1651.5 304.7 L1654 304.4 L1656.5 300.2 L1659 299.6 L1661.5 297.1 L1664 296.9 L1666.5 292.7 L1669 292.4 L1671.5 288.3 L1674 287.5 L1676.5 282.8 L1679 282.1 L1681.5 277.7 L1684 277.3 L1684.8 274.2 L1686.6 274.9 L1688.5 278.7 L1690.3 278.6 L1692.2 282.3 L1694 283 L1695 284.4 L1696 288.7 L1697 289.1 L1698 293.2 L1699 293.7 L1700 297 L1700.5 299.6 L1701 302.1 L1701.5 304.7 L1702 307.2 L1702.5 309.8 L1703 312.3 L1703.5 314.9 L1704 317.4 L1704.5 320" stroke="#80ff00" stroke-width="9.2"/>
<path d="M1843 216 L1845.5 300 L1846.5 980" stroke="#ffff00" stroke-width="9.5" stroke-linecap="round"/><path d="M289 948.6 L291.5 948.6 L294 948.6 L296.5 948.6 L299 948.6 L301.5 948.6 L304 948.6 L306.5 948.6 L309 948.6 L311.5 948.6 L314 948.6 L316.5 948.6 L319 948.6 L321.5 948.6 L324 948.6 L326.5 948.6 L329 948.6 L331.5 948.6 L334 948.6 L336.5 948.6 L339 948.6 L341.5 948.6 L344 948.6 L346.5 948.6 L349 948.7 L351.5 948.5 L354 948.8 L356.5 947.6 L359 946.9 L361.5 944.6 L364 944.2 L366.5 942.1 L369 942.2 L371.5 940 L374 940.6 L376.5 937.9 L379 938 L381.5 935.6 L384 936.4 L386.5 933.9 L389 934.7 L391.5 932.1 L394 933.1 L396.5 930.4 L399 931.8 L401.5 929.3 L404 930.7 L406.5 928.1 L409 929.1 L411.5 926.6 L414 927.9 L416.5 925.3 L419 926.5 L421.5 923.7 L424 924.9 L426.5 922.1 L429 923.2 L431.5 921 L434 922 L436.5 919.2 L439 920.3 L441.5 917.6 L444 919 L446.5 916.2 L449 917.4 L451.5 915 L454 916.4 L456.5 914.2 L459 915.4 L461.5 912.8 L464 914.2 L466.5 912 L469 913.3 L471.5 910.8 L474 911.8 L476.5 909.8 L479 910.8 L481.5 908.3 L484 909.7 L486.5 907.1 L489 908.3 L491.5 905.9 L494 906.8 L496.5 904.7 L499 905.7 L501.5 903.1 L504 904.5 L506.5 901.9 L509 903.1 L511.5 900.6 L514 901.4 L516.5 899.2 L519 900.2 L521.5 897.9 L524 899 L526.5 896.5 L529 897.9 L531.5 895 L534 896.5 L536.5 894.1 L539 895.3 L541.5 892.6 L544 893.9 L546.5 891.6 L549 892.9 L551.5 890.1 L554 891.5 L556.5 888.6 L559 889.9 L561.5 887.1 L564 888.5 L566.5 886 L569 886.8 L571.5 883.8 L574 884.8 L576.5 881.9 L579 882.9 L581.5 880 L584 881.2 L586.5 878.1 L589 878.7 L591.5 875.8 L594 877.2 L596.5 873.9 L599 875.2 L601.5 872.5 L604 873.3 L606.5 870.2 L609 871.4 L611.5 868.8 L614 869.6 L616.5 866.5 L619 868 L621.5 865.3 L624 865.9 L626.5 863.2 L629 864.4 L631.5 861.5 L634 862.7 L636.5 860.1 L639 860.6 L641.5 857.7 L644 858.7 L646.5 856 L649 857 L651.5 853.8 L654 855 L656.5 851.7 L659 852.8 L661.5 849.8 L664 850.8 L666.5 848 L669 849 L671.5 846 L674 847 L676.5 844.4 L679 845.4 L681.5 842.3 L684 843.4 L686.5 840.4 L689 841.3 L691.5 838.9 L694 839.9 L696.5 836.6 L699 837.6 L701.5 834.7 L704 835.9 L706.5 832.9 L709 834 L711.5 831.6 L714 832.3 L716.5 829.6 L719 830.9 L721.5 827.8 L724 829 L726.5 826.1 L729 827 L731.5 824 L734 824.5 L736.5 822.1 L739 823 L741.5 820.3 L744 821.5 L746.5 818.6 L749 819.6 L751.5 817.3 L754 818.1 L756.5 815.6 L759 816.4 L761.5 813.4 L764 814.4 L766.5 811.7 L769 812.4 L771.5 809.5 L774 810.5 L776.5 808 L779 808.7 L781.5 805.8 L784 806.6 L786.5 803.7 L789 804.7 L791.5 802.2 L794 803.3 L796.5 799.9 L799 800.7 L801.5 797.9 L804 798.6 L806.5 796.1 L809 797.1 L811.5 793.8 L814 794.9 L816.5 792.3 L819 793.2 L821.5 790.3 L824 791.2 L826.5 788.3 L829 789.5 L831.5 786.5 L834 787.8 L836.5 784.9 L839 785.6 L841.5 782.8 L844 783.7 L846.5 781 L849 782.1 L851.5 778.8 L854 779.7 L856.5 776.3 L859 777.5 L861.5 774.5 L864 775.1 L866.5 772.1 L869 772.7 L871.5 770 L874 771 L876.5 768.3 L879 769.1 L881.5 766.1 L884 766.6 L886.5 763.6 L889 764.3 L891.5 761.6 L894 762.4 L896.5 759.4 L899 760.2 L901.5 757 L904 758.1 L906.5 755.4 L909 756 L911.5 753.4 L914 753.9 L916.5 751 L919 751.5 L921.5 748.6 L924 749.7 L926.5 746.8 L929 747.6 L931.5 744.8 L934 745.5 L936.5 742.7 L939 743 L941.5 740.1 L944 740.8 L946.5 737.9 L949 738.5 L951.5 735.3 L954 736.1 L956.5 733.4 L959 734.5 L961.5 731.6 L964 732.5 L966.5 729.5 L969 730.3 L971.5 727.3 L974 728 L976.5 725.4 L979 726.3 L981.5 723.2 L984 723.8 L986.5 721 L989 721.7 L991.5 718.6 L994 719.2 L996.5 716.1 L999 716.7 L1001.5 713.4 L1004 714.3 L1006.5 710.9 L1009 711.6 L1011.5 708.7 L1014 710 L1016.5 707.4 L1019 708.7 L1021.5 705.7 L1024 706.5 L1026.5 703.2 L1029 704.5 L1031.5 701.2 L1034 701.8 L1036.5 698.6 L1039 699.2 L1041.5 696.2 L1044 696.8 L1046.5 693.4 L1049 694.3 L1051.5 691 L1054 691.6 L1056.5 688.2 L1059 689.1 L1061.5 685.5 L1064 686.5 L1066.5 683.1 L1069 684 L1071.5 680.7 L1074 681.7 L1076.5 679.2 L1079 680.1 L1081.5 676.8 L1084 677.5 L1086.5 674 L1089 674.5 L1091.5 671.8 L1094 672.4 L1096.5 669.1 L1099 669.7 L1101.5 666.4 L1104 667.2 L1106.5 664 L1109 664.5 L1111.5 661.2 L1114 661.3 L1116.5 657.5 L1119 658.1 L1121.5 654.7 L1124 655.1 L1126.5 651.4 L1129 651.6 L1131.5 648.5 L1134 650.1 L1136.5 647.6 L1139 648.5 L1141.5 645.1 L1144 645.5 L1146.5 642.2 L1149 642.3 L1151.5 638.9 L1154 639.4 L1156.5 636.1 L1159 636.2 L1161.5 633 L1164 633.2 L1166.5 629.5 L1169 629.7 L1171.5 626.4 L1174 626.9 L1176.5 623.1 L1179 623.3 L1181.5 619.8 L1184 620 L1186.5 616.8 L1189 616.9 L1191.5 614.7 L1194 616.6 L1196.5 614.4 L1199 614.8 L1201.5 611.3 L1204 611.7 L1206.5 608.2 L1209 608.4 L1211.5 604.6 L1214 604.6 L1216.5 600.6 L1219 601.2 L1221.5 597.5 L1224 597.9 L1226.5 594.2 L1229 594.4 L1231.5 591 L1234 591.4 L1236.5 587.9 L1239 588.4 L1241.5 584.5 L1244 584.7 L1246.5 581.2 L1249 581.4 L1251.5 579.4 L1254 581.1 L1256.5 578.9 L1259 578.9 L1261.5 575.5 L1264 575.5 L1266.5 572 L1269 572.2 L1271.5 568.8 L1274 569.2 L1276.5 565.3 L1279 565.3 L1281.5 561.7 L1284 562.4 L1286.5 559 L1289 559.2 L1291.5 555.6 L1294 555.7 L1296.5 552.4 L1299 552.7 L1301.5 549.2 L1304 549.7 L1306.5 545.8 L1309 546.4 L1311.5 544.2 L1314 546.4 L1316.5 543.6 L1319 543.8 L1321.5 540.2 L1324 540.3 L1326.5 536.1 L1329 536.6 L1331.5 532.9 L1334 533.1 L1336.5 529.6 L1339 529.9 L1341.5 526 L1344 526.3 L1346.5 522.7 L1349 522.8 L1350 520 L1351.9 517.4 L1353.8 517.5 L1355.7 514 L1357.6 514.1 L1359.5 510.7 L1361.4 510.7 L1363.3 507.1 L1365.2 507.5 L1367.1 503.8 L1369 503 L1371 504.4 L1373 508.6 L1375 510 L1376.9 507.4 L1378.8 507.6 L1380.7 504.2 L1382.6 504.4 L1384.5 500.8 L1386.4 500.9 L1388.3 497.5 L1390.2 497.7 L1392.1 494.1 L1394 494.3 L1395.9 490.8 L1397.8 491.2 L1399.7 487.4 L1401.6 487.7 L1403.4 484.3 L1405.3 484.5 L1407.2 480.9 L1409.1 481.2 L1411 477.7 L1412.9 477.8 L1414.8 474.4 L1416.7 474.6 L1418.6 471 L1420.5 471.1 L1422.4 467.7 L1424.3 467.8 L1426.2 464.4 L1428.1 464.7 L1430 462 L1431.2 463.4 L1432.4 467.8 L1433.6 468.1 L1434.8 472.5 L1436 474 L1437.8 471.1 L1439.6 471.4 L1441.4 467.5 L1443.2 467.6 L1445 463.9 L1446.8 463.9 L1448.6 460.2 L1450.3 460.4 L1452.1 456.6 L1453.9 456.6 L1455.7 452.8 L1457.5 453.1 L1459.3 449.2 L1461.1 449.4 L1462.9 445.5 L1464.7 445.7 L1466.5 442.1 L1468.3 442.1 L1470.1 438.2 L1471.9 438.3 L1473.7 434.6 L1475.4 434.6 L1477.2 431.1 L1479 431.2 L1480.8 427.3 L1482.6 427.4 L1484.4 423.7 L1486.2 423.8 L1488 421 L1488.9 423.4 L1489.8 425.8 L1490.6 428.1 L1491.5 430.5 L1492.4 432.9 L1493.2 435.2 L1494.1 437.6 L1495 440 L1496.6 437 L1498.1 436.9 L1499.7 433.1 L1501.3 433 L1502.9 429.3 L1504.4 429.1 L1506 425.4 L1507.6 425.3 L1509.1 421.3 L1510.7 421.3 L1512.3 417.5 L1513.9 417.4 L1515.4 413.6 L1517 413.5 L1518.6 409.6 L1520.1 409.6 L1521.7 405.7 L1523.3 405.6 L1524.9 401.7 L1526.4 401.7 L1528 397.7 L1529.6 397.7 L1531.1 393.9 L1532.7 393.8 L1534.3 390.1 L1535.9 389.9 L1537.4 385.9 L1539 385 L1540.1 386.5 L1541.2 390.8 L1542.3 391.3 L1543.4 395.5 L1544.5 396.1 L1545.6 400.3 L1546.7 400.9 L1547.8 405.2 L1548.9 405.7 L1550 409 L1551.5 405.8 L1552.9 405.7 L1554.4 401.5 L1555.9 401.2 L1557.4 397.2 L1558.8 396.8 L1560.3 392.9 L1561.8 392.6 L1563.2 388.4 L1564.7 388.1 L1566.2 384.1 L1567.6 383.9 L1569.1 379.7 L1570.6 379.4 L1572.1 375.4 L1573.5 375.2 L1575 372 L1576.9 369.3 L1578.9 369.3 L1580.8 365.3 L1582.7 365.6 L1584.6 361.7 L1586.6 361.7 L1588.5 358.1 L1590.4 358.1 L1592.4 354.2 L1594.3 354.5 L1596.2 350.6 L1598.1 350.6 L1600.1 346.8 L1602 346 L1602.4 348.6 L1602.9 351.3 L1603.3 353.9 L1603.7 356.6 L1604.1 359.2 L1604.6 361.9 L1605 364.5 L1605.4 367.1 L1605.9 369.8 L1606.3 372.4 L1606.7 375.1 L1607.1 377.7 L1607.6 380.4 L1608 383 L1609.4 380.1 L1610.8 379.7 L1612.2 375.8 L1613.6 375.5 L1615 371.7 L1616.3 371.4 L1617.7 367.3 L1619.1 367.3 L1620.5 363.2 L1621.9 363 L1623.3 359.1 L1624.7 359 L1626.1 354.9 L1627.5 354.9 L1628.9 350.8 L1630.3 350.7 L1631.7 346.6 L1633 346.4 L1634.4 342.3 L1635.8 342.3 L1637.2 338.3 L1638.6 338.1 L1640 335 L1641.9 332.3 L1643.7 332.6 L1645.6 328.7 L1647.5 329 L1649.3 325.4 L1651.2 325.5 L1653.1 321.8 L1654.9 322 L1656.8 318.4 L1658.7 318.5 L1660.5 315.1 L1662.4 315.2 L1664.3 311.6 L1666.1 311.7 L1668 309 L1668.5 311.6 L1668.9 314.3 L1669.4 316.9 L1669.8 319.5 L1670.3 322.2 L1670.7 324.8 L1671.2 327.5 L1671.6 330.1 L1672.1 332.7 L1672.5 335.4 L1673 338 L1674.2 334.9 L1675.5 334.6 L1676.7 330.5 L1677.9 330.2 L1679.1 326.2 L1680.4 326 L1681.6 321.8 L1682.8 321.6 L1684 317.5 L1685.3 317.2 L1686.5 313 L1687.7 312.8 L1689 308.7 L1690.2 308.5 L1691.4 304.4 L1692.6 304.1 L1693.9 300.1 L1695.1 299.7 L1696.3 295.7 L1697.5 295.2 L1698.8 291.1 L1700 290 L1701.6 287.1 L1703.2 286.7 L1704.9 283 L1706.5 282.8 L1708.1 278.7 L1709.8 278.7 L1711.4 274.6 L1713 274.5 L1714.6 270.6 L1716.2 270.4 L1717.9 266.4 L1719.5 266.2 L1721.1 262.3 L1722.8 262 L1724.4 258 L1726 257 L1726.6 259.5 L1727.3 262 L1727.9 264.5 L1728.6 267 L1729.2 269.5 L1729.9 272 L1730.5 274.5 L1731.1 277 L1731.8 279.5 L1732.4 282 L1733.1 284.5 L1733.7 287 L1734.4 289.5 L1735 292 L1735.7 289.5 L1736.3 287.1 L1737 284.6 L1737.7 282.1 L1738.3 279.7 L1739 277.2 L1739.7 274.7 L1740.3 272.3 L1741 269.8 L1741.7 267.3 L1742.3 264.9 L1743 262.4 L1743.7 259.9 L1744.3 257.5 L1745 255 L1746.2 251.7 L1747.4 251.6 L1748.5 247.3 L1749.7 247 L1750.9 242.9 L1752.1 242.7 L1753.2 238.4 L1754.4 238.2 L1755.6 235 L1756.7 236.5 L1757.7 240.7 L1758.8 241 L1759.8 245.4 L1760.9 245.7 L1761.9 250.1 L1763 251.5 L1764.2 248.4 L1765.5 248 L1766.8 243.8 L1768 243.6 L1769.2 239.4 L1770.5 239.2 L1771.8 235 L1773 234.8 L1774.2 230.8 L1775.5 230.4 L1776.8 226.2 L1778 225 L1779.9 222.2 L1781.8 222.4 L1783.7 218.9 L1785.6 219.1 L1787.4 215.5 L1789.3 215.6 L1791.2 212 L1793.1 212.1 L1795 209.5 L1795.6 211.9 L1796.1 214.4 L1796.7 216.8 L1797.2 219.3 L1797.8 221.7 L1798.4 224.1 L1798.9 226.6 L1799.5 229 L1800 231.5 L1800.6 233.9 L1801.1 236.4 L1801.7 238.8 L1802.3 241.2 L1802.8 243.7 L1803.4 246.1 L1803.9 248.6 L1804.5 251 L1805.2 248.4 L1805.8 245.9 L1806.5 243.3 L1807.1 240.8 L1807.8 238.2 L1808.4 235.6 L1809.1 233.1 L1809.8 230.5 L1810.4 227.9 L1811.1 225.4 L1811.7 222.8 L1812.4 220.2 L1813 217.7 L1813.7 215.1 L1814.3 212.6 L1815 210 L1816.6 206.8 L1818.2 206.4 L1819.8 202.5 L1821.4 202.1 L1822.9 198 L1824.5 197.6 L1826.1 193.6 L1827.7 193.3 L1829.3 190 L1831.5 191 L1833.8 195 L1836 196 L1836.9 198.5 L1837.8 201 L1838.6 203.5 L1839.5 206 L1840.4 208.5 L1841.2 211 L1842.1 213.5 L1843 216" stroke="#ffff00" stroke-width="9.2"/>
</g>
<rect x="288.5" y="56.4" width="1865.1" height="928.1" fill="none" stroke="#000" stroke-width="9.8"/>
<rect x="288.5" y="56.4" width="423.5" height="207.8" fill="#fff" stroke="#000" stroke-width="9.8"/>
<text x="325" y="189.3">Jute Yarn</text>
<text x="253.7" y="1012.1" text-anchor="end">0</text>
<text x="253.7" y="826.5" text-anchor="end">10</text>
<text x="253.7" y="640.9" text-anchor="end">20</text>
<text x="253.7" y="455.2" text-anchor="end">30</text>
<text x="253.7" y="269.6" text-anchor="end">40</text>
<text x="253.7" y="84" text-anchor="end">50</text>
<text x="288.5" y="1115.8" text-anchor="middle">0</text>
<text x="537.1" y="1115.8" text-anchor="middle">0.01</text>
<text x="785.7" y="1115.8" text-anchor="middle">0.02</text>
<text x="1034.3" y="1115.8" text-anchor="middle">0.03</text>
<text x="1282.9" y="1115.8" text-anchor="middle">0.04</text>
<text x="1531.5" y="1115.8" text-anchor="middle">0.05</text>
<text x="1780.1" y="1115.8" text-anchor="middle">0.06</text>
<text x="2028.7" y="1115.8" text-anchor="middle">0.07</text>
<text x="1216.8" y="1218.3" text-anchor="middle" style="font-size:90.5px">Elongation [mm]</text>
<text transform="translate(82 520.7) rotate(-90)" text-anchor="middle">Load [N]</text>
</svg></body></html>
